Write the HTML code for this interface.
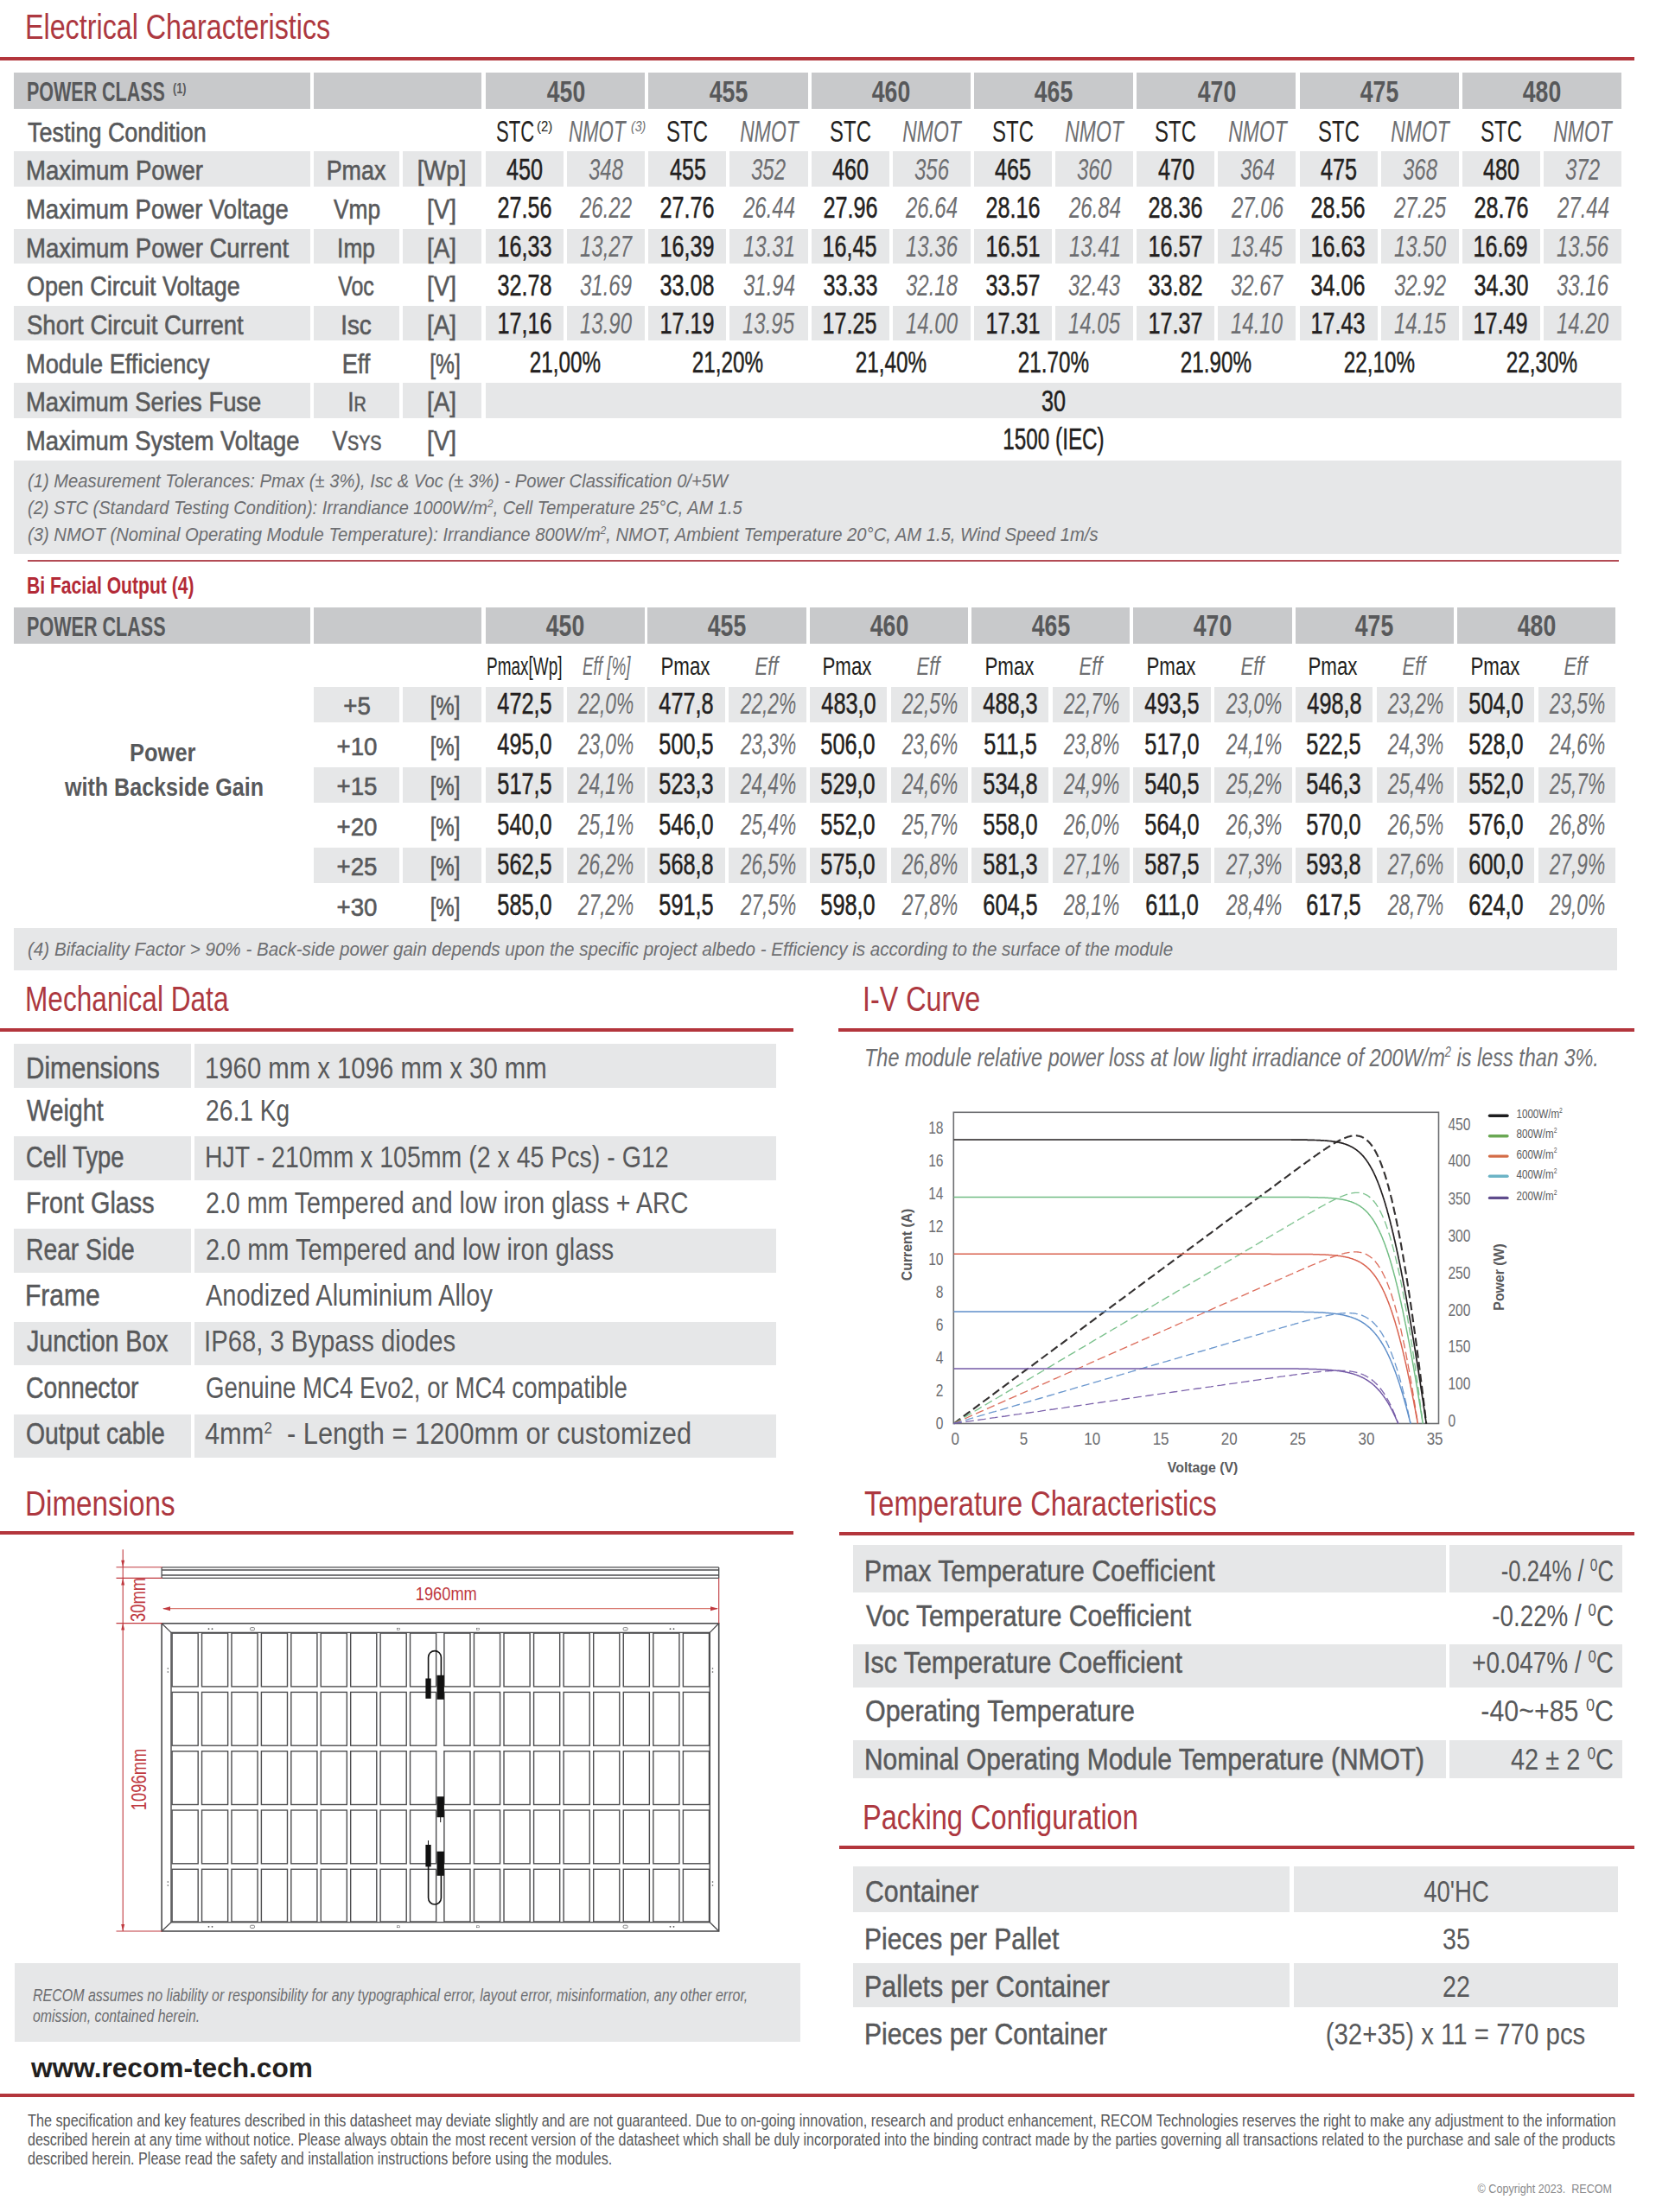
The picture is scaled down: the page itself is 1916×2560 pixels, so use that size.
<!DOCTYPE html>
<html><head><meta charset="utf-8"><title>RECOM datasheet</title>
<style>
html,body{margin:0;padding:0;background:#fff}
body{width:1916px;height:2560px;position:relative;overflow:hidden;font-family:"Liberation Sans",Arial,sans-serif}
.b{position:absolute}
.t{position:absolute;white-space:nowrap;line-height:1;font-family:"Liberation Sans",Arial,sans-serif}
.t sup{line-height:0}
svg{position:absolute;left:0;top:0}
</style></head><body>
<div class="t" style="left:29.1px;top:11.7px;font-size:39.8px;color:#ad3840;transform:scaleX(0.8106);transform-origin:left 50%;">Electrical Characteristics</div>
<div class="b" style="left:0.0px;top:66.0px;width:1891.0px;height:4.0px;background:#b3353c"></div>
<div class="b" style="left:16.0px;top:84.0px;width:343.0px;height:42.0px;background:#c8c9cb"></div>
<div class="b" style="left:363.0px;top:84.0px;width:194.0px;height:42.0px;background:#c8c9cb"></div>
<div class="b" style="left:562.0px;top:84.0px;width:184.3px;height:42.0px;background:#c8c9cb"></div>
<div class="b" style="left:750.3px;top:84.0px;width:184.3px;height:42.0px;background:#c8c9cb"></div>
<div class="b" style="left:938.6px;top:84.0px;width:184.3px;height:42.0px;background:#c8c9cb"></div>
<div class="b" style="left:1126.9px;top:84.0px;width:184.3px;height:42.0px;background:#c8c9cb"></div>
<div class="b" style="left:1315.2px;top:84.0px;width:184.3px;height:42.0px;background:#c8c9cb"></div>
<div class="b" style="left:1503.5px;top:84.0px;width:184.3px;height:42.0px;background:#c8c9cb"></div>
<div class="b" style="left:1691.8px;top:84.0px;width:184.3px;height:42.0px;background:#c8c9cb"></div>
<div class="b" style="left:16.0px;top:175.2px;width:343.0px;height:40.5px;background:#e6e7e8"></div>
<div class="b" style="left:363.0px;top:175.2px;width:99.0px;height:40.5px;background:#e6e7e8"></div>
<div class="b" style="left:466.0px;top:175.2px;width:91.0px;height:40.5px;background:#e6e7e8"></div>
<div class="b" style="left:562.0px;top:175.2px;width:90.0px;height:40.5px;background:#e6e7e8"></div>
<div class="b" style="left:656.0px;top:175.2px;width:90.3px;height:40.5px;background:#e6e7e8"></div>
<div class="b" style="left:750.3px;top:175.2px;width:90.0px;height:40.5px;background:#e6e7e8"></div>
<div class="b" style="left:844.3px;top:175.2px;width:90.3px;height:40.5px;background:#e6e7e8"></div>
<div class="b" style="left:938.6px;top:175.2px;width:90.0px;height:40.5px;background:#e6e7e8"></div>
<div class="b" style="left:1032.6px;top:175.2px;width:90.3px;height:40.5px;background:#e6e7e8"></div>
<div class="b" style="left:1126.9px;top:175.2px;width:90.0px;height:40.5px;background:#e6e7e8"></div>
<div class="b" style="left:1220.9px;top:175.2px;width:90.3px;height:40.5px;background:#e6e7e8"></div>
<div class="b" style="left:1315.2px;top:175.2px;width:90.0px;height:40.5px;background:#e6e7e8"></div>
<div class="b" style="left:1409.2px;top:175.2px;width:90.3px;height:40.5px;background:#e6e7e8"></div>
<div class="b" style="left:1503.5px;top:175.2px;width:90.0px;height:40.5px;background:#e6e7e8"></div>
<div class="b" style="left:1597.5px;top:175.2px;width:90.3px;height:40.5px;background:#e6e7e8"></div>
<div class="b" style="left:1691.8px;top:175.2px;width:90.0px;height:40.5px;background:#e6e7e8"></div>
<div class="b" style="left:1785.8px;top:175.2px;width:90.3px;height:40.5px;background:#e6e7e8"></div>
<div class="b" style="left:16.0px;top:264.5px;width:343.0px;height:40.5px;background:#e6e7e8"></div>
<div class="b" style="left:363.0px;top:264.5px;width:99.0px;height:40.5px;background:#e6e7e8"></div>
<div class="b" style="left:466.0px;top:264.5px;width:91.0px;height:40.5px;background:#e6e7e8"></div>
<div class="b" style="left:562.0px;top:264.5px;width:90.0px;height:40.5px;background:#e6e7e8"></div>
<div class="b" style="left:656.0px;top:264.5px;width:90.3px;height:40.5px;background:#e6e7e8"></div>
<div class="b" style="left:750.3px;top:264.5px;width:90.0px;height:40.5px;background:#e6e7e8"></div>
<div class="b" style="left:844.3px;top:264.5px;width:90.3px;height:40.5px;background:#e6e7e8"></div>
<div class="b" style="left:938.6px;top:264.5px;width:90.0px;height:40.5px;background:#e6e7e8"></div>
<div class="b" style="left:1032.6px;top:264.5px;width:90.3px;height:40.5px;background:#e6e7e8"></div>
<div class="b" style="left:1126.9px;top:264.5px;width:90.0px;height:40.5px;background:#e6e7e8"></div>
<div class="b" style="left:1220.9px;top:264.5px;width:90.3px;height:40.5px;background:#e6e7e8"></div>
<div class="b" style="left:1315.2px;top:264.5px;width:90.0px;height:40.5px;background:#e6e7e8"></div>
<div class="b" style="left:1409.2px;top:264.5px;width:90.3px;height:40.5px;background:#e6e7e8"></div>
<div class="b" style="left:1503.5px;top:264.5px;width:90.0px;height:40.5px;background:#e6e7e8"></div>
<div class="b" style="left:1597.5px;top:264.5px;width:90.3px;height:40.5px;background:#e6e7e8"></div>
<div class="b" style="left:1691.8px;top:264.5px;width:90.0px;height:40.5px;background:#e6e7e8"></div>
<div class="b" style="left:1785.8px;top:264.5px;width:90.3px;height:40.5px;background:#e6e7e8"></div>
<div class="b" style="left:16.0px;top:353.9px;width:343.0px;height:40.5px;background:#e6e7e8"></div>
<div class="b" style="left:363.0px;top:353.9px;width:99.0px;height:40.5px;background:#e6e7e8"></div>
<div class="b" style="left:466.0px;top:353.9px;width:91.0px;height:40.5px;background:#e6e7e8"></div>
<div class="b" style="left:562.0px;top:353.9px;width:90.0px;height:40.5px;background:#e6e7e8"></div>
<div class="b" style="left:656.0px;top:353.9px;width:90.3px;height:40.5px;background:#e6e7e8"></div>
<div class="b" style="left:750.3px;top:353.9px;width:90.0px;height:40.5px;background:#e6e7e8"></div>
<div class="b" style="left:844.3px;top:353.9px;width:90.3px;height:40.5px;background:#e6e7e8"></div>
<div class="b" style="left:938.6px;top:353.9px;width:90.0px;height:40.5px;background:#e6e7e8"></div>
<div class="b" style="left:1032.6px;top:353.9px;width:90.3px;height:40.5px;background:#e6e7e8"></div>
<div class="b" style="left:1126.9px;top:353.9px;width:90.0px;height:40.5px;background:#e6e7e8"></div>
<div class="b" style="left:1220.9px;top:353.9px;width:90.3px;height:40.5px;background:#e6e7e8"></div>
<div class="b" style="left:1315.2px;top:353.9px;width:90.0px;height:40.5px;background:#e6e7e8"></div>
<div class="b" style="left:1409.2px;top:353.9px;width:90.3px;height:40.5px;background:#e6e7e8"></div>
<div class="b" style="left:1503.5px;top:353.9px;width:90.0px;height:40.5px;background:#e6e7e8"></div>
<div class="b" style="left:1597.5px;top:353.9px;width:90.3px;height:40.5px;background:#e6e7e8"></div>
<div class="b" style="left:1691.8px;top:353.9px;width:90.0px;height:40.5px;background:#e6e7e8"></div>
<div class="b" style="left:1785.8px;top:353.9px;width:90.3px;height:40.5px;background:#e6e7e8"></div>
<div class="b" style="left:16.0px;top:443.2px;width:343.0px;height:40.5px;background:#e6e7e8"></div>
<div class="b" style="left:363.0px;top:443.2px;width:99.0px;height:40.5px;background:#e6e7e8"></div>
<div class="b" style="left:466.0px;top:443.2px;width:91.0px;height:40.5px;background:#e6e7e8"></div>
<div class="b" style="left:562.0px;top:443.2px;width:1314.0px;height:40.5px;background:#e6e7e8"></div>
<div class="b" style="left:16.0px;top:532.5px;width:1860.0px;height:108.5px;background:#e6e7e8"></div>
<div class="t" style="left:31.3px;top:91.0px;font-size:30.6px;color:#58595b;font-weight:700;transform:scaleX(0.702);transform-origin:left 50%;">POWER CLASS</div>
<div class="t" style="left:200.0px;top:94.4px;font-size:17px;color:#58595b;font-weight:700;transform:scaleX(0.7457);transform-origin:left 50%;">(1)</div>
<div class="t" style="left:654.6px;top:89.0px;font-size:34.3px;color:#58595b;font-weight:700;transform:translateX(-50%) scaleX(0.775);transform-origin:center 50%;">450</div>
<div class="t" style="left:842.5px;top:89.0px;font-size:34.3px;color:#58595b;font-weight:700;transform:translateX(-50%) scaleX(0.775);transform-origin:center 50%;">455</div>
<div class="t" style="left:1031.2px;top:89.0px;font-size:34.3px;color:#58595b;font-weight:700;transform:translateX(-50%) scaleX(0.775);transform-origin:center 50%;">460</div>
<div class="t" style="left:1219.1px;top:89.0px;font-size:34.3px;color:#58595b;font-weight:700;transform:translateX(-50%) scaleX(0.775);transform-origin:center 50%;">465</div>
<div class="t" style="left:1407.8px;top:89.0px;font-size:34.3px;color:#58595b;font-weight:700;transform:translateX(-50%) scaleX(0.775);transform-origin:center 50%;">470</div>
<div class="t" style="left:1595.7px;top:89.0px;font-size:34.3px;color:#58595b;font-weight:700;transform:translateX(-50%) scaleX(0.775);transform-origin:center 50%;">475</div>
<div class="t" style="left:1784.4px;top:89.0px;font-size:34.3px;color:#58595b;font-weight:700;transform:translateX(-50%) scaleX(0.775);transform-origin:center 50%;">480</div>
<div class="t" style="left:31.9px;top:137.7px;font-size:31.7px;color:#58595b;transform:scaleX(0.8506);transform-origin:left 50%;-webkit-text-stroke:0.6px #58595b;">Testing Condition</div>
<div class="t" style="left:30.2px;top:182.3px;font-size:31.7px;color:#58595b;transform:scaleX(0.8687);transform-origin:left 50%;-webkit-text-stroke:0.6px #58595b;">Maximum Power</div>
<div class="t" style="left:411.6px;top:182.3px;font-size:31.7px;color:#58595b;transform:translateX(-50%) scaleX(0.8477);transform-origin:center 50%;-webkit-text-stroke:0.6px #58595b;">Pmax</div>
<div class="t" style="left:511.4px;top:182.3px;font-size:31.7px;color:#58595b;transform:translateX(-50%) scaleX(0.8706);transform-origin:center 50%;-webkit-text-stroke:0.6px #58595b;">[Wp]</div>
<div class="t" style="left:30.2px;top:227.0px;font-size:31.7px;color:#58595b;transform:scaleX(0.8665);transform-origin:left 50%;-webkit-text-stroke:0.6px #58595b;">Maximum Power Voltage</div>
<div class="t" style="left:412.8px;top:227.0px;font-size:31.7px;color:#58595b;transform:translateX(-50%) scaleX(0.83);transform-origin:center 50%;-webkit-text-stroke:0.6px #58595b;">Vmp</div>
<div class="t" style="left:511.4px;top:227.0px;font-size:31.7px;color:#58595b;transform:translateX(-50%) scaleX(0.8815);transform-origin:center 50%;-webkit-text-stroke:0.6px #58595b;">[V]</div>
<div class="t" style="left:30.2px;top:271.7px;font-size:31.7px;color:#58595b;transform:scaleX(0.868);transform-origin:left 50%;-webkit-text-stroke:0.6px #58595b;">Maximum Power Current</div>
<div class="t" style="left:411.9px;top:271.7px;font-size:31.7px;color:#58595b;transform:translateX(-50%) scaleX(0.83);transform-origin:center 50%;-webkit-text-stroke:0.6px #58595b;">Imp</div>
<div class="t" style="left:511.4px;top:271.7px;font-size:31.7px;color:#58595b;transform:translateX(-50%) scaleX(0.8815);transform-origin:center 50%;-webkit-text-stroke:0.6px #58595b;">[A]</div>
<div class="t" style="left:31.1px;top:316.3px;font-size:31.7px;color:#58595b;transform:scaleX(0.8488);transform-origin:left 50%;-webkit-text-stroke:0.6px #58595b;">Open Circuit Voltage</div>
<div class="t" style="left:412.4px;top:316.3px;font-size:31.7px;color:#58595b;transform:translateX(-50%) scaleX(0.7867);transform-origin:center 50%;-webkit-text-stroke:0.6px #58595b;">Voc</div>
<div class="t" style="left:511.4px;top:316.3px;font-size:31.7px;color:#58595b;transform:translateX(-50%) scaleX(0.8815);transform-origin:center 50%;-webkit-text-stroke:0.6px #58595b;">[V]</div>
<div class="t" style="left:31.0px;top:361.0px;font-size:31.7px;color:#58595b;transform:scaleX(0.8681);transform-origin:left 50%;-webkit-text-stroke:0.6px #58595b;">Short Circuit Current</div>
<div class="t" style="left:411.6px;top:361.0px;font-size:31.7px;color:#58595b;transform:translateX(-50%) scaleX(0.8797);transform-origin:center 50%;-webkit-text-stroke:0.6px #58595b;">Isc</div>
<div class="t" style="left:511.4px;top:361.0px;font-size:31.7px;color:#58595b;transform:translateX(-50%) scaleX(0.8815);transform-origin:center 50%;-webkit-text-stroke:0.6px #58595b;">[A]</div>
<div class="t" style="left:30.2px;top:405.7px;font-size:31.7px;color:#58595b;transform:scaleX(0.8576);transform-origin:left 50%;-webkit-text-stroke:0.6px #58595b;">Module Efficiency</div>
<div class="t" style="left:411.6px;top:405.7px;font-size:31.7px;color:#58595b;transform:translateX(-50%) scaleX(0.8579);transform-origin:center 50%;-webkit-text-stroke:0.6px #58595b;">Eff</div>
<div class="t" style="left:514.9px;top:405.7px;font-size:31.7px;color:#58595b;transform:translateX(-50%) scaleX(0.7766);transform-origin:center 50%;-webkit-text-stroke:0.6px #58595b;">[%]</div>
<div class="t" style="left:30.2px;top:450.4px;font-size:31.7px;color:#58595b;transform:scaleX(0.8638);transform-origin:left 50%;-webkit-text-stroke:0.6px #58595b;">Maximum Series Fuse</div>
<div class="t" style="left:412.5px;top:450.4px;font-size:31.7px;color:#58595b;transform:translateX(-50%) scaleX(0.83);transform-origin:center 50%;-webkit-text-stroke:0.6px #58595b;">I<span style="font-size:0.75em">R</span></div>
<div class="t" style="left:511.4px;top:450.4px;font-size:31.7px;color:#58595b;transform:translateX(-50%) scaleX(0.8815);transform-origin:center 50%;-webkit-text-stroke:0.6px #58595b;">[A]</div>
<div class="t" style="left:30.2px;top:495.0px;font-size:31.7px;color:#58595b;transform:scaleX(0.8637);transform-origin:left 50%;-webkit-text-stroke:0.6px #58595b;">Maximum System Voltage</div>
<div class="t" style="left:412.5px;top:495.0px;font-size:31.7px;color:#58595b;transform:translateX(-50%) scaleX(0.83);transform-origin:center 50%;-webkit-text-stroke:0.6px #58595b;">V<span style="font-size:0.75em">SYS</span></div>
<div class="t" style="left:511.4px;top:495.0px;font-size:31.7px;color:#58595b;transform:translateX(-50%) scaleX(0.8815);transform-origin:center 50%;-webkit-text-stroke:0.6px #58595b;">[V]</div>
<div class="t" style="left:573.8px;top:135.1px;font-size:34.7px;color:#231f20;transform:scaleX(0.6357);transform-origin:left 50%;">STC</div>
<div class="t" style="left:620.6px;top:139.0px;font-size:16px;color:#231f20;transform:scaleX(0.9327);transform-origin:left 50%;">(2)</div>
<div class="t" style="left:658.2px;top:135.1px;font-size:34.7px;color:#6d6e71;font-style:italic;transform:scaleX(0.6418);transform-origin:left 50%;">NMOT</div>
<div class="t" style="left:729.5px;top:139.0px;font-size:16px;color:#6d6e71;font-style:italic;transform:scaleX(0.8842);transform-origin:left 50%;">(3)</div>
<div class="t" style="left:795.3px;top:135.1px;font-size:34.7px;color:#231f20;transform:translateX(-50%) scaleX(0.69);transform-origin:center 50%;">STC</div>
<div class="t" style="left:889.7px;top:135.1px;font-size:34.7px;color:#6d6e71;font-style:italic;transform:translateX(-50%) scaleX(0.66);transform-origin:center 50%;">NMOT</div>
<div class="t" style="left:983.6px;top:135.1px;font-size:34.7px;color:#231f20;transform:translateX(-50%) scaleX(0.69);transform-origin:center 50%;">STC</div>
<div class="t" style="left:1078.0px;top:135.1px;font-size:34.7px;color:#6d6e71;font-style:italic;transform:translateX(-50%) scaleX(0.66);transform-origin:center 50%;">NMOT</div>
<div class="t" style="left:1171.9px;top:135.1px;font-size:34.7px;color:#231f20;transform:translateX(-50%) scaleX(0.69);transform-origin:center 50%;">STC</div>
<div class="t" style="left:1266.3px;top:135.1px;font-size:34.7px;color:#6d6e71;font-style:italic;transform:translateX(-50%) scaleX(0.66);transform-origin:center 50%;">NMOT</div>
<div class="t" style="left:1360.2px;top:135.1px;font-size:34.7px;color:#231f20;transform:translateX(-50%) scaleX(0.69);transform-origin:center 50%;">STC</div>
<div class="t" style="left:1454.6px;top:135.1px;font-size:34.7px;color:#6d6e71;font-style:italic;transform:translateX(-50%) scaleX(0.66);transform-origin:center 50%;">NMOT</div>
<div class="t" style="left:1548.5px;top:135.1px;font-size:34.7px;color:#231f20;transform:translateX(-50%) scaleX(0.69);transform-origin:center 50%;">STC</div>
<div class="t" style="left:1642.9px;top:135.1px;font-size:34.7px;color:#6d6e71;font-style:italic;transform:translateX(-50%) scaleX(0.66);transform-origin:center 50%;">NMOT</div>
<div class="t" style="left:1736.8px;top:135.1px;font-size:34.7px;color:#231f20;transform:translateX(-50%) scaleX(0.69);transform-origin:center 50%;">STC</div>
<div class="t" style="left:1831.2px;top:135.1px;font-size:34.7px;color:#6d6e71;font-style:italic;transform:translateX(-50%) scaleX(0.66);transform-origin:center 50%;">NMOT</div>
<div class="t" style="left:607.3px;top:178.7px;font-size:35.7px;color:#231f20;transform:translateX(-50%) scaleX(0.706);transform-origin:center 50%;-webkit-text-stroke:0.5px #231f20;">450</div>
<div class="t" style="left:701.1px;top:178.7px;font-size:35.7px;color:#6d6e71;font-style:italic;transform:translateX(-50%) scaleX(0.672);transform-origin:center 50%;">348</div>
<div class="t" style="left:795.6px;top:178.7px;font-size:35.7px;color:#231f20;transform:translateX(-50%) scaleX(0.706);transform-origin:center 50%;-webkit-text-stroke:0.5px #231f20;">455</div>
<div class="t" style="left:889.4px;top:178.7px;font-size:35.7px;color:#6d6e71;font-style:italic;transform:translateX(-50%) scaleX(0.672);transform-origin:center 50%;">352</div>
<div class="t" style="left:983.9px;top:178.7px;font-size:35.7px;color:#231f20;transform:translateX(-50%) scaleX(0.706);transform-origin:center 50%;-webkit-text-stroke:0.5px #231f20;">460</div>
<div class="t" style="left:1077.7px;top:178.7px;font-size:35.7px;color:#6d6e71;font-style:italic;transform:translateX(-50%) scaleX(0.672);transform-origin:center 50%;">356</div>
<div class="t" style="left:1172.2px;top:178.7px;font-size:35.7px;color:#231f20;transform:translateX(-50%) scaleX(0.706);transform-origin:center 50%;-webkit-text-stroke:0.5px #231f20;">465</div>
<div class="t" style="left:1266.0px;top:178.7px;font-size:35.7px;color:#6d6e71;font-style:italic;transform:translateX(-50%) scaleX(0.672);transform-origin:center 50%;">360</div>
<div class="t" style="left:1360.5px;top:178.7px;font-size:35.7px;color:#231f20;transform:translateX(-50%) scaleX(0.706);transform-origin:center 50%;-webkit-text-stroke:0.5px #231f20;">470</div>
<div class="t" style="left:1454.6px;top:178.7px;font-size:35.7px;color:#6d6e71;font-style:italic;transform:translateX(-50%) scaleX(0.672);transform-origin:center 50%;">364</div>
<div class="t" style="left:1548.8px;top:178.7px;font-size:35.7px;color:#231f20;transform:translateX(-50%) scaleX(0.706);transform-origin:center 50%;-webkit-text-stroke:0.5px #231f20;">475</div>
<div class="t" style="left:1642.6px;top:178.7px;font-size:35.7px;color:#6d6e71;font-style:italic;transform:translateX(-50%) scaleX(0.672);transform-origin:center 50%;">368</div>
<div class="t" style="left:1737.1px;top:178.7px;font-size:35.7px;color:#231f20;transform:translateX(-50%) scaleX(0.706);transform-origin:center 50%;-webkit-text-stroke:0.5px #231f20;">480</div>
<div class="t" style="left:1830.9px;top:178.7px;font-size:35.7px;color:#6d6e71;font-style:italic;transform:translateX(-50%) scaleX(0.672);transform-origin:center 50%;">372</div>
<div class="t" style="left:606.9px;top:223.4px;font-size:35.7px;color:#231f20;transform:translateX(-50%) scaleX(0.706);transform-origin:center 50%;-webkit-text-stroke:0.5px #231f20;">27.56</div>
<div class="t" style="left:701.4px;top:223.4px;font-size:35.7px;color:#6d6e71;font-style:italic;transform:translateX(-50%) scaleX(0.672);transform-origin:center 50%;">26.22</div>
<div class="t" style="left:795.2px;top:223.4px;font-size:35.7px;color:#231f20;transform:translateX(-50%) scaleX(0.706);transform-origin:center 50%;-webkit-text-stroke:0.5px #231f20;">27.76</div>
<div class="t" style="left:890.1px;top:223.4px;font-size:35.7px;color:#6d6e71;font-style:italic;transform:translateX(-50%) scaleX(0.672);transform-origin:center 50%;">26.44</div>
<div class="t" style="left:983.5px;top:223.4px;font-size:35.7px;color:#231f20;transform:translateX(-50%) scaleX(0.706);transform-origin:center 50%;-webkit-text-stroke:0.5px #231f20;">27.96</div>
<div class="t" style="left:1078.4px;top:223.4px;font-size:35.7px;color:#6d6e71;font-style:italic;transform:translateX(-50%) scaleX(0.672);transform-origin:center 50%;">26.64</div>
<div class="t" style="left:1171.8px;top:223.4px;font-size:35.7px;color:#231f20;transform:translateX(-50%) scaleX(0.706);transform-origin:center 50%;-webkit-text-stroke:0.5px #231f20;">28.16</div>
<div class="t" style="left:1266.7px;top:223.4px;font-size:35.7px;color:#6d6e71;font-style:italic;transform:translateX(-50%) scaleX(0.672);transform-origin:center 50%;">26.84</div>
<div class="t" style="left:1360.1px;top:223.4px;font-size:35.7px;color:#231f20;transform:translateX(-50%) scaleX(0.706);transform-origin:center 50%;-webkit-text-stroke:0.5px #231f20;">28.36</div>
<div class="t" style="left:1454.6px;top:223.4px;font-size:35.7px;color:#6d6e71;font-style:italic;transform:translateX(-50%) scaleX(0.672);transform-origin:center 50%;">27.06</div>
<div class="t" style="left:1548.4px;top:223.4px;font-size:35.7px;color:#231f20;transform:translateX(-50%) scaleX(0.706);transform-origin:center 50%;-webkit-text-stroke:0.5px #231f20;">28.56</div>
<div class="t" style="left:1642.9px;top:223.4px;font-size:35.7px;color:#6d6e71;font-style:italic;transform:translateX(-50%) scaleX(0.672);transform-origin:center 50%;">27.25</div>
<div class="t" style="left:1736.7px;top:223.4px;font-size:35.7px;color:#231f20;transform:translateX(-50%) scaleX(0.706);transform-origin:center 50%;-webkit-text-stroke:0.5px #231f20;">28.76</div>
<div class="t" style="left:1831.6px;top:223.4px;font-size:35.7px;color:#6d6e71;font-style:italic;transform:translateX(-50%) scaleX(0.672);transform-origin:center 50%;">27.44</div>
<div class="t" style="left:606.6px;top:268.1px;font-size:35.7px;color:#231f20;transform:translateX(-50%) scaleX(0.706);transform-origin:center 50%;-webkit-text-stroke:0.5px #231f20;">16,33</div>
<div class="t" style="left:700.8px;top:268.1px;font-size:35.7px;color:#6d6e71;font-style:italic;transform:translateX(-50%) scaleX(0.672);transform-origin:center 50%;">13,27</div>
<div class="t" style="left:794.9px;top:268.1px;font-size:35.7px;color:#231f20;transform:translateX(-50%) scaleX(0.706);transform-origin:center 50%;-webkit-text-stroke:0.5px #231f20;">16,39</div>
<div class="t" style="left:890.4px;top:268.1px;font-size:35.7px;color:#6d6e71;font-style:italic;transform:translateX(-50%) scaleX(0.672);transform-origin:center 50%;">13.31</div>
<div class="t" style="left:983.2px;top:268.1px;font-size:35.7px;color:#231f20;transform:translateX(-50%) scaleX(0.706);transform-origin:center 50%;-webkit-text-stroke:0.5px #231f20;">16,45</div>
<div class="t" style="left:1077.7px;top:268.1px;font-size:35.7px;color:#6d6e71;font-style:italic;transform:translateX(-50%) scaleX(0.672);transform-origin:center 50%;">13.36</div>
<div class="t" style="left:1171.5px;top:268.1px;font-size:35.7px;color:#231f20;transform:translateX(-50%) scaleX(0.706);transform-origin:center 50%;-webkit-text-stroke:0.5px #231f20;">16.51</div>
<div class="t" style="left:1267.0px;top:268.1px;font-size:35.7px;color:#6d6e71;font-style:italic;transform:translateX(-50%) scaleX(0.672);transform-origin:center 50%;">13.41</div>
<div class="t" style="left:1359.8px;top:268.1px;font-size:35.7px;color:#231f20;transform:translateX(-50%) scaleX(0.706);transform-origin:center 50%;-webkit-text-stroke:0.5px #231f20;">16.57</div>
<div class="t" style="left:1454.3px;top:268.1px;font-size:35.7px;color:#6d6e71;font-style:italic;transform:translateX(-50%) scaleX(0.672);transform-origin:center 50%;">13.45</div>
<div class="t" style="left:1548.1px;top:268.1px;font-size:35.7px;color:#231f20;transform:translateX(-50%) scaleX(0.706);transform-origin:center 50%;-webkit-text-stroke:0.5px #231f20;">16.63</div>
<div class="t" style="left:1642.6px;top:268.1px;font-size:35.7px;color:#6d6e71;font-style:italic;transform:translateX(-50%) scaleX(0.672);transform-origin:center 50%;">13.50</div>
<div class="t" style="left:1736.4px;top:268.1px;font-size:35.7px;color:#231f20;transform:translateX(-50%) scaleX(0.706);transform-origin:center 50%;-webkit-text-stroke:0.5px #231f20;">16.69</div>
<div class="t" style="left:1830.9px;top:268.1px;font-size:35.7px;color:#6d6e71;font-style:italic;transform:translateX(-50%) scaleX(0.672);transform-origin:center 50%;">13.56</div>
<div class="t" style="left:606.9px;top:312.8px;font-size:35.7px;color:#231f20;transform:translateX(-50%) scaleX(0.706);transform-origin:center 50%;-webkit-text-stroke:0.5px #231f20;">32.78</div>
<div class="t" style="left:701.1px;top:312.8px;font-size:35.7px;color:#6d6e71;font-style:italic;transform:translateX(-50%) scaleX(0.672);transform-origin:center 50%;">31.69</div>
<div class="t" style="left:795.2px;top:312.8px;font-size:35.7px;color:#231f20;transform:translateX(-50%) scaleX(0.706);transform-origin:center 50%;-webkit-text-stroke:0.5px #231f20;">33.08</div>
<div class="t" style="left:889.7px;top:312.8px;font-size:35.7px;color:#6d6e71;font-style:italic;transform:translateX(-50%) scaleX(0.672);transform-origin:center 50%;">31.94</div>
<div class="t" style="left:983.5px;top:312.8px;font-size:35.7px;color:#231f20;transform:translateX(-50%) scaleX(0.706);transform-origin:center 50%;-webkit-text-stroke:0.5px #231f20;">33.33</div>
<div class="t" style="left:1077.7px;top:312.8px;font-size:35.7px;color:#6d6e71;font-style:italic;transform:translateX(-50%) scaleX(0.672);transform-origin:center 50%;">32.18</div>
<div class="t" style="left:1171.8px;top:312.8px;font-size:35.7px;color:#231f20;transform:translateX(-50%) scaleX(0.706);transform-origin:center 50%;-webkit-text-stroke:0.5px #231f20;">33.57</div>
<div class="t" style="left:1266.0px;top:312.8px;font-size:35.7px;color:#6d6e71;font-style:italic;transform:translateX(-50%) scaleX(0.672);transform-origin:center 50%;">32.43</div>
<div class="t" style="left:1360.1px;top:312.8px;font-size:35.7px;color:#231f20;transform:translateX(-50%) scaleX(0.706);transform-origin:center 50%;-webkit-text-stroke:0.5px #231f20;">33.82</div>
<div class="t" style="left:1454.0px;top:312.8px;font-size:35.7px;color:#6d6e71;font-style:italic;transform:translateX(-50%) scaleX(0.672);transform-origin:center 50%;">32.67</div>
<div class="t" style="left:1548.4px;top:312.8px;font-size:35.7px;color:#231f20;transform:translateX(-50%) scaleX(0.706);transform-origin:center 50%;-webkit-text-stroke:0.5px #231f20;">34.06</div>
<div class="t" style="left:1642.6px;top:312.8px;font-size:35.7px;color:#6d6e71;font-style:italic;transform:translateX(-50%) scaleX(0.672);transform-origin:center 50%;">32.92</div>
<div class="t" style="left:1736.7px;top:312.8px;font-size:35.7px;color:#231f20;transform:translateX(-50%) scaleX(0.706);transform-origin:center 50%;-webkit-text-stroke:0.5px #231f20;">34.30</div>
<div class="t" style="left:1830.9px;top:312.8px;font-size:35.7px;color:#6d6e71;font-style:italic;transform:translateX(-50%) scaleX(0.672);transform-origin:center 50%;">33.16</div>
<div class="t" style="left:606.6px;top:357.4px;font-size:35.7px;color:#231f20;transform:translateX(-50%) scaleX(0.706);transform-origin:center 50%;-webkit-text-stroke:0.5px #231f20;">17,16</div>
<div class="t" style="left:701.1px;top:357.4px;font-size:35.7px;color:#6d6e71;font-style:italic;transform:translateX(-50%) scaleX(0.672);transform-origin:center 50%;">13.90</div>
<div class="t" style="left:794.9px;top:357.4px;font-size:35.7px;color:#231f20;transform:translateX(-50%) scaleX(0.706);transform-origin:center 50%;-webkit-text-stroke:0.5px #231f20;">17.19</div>
<div class="t" style="left:889.4px;top:357.4px;font-size:35.7px;color:#6d6e71;font-style:italic;transform:translateX(-50%) scaleX(0.672);transform-origin:center 50%;">13.95</div>
<div class="t" style="left:983.2px;top:357.4px;font-size:35.7px;color:#231f20;transform:translateX(-50%) scaleX(0.706);transform-origin:center 50%;-webkit-text-stroke:0.5px #231f20;">17.25</div>
<div class="t" style="left:1077.7px;top:357.4px;font-size:35.7px;color:#6d6e71;font-style:italic;transform:translateX(-50%) scaleX(0.672);transform-origin:center 50%;">14.00</div>
<div class="t" style="left:1171.5px;top:357.4px;font-size:35.7px;color:#231f20;transform:translateX(-50%) scaleX(0.706);transform-origin:center 50%;-webkit-text-stroke:0.5px #231f20;">17.31</div>
<div class="t" style="left:1266.0px;top:357.4px;font-size:35.7px;color:#6d6e71;font-style:italic;transform:translateX(-50%) scaleX(0.672);transform-origin:center 50%;">14.05</div>
<div class="t" style="left:1359.8px;top:357.4px;font-size:35.7px;color:#231f20;transform:translateX(-50%) scaleX(0.706);transform-origin:center 50%;-webkit-text-stroke:0.5px #231f20;">17.37</div>
<div class="t" style="left:1454.3px;top:357.4px;font-size:35.7px;color:#6d6e71;font-style:italic;transform:translateX(-50%) scaleX(0.672);transform-origin:center 50%;">14.10</div>
<div class="t" style="left:1548.1px;top:357.4px;font-size:35.7px;color:#231f20;transform:translateX(-50%) scaleX(0.706);transform-origin:center 50%;-webkit-text-stroke:0.5px #231f20;">17.43</div>
<div class="t" style="left:1642.6px;top:357.4px;font-size:35.7px;color:#6d6e71;font-style:italic;transform:translateX(-50%) scaleX(0.672);transform-origin:center 50%;">14.15</div>
<div class="t" style="left:1736.4px;top:357.4px;font-size:35.7px;color:#231f20;transform:translateX(-50%) scaleX(0.706);transform-origin:center 50%;-webkit-text-stroke:0.5px #231f20;">17.49</div>
<div class="t" style="left:1830.9px;top:357.4px;font-size:35.7px;color:#6d6e71;font-style:italic;transform:translateX(-50%) scaleX(0.672);transform-origin:center 50%;">14.20</div>
<div class="t" style="left:654.1px;top:402.1px;font-size:35.7px;color:#231f20;transform:translateX(-50%) scaleX(0.68);transform-origin:center 50%;-webkit-text-stroke:0.5px #231f20;">21,00%</div>
<div class="t" style="left:842.4px;top:402.1px;font-size:35.7px;color:#231f20;transform:translateX(-50%) scaleX(0.68);transform-origin:center 50%;-webkit-text-stroke:0.5px #231f20;">21,20%</div>
<div class="t" style="left:1030.7px;top:402.1px;font-size:35.7px;color:#231f20;transform:translateX(-50%) scaleX(0.68);transform-origin:center 50%;-webkit-text-stroke:0.5px #231f20;">21,40%</div>
<div class="t" style="left:1219.0px;top:402.1px;font-size:35.7px;color:#231f20;transform:translateX(-50%) scaleX(0.68);transform-origin:center 50%;-webkit-text-stroke:0.5px #231f20;">21.70%</div>
<div class="t" style="left:1407.3px;top:402.1px;font-size:35.7px;color:#231f20;transform:translateX(-50%) scaleX(0.68);transform-origin:center 50%;-webkit-text-stroke:0.5px #231f20;">21.90%</div>
<div class="t" style="left:1595.6px;top:402.1px;font-size:35.7px;color:#231f20;transform:translateX(-50%) scaleX(0.68);transform-origin:center 50%;-webkit-text-stroke:0.5px #231f20;">22,10%</div>
<div class="t" style="left:1783.9px;top:402.1px;font-size:35.7px;color:#231f20;transform:translateX(-50%) scaleX(0.68);transform-origin:center 50%;-webkit-text-stroke:0.5px #231f20;">22,30%</div>
<div class="t" style="left:1218.9px;top:446.8px;font-size:35.7px;color:#231f20;transform:translateX(-50%) scaleX(0.706);transform-origin:center 50%;-webkit-text-stroke:0.5px #231f20;">30</div>
<div class="t" style="left:1219.0px;top:491.4px;font-size:35.7px;color:#231f20;transform:translateX(-50%) scaleX(0.68);transform-origin:center 50%;-webkit-text-stroke:0.5px #231f20;">1500 (IEC)</div>
<div class="t" style="left:32.1px;top:545.9px;font-size:21.8px;color:#6d6e71;font-style:italic;transform:scaleX(0.9263);transform-origin:left 50%;">(1) Measurement Tolerances: Pmax (± 3%), Isc &amp; Voc (±  3%)  - Power Classification 0/+5W</div>
<div class="t" style="left:32.2px;top:576.7px;font-size:21.8px;color:#6d6e71;font-style:italic;transform:scaleX(0.918);transform-origin:left 50%;">(2) STC (Standard Testing Condition): Irrandiance 1000W/m<sup style="font-size:0.6em">2</sup>, Cell Temperature 25°C, AM 1.5</div>
<div class="t" style="left:32.2px;top:607.5px;font-size:21.8px;color:#6d6e71;font-style:italic;transform:scaleX(0.928);transform-origin:left 50%;">(3) NMOT (Nominal Operating Module Temperature): Irrandiance 800W/m<sup style="font-size:0.6em">2</sup>, NMOT, Ambient Temperature 20°C, AM 1.5, Wind Speed 1m/s</div>
<div class="b" style="left:32.0px;top:647.6px;width:1841.0px;height:2.4px;background:#b34c55"></div>
<div class="t" style="left:31.1px;top:664.3px;font-size:28px;color:#b32a37;font-weight:700;transform:scaleX(0.7537);transform-origin:left 50%;">Bi Facial Output (4)</div>
<div class="b" style="left:16.0px;top:702.5px;width:343.0px;height:42.0px;background:#c8c9cb"></div>
<div class="b" style="left:363.0px;top:702.5px;width:194.0px;height:42.0px;background:#c8c9cb"></div>
<div class="b" style="left:562.0px;top:702.5px;width:183.5px;height:42.0px;background:#c8c9cb"></div>
<div class="b" style="left:749.3px;top:702.5px;width:183.5px;height:42.0px;background:#c8c9cb"></div>
<div class="b" style="left:936.6px;top:702.5px;width:183.5px;height:42.0px;background:#c8c9cb"></div>
<div class="b" style="left:1123.9px;top:702.5px;width:183.5px;height:42.0px;background:#c8c9cb"></div>
<div class="b" style="left:1311.2px;top:702.5px;width:183.5px;height:42.0px;background:#c8c9cb"></div>
<div class="b" style="left:1498.5px;top:702.5px;width:183.5px;height:42.0px;background:#c8c9cb"></div>
<div class="b" style="left:1685.8px;top:702.5px;width:183.5px;height:42.0px;background:#c8c9cb"></div>
<div class="b" style="left:363.0px;top:795.2px;width:99.0px;height:40.8px;background:#e6e7e8"></div>
<div class="b" style="left:466.0px;top:795.2px;width:91.0px;height:40.8px;background:#e6e7e8"></div>
<div class="b" style="left:562.0px;top:795.2px;width:89.5px;height:40.8px;background:#e6e7e8"></div>
<div class="b" style="left:656.0px;top:795.2px;width:89.5px;height:40.8px;background:#e6e7e8"></div>
<div class="b" style="left:749.3px;top:795.2px;width:89.5px;height:40.8px;background:#e6e7e8"></div>
<div class="b" style="left:843.3px;top:795.2px;width:89.5px;height:40.8px;background:#e6e7e8"></div>
<div class="b" style="left:936.6px;top:795.2px;width:89.5px;height:40.8px;background:#e6e7e8"></div>
<div class="b" style="left:1030.6px;top:795.2px;width:89.5px;height:40.8px;background:#e6e7e8"></div>
<div class="b" style="left:1123.9px;top:795.2px;width:89.5px;height:40.8px;background:#e6e7e8"></div>
<div class="b" style="left:1217.9px;top:795.2px;width:89.5px;height:40.8px;background:#e6e7e8"></div>
<div class="b" style="left:1311.2px;top:795.2px;width:89.5px;height:40.8px;background:#e6e7e8"></div>
<div class="b" style="left:1405.2px;top:795.2px;width:89.5px;height:40.8px;background:#e6e7e8"></div>
<div class="b" style="left:1498.5px;top:795.2px;width:89.5px;height:40.8px;background:#e6e7e8"></div>
<div class="b" style="left:1592.5px;top:795.2px;width:89.5px;height:40.8px;background:#e6e7e8"></div>
<div class="b" style="left:1685.8px;top:795.2px;width:89.5px;height:40.8px;background:#e6e7e8"></div>
<div class="b" style="left:1779.8px;top:795.2px;width:89.5px;height:40.8px;background:#e6e7e8"></div>
<div class="b" style="left:363.0px;top:888.2px;width:99.0px;height:40.8px;background:#e6e7e8"></div>
<div class="b" style="left:466.0px;top:888.2px;width:91.0px;height:40.8px;background:#e6e7e8"></div>
<div class="b" style="left:562.0px;top:888.2px;width:89.5px;height:40.8px;background:#e6e7e8"></div>
<div class="b" style="left:656.0px;top:888.2px;width:89.5px;height:40.8px;background:#e6e7e8"></div>
<div class="b" style="left:749.3px;top:888.2px;width:89.5px;height:40.8px;background:#e6e7e8"></div>
<div class="b" style="left:843.3px;top:888.2px;width:89.5px;height:40.8px;background:#e6e7e8"></div>
<div class="b" style="left:936.6px;top:888.2px;width:89.5px;height:40.8px;background:#e6e7e8"></div>
<div class="b" style="left:1030.6px;top:888.2px;width:89.5px;height:40.8px;background:#e6e7e8"></div>
<div class="b" style="left:1123.9px;top:888.2px;width:89.5px;height:40.8px;background:#e6e7e8"></div>
<div class="b" style="left:1217.9px;top:888.2px;width:89.5px;height:40.8px;background:#e6e7e8"></div>
<div class="b" style="left:1311.2px;top:888.2px;width:89.5px;height:40.8px;background:#e6e7e8"></div>
<div class="b" style="left:1405.2px;top:888.2px;width:89.5px;height:40.8px;background:#e6e7e8"></div>
<div class="b" style="left:1498.5px;top:888.2px;width:89.5px;height:40.8px;background:#e6e7e8"></div>
<div class="b" style="left:1592.5px;top:888.2px;width:89.5px;height:40.8px;background:#e6e7e8"></div>
<div class="b" style="left:1685.8px;top:888.2px;width:89.5px;height:40.8px;background:#e6e7e8"></div>
<div class="b" style="left:1779.8px;top:888.2px;width:89.5px;height:40.8px;background:#e6e7e8"></div>
<div class="b" style="left:363.0px;top:981.2px;width:99.0px;height:40.8px;background:#e6e7e8"></div>
<div class="b" style="left:466.0px;top:981.2px;width:91.0px;height:40.8px;background:#e6e7e8"></div>
<div class="b" style="left:562.0px;top:981.2px;width:89.5px;height:40.8px;background:#e6e7e8"></div>
<div class="b" style="left:656.0px;top:981.2px;width:89.5px;height:40.8px;background:#e6e7e8"></div>
<div class="b" style="left:749.3px;top:981.2px;width:89.5px;height:40.8px;background:#e6e7e8"></div>
<div class="b" style="left:843.3px;top:981.2px;width:89.5px;height:40.8px;background:#e6e7e8"></div>
<div class="b" style="left:936.6px;top:981.2px;width:89.5px;height:40.8px;background:#e6e7e8"></div>
<div class="b" style="left:1030.6px;top:981.2px;width:89.5px;height:40.8px;background:#e6e7e8"></div>
<div class="b" style="left:1123.9px;top:981.2px;width:89.5px;height:40.8px;background:#e6e7e8"></div>
<div class="b" style="left:1217.9px;top:981.2px;width:89.5px;height:40.8px;background:#e6e7e8"></div>
<div class="b" style="left:1311.2px;top:981.2px;width:89.5px;height:40.8px;background:#e6e7e8"></div>
<div class="b" style="left:1405.2px;top:981.2px;width:89.5px;height:40.8px;background:#e6e7e8"></div>
<div class="b" style="left:1498.5px;top:981.2px;width:89.5px;height:40.8px;background:#e6e7e8"></div>
<div class="b" style="left:1592.5px;top:981.2px;width:89.5px;height:40.8px;background:#e6e7e8"></div>
<div class="b" style="left:1685.8px;top:981.2px;width:89.5px;height:40.8px;background:#e6e7e8"></div>
<div class="b" style="left:1779.8px;top:981.2px;width:89.5px;height:40.8px;background:#e6e7e8"></div>
<div class="b" style="left:16.0px;top:1074.2px;width:1855.0px;height:48.8px;background:#e6e7e8"></div>
<div class="t" style="left:31.3px;top:709.7px;font-size:30.6px;color:#58595b;font-weight:700;transform:scaleX(0.7047);transform-origin:left 50%;">POWER CLASS</div>
<div class="t" style="left:654.2px;top:707.3px;font-size:34.3px;color:#58595b;font-weight:700;transform:translateX(-50%) scaleX(0.775);transform-origin:center 50%;">450</div>
<div class="t" style="left:841.1px;top:707.3px;font-size:34.3px;color:#58595b;font-weight:700;transform:translateX(-50%) scaleX(0.775);transform-origin:center 50%;">455</div>
<div class="t" style="left:1028.8px;top:707.3px;font-size:34.3px;color:#58595b;font-weight:700;transform:translateX(-50%) scaleX(0.775);transform-origin:center 50%;">460</div>
<div class="t" style="left:1215.7px;top:707.3px;font-size:34.3px;color:#58595b;font-weight:700;transform:translateX(-50%) scaleX(0.775);transform-origin:center 50%;">465</div>
<div class="t" style="left:1403.4px;top:707.3px;font-size:34.3px;color:#58595b;font-weight:700;transform:translateX(-50%) scaleX(0.775);transform-origin:center 50%;">470</div>
<div class="t" style="left:1590.3px;top:707.3px;font-size:34.3px;color:#58595b;font-weight:700;transform:translateX(-50%) scaleX(0.775);transform-origin:center 50%;">475</div>
<div class="t" style="left:1778.0px;top:707.3px;font-size:34.3px;color:#58595b;font-weight:700;transform:translateX(-50%) scaleX(0.775);transform-origin:center 50%;">480</div>
<div class="t" style="left:562.9px;top:756.9px;font-size:29px;color:#231f20;transform:scaleX(0.6554);transform-origin:left 50%;">Pmax[Wp]</div>
<div class="t" style="left:674.1px;top:756.9px;font-size:29px;color:#6d6e71;font-style:italic;transform:scaleX(0.6508);transform-origin:left 50%;">Eff [%]</div>
<div class="t" style="left:793.1px;top:756.9px;font-size:29px;color:#231f20;transform:translateX(-50%) scaleX(0.77);transform-origin:center 50%;">Pmax</div>
<div class="t" style="left:886.9px;top:756.9px;font-size:29px;color:#6d6e71;font-style:italic;transform:translateX(-50%) scaleX(0.76);transform-origin:center 50%;">Eff</div>
<div class="t" style="left:980.4px;top:756.9px;font-size:29px;color:#231f20;transform:translateX(-50%) scaleX(0.77);transform-origin:center 50%;">Pmax</div>
<div class="t" style="left:1074.2px;top:756.9px;font-size:29px;color:#6d6e71;font-style:italic;transform:translateX(-50%) scaleX(0.76);transform-origin:center 50%;">Eff</div>
<div class="t" style="left:1167.7px;top:756.9px;font-size:29px;color:#231f20;transform:translateX(-50%) scaleX(0.77);transform-origin:center 50%;">Pmax</div>
<div class="t" style="left:1261.5px;top:756.9px;font-size:29px;color:#6d6e71;font-style:italic;transform:translateX(-50%) scaleX(0.76);transform-origin:center 50%;">Eff</div>
<div class="t" style="left:1355.0px;top:756.9px;font-size:29px;color:#231f20;transform:translateX(-50%) scaleX(0.77);transform-origin:center 50%;">Pmax</div>
<div class="t" style="left:1448.8px;top:756.9px;font-size:29px;color:#6d6e71;font-style:italic;transform:translateX(-50%) scaleX(0.76);transform-origin:center 50%;">Eff</div>
<div class="t" style="left:1542.3px;top:756.9px;font-size:29px;color:#231f20;transform:translateX(-50%) scaleX(0.77);transform-origin:center 50%;">Pmax</div>
<div class="t" style="left:1636.1px;top:756.9px;font-size:29px;color:#6d6e71;font-style:italic;transform:translateX(-50%) scaleX(0.76);transform-origin:center 50%;">Eff</div>
<div class="t" style="left:1729.6px;top:756.9px;font-size:29px;color:#231f20;transform:translateX(-50%) scaleX(0.77);transform-origin:center 50%;">Pmax</div>
<div class="t" style="left:1823.4px;top:756.9px;font-size:29px;color:#6d6e71;font-style:italic;transform:translateX(-50%) scaleX(0.76);transform-origin:center 50%;">Eff</div>
<div class="t" style="left:412.5px;top:801.0px;font-size:30.4px;color:#58595b;transform:translateX(-50%) scaleX(0.91);transform-origin:center 50%;-webkit-text-stroke:0.6px #58595b;">+5</div>
<div class="t" style="left:515.3px;top:801.0px;font-size:30.4px;color:#58595b;transform:translateX(-50%) scaleX(0.79);transform-origin:center 50%;-webkit-text-stroke:0.6px #58595b;">[%]</div>
<div class="t" style="left:607.1px;top:797.0px;font-size:35.7px;color:#231f20;transform:translateX(-50%) scaleX(0.71);transform-origin:center 50%;-webkit-text-stroke:0.5px #231f20;">472,5</div>
<div class="t" style="left:701.3px;top:797.0px;font-size:35.7px;color:#6d6e71;font-style:italic;transform:translateX(-50%) scaleX(0.638);transform-origin:center 50%;">22,0%</div>
<div class="t" style="left:794.4px;top:797.0px;font-size:35.7px;color:#231f20;transform:translateX(-50%) scaleX(0.71);transform-origin:center 50%;-webkit-text-stroke:0.5px #231f20;">477,8</div>
<div class="t" style="left:888.6px;top:797.0px;font-size:35.7px;color:#6d6e71;font-style:italic;transform:translateX(-50%) scaleX(0.638);transform-origin:center 50%;">22,2%</div>
<div class="t" style="left:981.7px;top:797.0px;font-size:35.7px;color:#231f20;transform:translateX(-50%) scaleX(0.71);transform-origin:center 50%;-webkit-text-stroke:0.5px #231f20;">483,0</div>
<div class="t" style="left:1075.9px;top:797.0px;font-size:35.7px;color:#6d6e71;font-style:italic;transform:translateX(-50%) scaleX(0.638);transform-origin:center 50%;">22,5%</div>
<div class="t" style="left:1169.0px;top:797.0px;font-size:35.7px;color:#231f20;transform:translateX(-50%) scaleX(0.71);transform-origin:center 50%;-webkit-text-stroke:0.5px #231f20;">488,3</div>
<div class="t" style="left:1263.2px;top:797.0px;font-size:35.7px;color:#6d6e71;font-style:italic;transform:translateX(-50%) scaleX(0.638);transform-origin:center 50%;">22,7%</div>
<div class="t" style="left:1356.3px;top:797.0px;font-size:35.7px;color:#231f20;transform:translateX(-50%) scaleX(0.71);transform-origin:center 50%;-webkit-text-stroke:0.5px #231f20;">493,5</div>
<div class="t" style="left:1450.5px;top:797.0px;font-size:35.7px;color:#6d6e71;font-style:italic;transform:translateX(-50%) scaleX(0.638);transform-origin:center 50%;">23,0%</div>
<div class="t" style="left:1543.6px;top:797.0px;font-size:35.7px;color:#231f20;transform:translateX(-50%) scaleX(0.71);transform-origin:center 50%;-webkit-text-stroke:0.5px #231f20;">498,8</div>
<div class="t" style="left:1637.8px;top:797.0px;font-size:35.7px;color:#6d6e71;font-style:italic;transform:translateX(-50%) scaleX(0.638);transform-origin:center 50%;">23,2%</div>
<div class="t" style="left:1730.5px;top:797.0px;font-size:35.7px;color:#231f20;transform:translateX(-50%) scaleX(0.71);transform-origin:center 50%;-webkit-text-stroke:0.5px #231f20;">504,0</div>
<div class="t" style="left:1825.1px;top:797.0px;font-size:35.7px;color:#6d6e71;font-style:italic;transform:translateX(-50%) scaleX(0.638);transform-origin:center 50%;">23,5%</div>
<div class="t" style="left:412.5px;top:847.5px;font-size:30.4px;color:#58595b;transform:translateX(-50%) scaleX(0.91);transform-origin:center 50%;-webkit-text-stroke:0.6px #58595b;">+10</div>
<div class="t" style="left:515.3px;top:847.5px;font-size:30.4px;color:#58595b;transform:translateX(-50%) scaleX(0.79);transform-origin:center 50%;-webkit-text-stroke:0.6px #58595b;">[%]</div>
<div class="t" style="left:607.1px;top:843.5px;font-size:35.7px;color:#231f20;transform:translateX(-50%) scaleX(0.71);transform-origin:center 50%;-webkit-text-stroke:0.5px #231f20;">495,0</div>
<div class="t" style="left:701.3px;top:843.5px;font-size:35.7px;color:#6d6e71;font-style:italic;transform:translateX(-50%) scaleX(0.638);transform-origin:center 50%;">23,0%</div>
<div class="t" style="left:794.0px;top:843.5px;font-size:35.7px;color:#231f20;transform:translateX(-50%) scaleX(0.71);transform-origin:center 50%;-webkit-text-stroke:0.5px #231f20;">500,5</div>
<div class="t" style="left:888.6px;top:843.5px;font-size:35.7px;color:#6d6e71;font-style:italic;transform:translateX(-50%) scaleX(0.638);transform-origin:center 50%;">23,3%</div>
<div class="t" style="left:981.3px;top:843.5px;font-size:35.7px;color:#231f20;transform:translateX(-50%) scaleX(0.71);transform-origin:center 50%;-webkit-text-stroke:0.5px #231f20;">506,0</div>
<div class="t" style="left:1075.9px;top:843.5px;font-size:35.7px;color:#6d6e71;font-style:italic;transform:translateX(-50%) scaleX(0.638);transform-origin:center 50%;">23,6%</div>
<div class="t" style="left:1168.6px;top:843.5px;font-size:35.7px;color:#231f20;transform:translateX(-50%) scaleX(0.71);transform-origin:center 50%;-webkit-text-stroke:0.5px #231f20;">511,5</div>
<div class="t" style="left:1263.2px;top:843.5px;font-size:35.7px;color:#6d6e71;font-style:italic;transform:translateX(-50%) scaleX(0.638);transform-origin:center 50%;">23,8%</div>
<div class="t" style="left:1355.9px;top:843.5px;font-size:35.7px;color:#231f20;transform:translateX(-50%) scaleX(0.71);transform-origin:center 50%;-webkit-text-stroke:0.5px #231f20;">517,0</div>
<div class="t" style="left:1450.5px;top:843.5px;font-size:35.7px;color:#6d6e71;font-style:italic;transform:translateX(-50%) scaleX(0.638);transform-origin:center 50%;">24,1%</div>
<div class="t" style="left:1543.2px;top:843.5px;font-size:35.7px;color:#231f20;transform:translateX(-50%) scaleX(0.71);transform-origin:center 50%;-webkit-text-stroke:0.5px #231f20;">522,5</div>
<div class="t" style="left:1637.8px;top:843.5px;font-size:35.7px;color:#6d6e71;font-style:italic;transform:translateX(-50%) scaleX(0.638);transform-origin:center 50%;">24,3%</div>
<div class="t" style="left:1730.5px;top:843.5px;font-size:35.7px;color:#231f20;transform:translateX(-50%) scaleX(0.71);transform-origin:center 50%;-webkit-text-stroke:0.5px #231f20;">528,0</div>
<div class="t" style="left:1825.1px;top:843.5px;font-size:35.7px;color:#6d6e71;font-style:italic;transform:translateX(-50%) scaleX(0.638);transform-origin:center 50%;">24,6%</div>
<div class="t" style="left:412.5px;top:894.0px;font-size:30.4px;color:#58595b;transform:translateX(-50%) scaleX(0.91);transform-origin:center 50%;-webkit-text-stroke:0.6px #58595b;">+15</div>
<div class="t" style="left:515.3px;top:894.0px;font-size:30.4px;color:#58595b;transform:translateX(-50%) scaleX(0.79);transform-origin:center 50%;-webkit-text-stroke:0.6px #58595b;">[%]</div>
<div class="t" style="left:606.7px;top:890.0px;font-size:35.7px;color:#231f20;transform:translateX(-50%) scaleX(0.71);transform-origin:center 50%;-webkit-text-stroke:0.5px #231f20;">517,5</div>
<div class="t" style="left:701.3px;top:890.0px;font-size:35.7px;color:#6d6e71;font-style:italic;transform:translateX(-50%) scaleX(0.638);transform-origin:center 50%;">24,1%</div>
<div class="t" style="left:794.0px;top:890.0px;font-size:35.7px;color:#231f20;transform:translateX(-50%) scaleX(0.71);transform-origin:center 50%;-webkit-text-stroke:0.5px #231f20;">523,3</div>
<div class="t" style="left:888.6px;top:890.0px;font-size:35.7px;color:#6d6e71;font-style:italic;transform:translateX(-50%) scaleX(0.638);transform-origin:center 50%;">24,4%</div>
<div class="t" style="left:981.3px;top:890.0px;font-size:35.7px;color:#231f20;transform:translateX(-50%) scaleX(0.71);transform-origin:center 50%;-webkit-text-stroke:0.5px #231f20;">529,0</div>
<div class="t" style="left:1075.9px;top:890.0px;font-size:35.7px;color:#6d6e71;font-style:italic;transform:translateX(-50%) scaleX(0.638);transform-origin:center 50%;">24,6%</div>
<div class="t" style="left:1168.6px;top:890.0px;font-size:35.7px;color:#231f20;transform:translateX(-50%) scaleX(0.71);transform-origin:center 50%;-webkit-text-stroke:0.5px #231f20;">534,8</div>
<div class="t" style="left:1263.2px;top:890.0px;font-size:35.7px;color:#6d6e71;font-style:italic;transform:translateX(-50%) scaleX(0.638);transform-origin:center 50%;">24,9%</div>
<div class="t" style="left:1355.9px;top:890.0px;font-size:35.7px;color:#231f20;transform:translateX(-50%) scaleX(0.71);transform-origin:center 50%;-webkit-text-stroke:0.5px #231f20;">540,5</div>
<div class="t" style="left:1450.5px;top:890.0px;font-size:35.7px;color:#6d6e71;font-style:italic;transform:translateX(-50%) scaleX(0.638);transform-origin:center 50%;">25,2%</div>
<div class="t" style="left:1543.2px;top:890.0px;font-size:35.7px;color:#231f20;transform:translateX(-50%) scaleX(0.71);transform-origin:center 50%;-webkit-text-stroke:0.5px #231f20;">546,3</div>
<div class="t" style="left:1637.8px;top:890.0px;font-size:35.7px;color:#6d6e71;font-style:italic;transform:translateX(-50%) scaleX(0.638);transform-origin:center 50%;">25,4%</div>
<div class="t" style="left:1730.5px;top:890.0px;font-size:35.7px;color:#231f20;transform:translateX(-50%) scaleX(0.71);transform-origin:center 50%;-webkit-text-stroke:0.5px #231f20;">552,0</div>
<div class="t" style="left:1825.1px;top:890.0px;font-size:35.7px;color:#6d6e71;font-style:italic;transform:translateX(-50%) scaleX(0.638);transform-origin:center 50%;">25,7%</div>
<div class="t" style="left:412.5px;top:940.5px;font-size:30.4px;color:#58595b;transform:translateX(-50%) scaleX(0.91);transform-origin:center 50%;-webkit-text-stroke:0.6px #58595b;">+20</div>
<div class="t" style="left:515.3px;top:940.5px;font-size:30.4px;color:#58595b;transform:translateX(-50%) scaleX(0.79);transform-origin:center 50%;-webkit-text-stroke:0.6px #58595b;">[%]</div>
<div class="t" style="left:606.7px;top:936.5px;font-size:35.7px;color:#231f20;transform:translateX(-50%) scaleX(0.71);transform-origin:center 50%;-webkit-text-stroke:0.5px #231f20;">540,0</div>
<div class="t" style="left:701.3px;top:936.5px;font-size:35.7px;color:#6d6e71;font-style:italic;transform:translateX(-50%) scaleX(0.638);transform-origin:center 50%;">25,1%</div>
<div class="t" style="left:794.0px;top:936.5px;font-size:35.7px;color:#231f20;transform:translateX(-50%) scaleX(0.71);transform-origin:center 50%;-webkit-text-stroke:0.5px #231f20;">546,0</div>
<div class="t" style="left:888.6px;top:936.5px;font-size:35.7px;color:#6d6e71;font-style:italic;transform:translateX(-50%) scaleX(0.638);transform-origin:center 50%;">25,4%</div>
<div class="t" style="left:981.3px;top:936.5px;font-size:35.7px;color:#231f20;transform:translateX(-50%) scaleX(0.71);transform-origin:center 50%;-webkit-text-stroke:0.5px #231f20;">552,0</div>
<div class="t" style="left:1075.9px;top:936.5px;font-size:35.7px;color:#6d6e71;font-style:italic;transform:translateX(-50%) scaleX(0.638);transform-origin:center 50%;">25,7%</div>
<div class="t" style="left:1168.6px;top:936.5px;font-size:35.7px;color:#231f20;transform:translateX(-50%) scaleX(0.71);transform-origin:center 50%;-webkit-text-stroke:0.5px #231f20;">558,0</div>
<div class="t" style="left:1263.2px;top:936.5px;font-size:35.7px;color:#6d6e71;font-style:italic;transform:translateX(-50%) scaleX(0.638);transform-origin:center 50%;">26,0%</div>
<div class="t" style="left:1355.9px;top:936.5px;font-size:35.7px;color:#231f20;transform:translateX(-50%) scaleX(0.71);transform-origin:center 50%;-webkit-text-stroke:0.5px #231f20;">564,0</div>
<div class="t" style="left:1450.5px;top:936.5px;font-size:35.7px;color:#6d6e71;font-style:italic;transform:translateX(-50%) scaleX(0.638);transform-origin:center 50%;">26,3%</div>
<div class="t" style="left:1543.2px;top:936.5px;font-size:35.7px;color:#231f20;transform:translateX(-50%) scaleX(0.71);transform-origin:center 50%;-webkit-text-stroke:0.5px #231f20;">570,0</div>
<div class="t" style="left:1637.8px;top:936.5px;font-size:35.7px;color:#6d6e71;font-style:italic;transform:translateX(-50%) scaleX(0.638);transform-origin:center 50%;">26,5%</div>
<div class="t" style="left:1730.5px;top:936.5px;font-size:35.7px;color:#231f20;transform:translateX(-50%) scaleX(0.71);transform-origin:center 50%;-webkit-text-stroke:0.5px #231f20;">576,0</div>
<div class="t" style="left:1825.1px;top:936.5px;font-size:35.7px;color:#6d6e71;font-style:italic;transform:translateX(-50%) scaleX(0.638);transform-origin:center 50%;">26,8%</div>
<div class="t" style="left:412.5px;top:987.0px;font-size:30.4px;color:#58595b;transform:translateX(-50%) scaleX(0.91);transform-origin:center 50%;-webkit-text-stroke:0.6px #58595b;">+25</div>
<div class="t" style="left:515.3px;top:987.0px;font-size:30.4px;color:#58595b;transform:translateX(-50%) scaleX(0.79);transform-origin:center 50%;-webkit-text-stroke:0.6px #58595b;">[%]</div>
<div class="t" style="left:606.7px;top:983.0px;font-size:35.7px;color:#231f20;transform:translateX(-50%) scaleX(0.71);transform-origin:center 50%;-webkit-text-stroke:0.5px #231f20;">562,5</div>
<div class="t" style="left:701.3px;top:983.0px;font-size:35.7px;color:#6d6e71;font-style:italic;transform:translateX(-50%) scaleX(0.638);transform-origin:center 50%;">26,2%</div>
<div class="t" style="left:794.0px;top:983.0px;font-size:35.7px;color:#231f20;transform:translateX(-50%) scaleX(0.71);transform-origin:center 50%;-webkit-text-stroke:0.5px #231f20;">568,8</div>
<div class="t" style="left:888.6px;top:983.0px;font-size:35.7px;color:#6d6e71;font-style:italic;transform:translateX(-50%) scaleX(0.638);transform-origin:center 50%;">26,5%</div>
<div class="t" style="left:981.3px;top:983.0px;font-size:35.7px;color:#231f20;transform:translateX(-50%) scaleX(0.71);transform-origin:center 50%;-webkit-text-stroke:0.5px #231f20;">575,0</div>
<div class="t" style="left:1075.9px;top:983.0px;font-size:35.7px;color:#6d6e71;font-style:italic;transform:translateX(-50%) scaleX(0.638);transform-origin:center 50%;">26,8%</div>
<div class="t" style="left:1168.6px;top:983.0px;font-size:35.7px;color:#231f20;transform:translateX(-50%) scaleX(0.71);transform-origin:center 50%;-webkit-text-stroke:0.5px #231f20;">581,3</div>
<div class="t" style="left:1263.2px;top:983.0px;font-size:35.7px;color:#6d6e71;font-style:italic;transform:translateX(-50%) scaleX(0.638);transform-origin:center 50%;">27,1%</div>
<div class="t" style="left:1355.9px;top:983.0px;font-size:35.7px;color:#231f20;transform:translateX(-50%) scaleX(0.71);transform-origin:center 50%;-webkit-text-stroke:0.5px #231f20;">587,5</div>
<div class="t" style="left:1450.5px;top:983.0px;font-size:35.7px;color:#6d6e71;font-style:italic;transform:translateX(-50%) scaleX(0.638);transform-origin:center 50%;">27,3%</div>
<div class="t" style="left:1543.2px;top:983.0px;font-size:35.7px;color:#231f20;transform:translateX(-50%) scaleX(0.71);transform-origin:center 50%;-webkit-text-stroke:0.5px #231f20;">593,8</div>
<div class="t" style="left:1637.8px;top:983.0px;font-size:35.7px;color:#6d6e71;font-style:italic;transform:translateX(-50%) scaleX(0.638);transform-origin:center 50%;">27,6%</div>
<div class="t" style="left:1730.5px;top:983.0px;font-size:35.7px;color:#231f20;transform:translateX(-50%) scaleX(0.71);transform-origin:center 50%;-webkit-text-stroke:0.5px #231f20;">600,0</div>
<div class="t" style="left:1825.1px;top:983.0px;font-size:35.7px;color:#6d6e71;font-style:italic;transform:translateX(-50%) scaleX(0.638);transform-origin:center 50%;">27,9%</div>
<div class="t" style="left:412.5px;top:1033.5px;font-size:30.4px;color:#58595b;transform:translateX(-50%) scaleX(0.91);transform-origin:center 50%;-webkit-text-stroke:0.6px #58595b;">+30</div>
<div class="t" style="left:515.3px;top:1033.5px;font-size:30.4px;color:#58595b;transform:translateX(-50%) scaleX(0.79);transform-origin:center 50%;-webkit-text-stroke:0.6px #58595b;">[%]</div>
<div class="t" style="left:606.7px;top:1029.5px;font-size:35.7px;color:#231f20;transform:translateX(-50%) scaleX(0.71);transform-origin:center 50%;-webkit-text-stroke:0.5px #231f20;">585,0</div>
<div class="t" style="left:701.3px;top:1029.5px;font-size:35.7px;color:#6d6e71;font-style:italic;transform:translateX(-50%) scaleX(0.638);transform-origin:center 50%;">27,2%</div>
<div class="t" style="left:794.0px;top:1029.5px;font-size:35.7px;color:#231f20;transform:translateX(-50%) scaleX(0.71);transform-origin:center 50%;-webkit-text-stroke:0.5px #231f20;">591,5</div>
<div class="t" style="left:888.6px;top:1029.5px;font-size:35.7px;color:#6d6e71;font-style:italic;transform:translateX(-50%) scaleX(0.638);transform-origin:center 50%;">27,5%</div>
<div class="t" style="left:981.3px;top:1029.5px;font-size:35.7px;color:#231f20;transform:translateX(-50%) scaleX(0.71);transform-origin:center 50%;-webkit-text-stroke:0.5px #231f20;">598,0</div>
<div class="t" style="left:1075.9px;top:1029.5px;font-size:35.7px;color:#6d6e71;font-style:italic;transform:translateX(-50%) scaleX(0.638);transform-origin:center 50%;">27,8%</div>
<div class="t" style="left:1168.6px;top:1029.5px;font-size:35.7px;color:#231f20;transform:translateX(-50%) scaleX(0.71);transform-origin:center 50%;-webkit-text-stroke:0.5px #231f20;">604,5</div>
<div class="t" style="left:1263.2px;top:1029.5px;font-size:35.7px;color:#6d6e71;font-style:italic;transform:translateX(-50%) scaleX(0.638);transform-origin:center 50%;">28,1%</div>
<div class="t" style="left:1355.9px;top:1029.5px;font-size:35.7px;color:#231f20;transform:translateX(-50%) scaleX(0.71);transform-origin:center 50%;-webkit-text-stroke:0.5px #231f20;">611,0</div>
<div class="t" style="left:1450.5px;top:1029.5px;font-size:35.7px;color:#6d6e71;font-style:italic;transform:translateX(-50%) scaleX(0.638);transform-origin:center 50%;">28,4%</div>
<div class="t" style="left:1543.2px;top:1029.5px;font-size:35.7px;color:#231f20;transform:translateX(-50%) scaleX(0.71);transform-origin:center 50%;-webkit-text-stroke:0.5px #231f20;">617,5</div>
<div class="t" style="left:1637.8px;top:1029.5px;font-size:35.7px;color:#6d6e71;font-style:italic;transform:translateX(-50%) scaleX(0.638);transform-origin:center 50%;">28,7%</div>
<div class="t" style="left:1730.5px;top:1029.5px;font-size:35.7px;color:#231f20;transform:translateX(-50%) scaleX(0.71);transform-origin:center 50%;-webkit-text-stroke:0.5px #231f20;">624,0</div>
<div class="t" style="left:1825.1px;top:1029.5px;font-size:35.7px;color:#6d6e71;font-style:italic;transform:translateX(-50%) scaleX(0.638);transform-origin:center 50%;">29,0%</div>
<div class="t" style="left:149.8px;top:856.2px;font-size:30.2px;color:#58595b;font-weight:700;transform:scaleX(0.8442);transform-origin:left 50%;">Power</div>
<div class="t" style="left:74.5px;top:895.7px;font-size:30.2px;color:#58595b;font-weight:700;transform:scaleX(0.8308);transform-origin:left 50%;">with Backside Gain</div>
<div class="t" style="left:32.1px;top:1088.0px;font-size:21.8px;color:#6d6e71;font-style:italic;transform:scaleX(0.9449);transform-origin:left 50%;">(4) Bifaciality Factor &gt; 90% - Back-side power gain depends upon the specific project albedo - Efficiency is according to the surface of the module</div>
<div class="t" style="left:29.3px;top:1135.5px;font-size:40px;color:#ad3840;transform:scaleX(0.7904);transform-origin:left 50%;">Mechanical Data</div>
<div class="b" style="left:0.0px;top:1190.0px;width:918.0px;height:4.0px;background:#b3353c"></div>
<div class="b" style="left:16.0px;top:1208.0px;width:205.0px;height:50.5px;background:#e6e7e8"></div>
<div class="b" style="left:225.0px;top:1208.0px;width:673.0px;height:50.5px;background:#e6e7e8"></div>
<div class="t" style="left:29.5px;top:1218.9px;font-size:34.2px;color:#58595b;transform:scaleX(0.8666);transform-origin:left 50%;-webkit-text-stroke:0.5px #58595b;">Dimensions</div>
<div class="t" style="left:236.7px;top:1218.9px;font-size:34.2px;color:#58595b;transform:scaleX(0.857);transform-origin:left 50%;">1960 mm x 1096 mm x 30 mm</div>
<div class="t" style="left:31.2px;top:1268.4px;font-size:34.2px;color:#58595b;transform:scaleX(0.8383);transform-origin:left 50%;-webkit-text-stroke:0.5px #58595b;">Weight</div>
<div class="t" style="left:237.6px;top:1268.4px;font-size:34.2px;color:#58595b;transform:scaleX(0.8255);transform-origin:left 50%;">26.1 Kg</div>
<div class="b" style="left:16.0px;top:1315.2px;width:205.0px;height:50.5px;background:#e6e7e8"></div>
<div class="b" style="left:225.0px;top:1315.2px;width:673.0px;height:50.5px;background:#e6e7e8"></div>
<div class="t" style="left:30.4px;top:1321.8px;font-size:34.2px;color:#58595b;transform:scaleX(0.8);transform-origin:left 50%;-webkit-text-stroke:0.5px #58595b;">Cell Type</div>
<div class="t" style="left:236.7px;top:1321.8px;font-size:34.2px;color:#58595b;transform:scaleX(0.834);transform-origin:left 50%;">HJT - 210mm x 105mm (2 x 45 Pcs) - G12</div>
<div class="t" style="left:29.5px;top:1375.2px;font-size:34.2px;color:#58595b;transform:scaleX(0.8405);transform-origin:left 50%;-webkit-text-stroke:0.5px #58595b;">Front Glass</div>
<div class="t" style="left:237.6px;top:1375.2px;font-size:34.2px;color:#58595b;transform:scaleX(0.8367);transform-origin:left 50%;">2.0 mm Tempered and low iron glass + ARC</div>
<div class="b" style="left:16.0px;top:1422.4px;width:205.0px;height:50.5px;background:#e6e7e8"></div>
<div class="b" style="left:225.0px;top:1422.4px;width:673.0px;height:50.5px;background:#e6e7e8"></div>
<div class="t" style="left:29.5px;top:1428.6px;font-size:34.2px;color:#58595b;transform:scaleX(0.8268);transform-origin:left 50%;-webkit-text-stroke:0.5px #58595b;">Rear Side</div>
<div class="t" style="left:237.6px;top:1428.6px;font-size:34.2px;color:#58595b;transform:scaleX(0.8463);transform-origin:left 50%;">2.0 mm Tempered and low iron glass</div>
<div class="t" style="left:29.4px;top:1482.0px;font-size:34.2px;color:#58595b;transform:scaleX(0.8772);transform-origin:left 50%;-webkit-text-stroke:0.5px #58595b;">Frame</div>
<div class="t" style="left:238.4px;top:1482.0px;font-size:34.2px;color:#58595b;transform:scaleX(0.8479);transform-origin:left 50%;">Anodized Aluminium Alloy</div>
<div class="b" style="left:16.0px;top:1529.6px;width:205.0px;height:50.5px;background:#e6e7e8"></div>
<div class="b" style="left:225.0px;top:1529.6px;width:673.0px;height:50.5px;background:#e6e7e8"></div>
<div class="t" style="left:31.2px;top:1535.4px;font-size:34.2px;color:#58595b;transform:scaleX(0.8357);transform-origin:left 50%;-webkit-text-stroke:0.5px #58595b;">Junction Box</div>
<div class="t" style="left:235.8px;top:1535.4px;font-size:34.2px;color:#58595b;transform:scaleX(0.856);transform-origin:left 50%;">IP68, 3 Bypass diodes</div>
<div class="t" style="left:30.4px;top:1588.8px;font-size:34.2px;color:#58595b;transform:scaleX(0.8276);transform-origin:left 50%;-webkit-text-stroke:0.5px #58595b;">Connector</div>
<div class="t" style="left:237.6px;top:1588.8px;font-size:34.2px;color:#58595b;transform:scaleX(0.8073);transform-origin:left 50%;">Genuine MC4 Evo2, or MC4 compatible</div>
<div class="b" style="left:16.0px;top:1636.8px;width:205.0px;height:50.5px;background:#e6e7e8"></div>
<div class="b" style="left:225.0px;top:1636.8px;width:673.0px;height:50.5px;background:#e6e7e8"></div>
<div class="t" style="left:30.4px;top:1642.2px;font-size:34.2px;color:#58595b;transform:scaleX(0.8288);transform-origin:left 50%;-webkit-text-stroke:0.5px #58595b;">Output cable</div>
<div class="t" style="left:237.2px;top:1642.2px;font-size:34.2px;color:#58595b;transform:scaleX(0.9006);transform-origin:left 50%;">4mm<sup style="font-size:0.55em">2</sup>&nbsp; - Length = 1200mm or customized</div>
<div class="t" style="left:998.0px;top:1135.9px;font-size:40px;color:#ad3840;transform:scaleX(0.8064);transform-origin:left 50%;">I-V Curve</div>
<div class="b" style="left:970.4px;top:1190.0px;width:920.3px;height:4.0px;background:#b3353c"></div>
<div class="t" style="left:999.9px;top:1209.4px;font-size:29.9px;color:#6d6e71;font-style:italic;transform:scaleX(0.7852);transform-origin:left 50%;">The module relative power loss at low light irradiance of 200W/m<sup style="font-size:0.55em">2</sup> is less than 3%.</div>
<div class="t" style="left:28.7px;top:1719.7px;font-size:40px;color:#ad3840;transform:scaleX(0.8309);transform-origin:left 50%;">Dimensions</div>
<div class="b" style="left:0.0px;top:1772.3px;width:918.0px;height:4.0px;background:#b3353c"></div>
<div class="b" style="left:17.0px;top:2272.0px;width:909.0px;height:91.0px;background:#e6e7e8"></div>
<div class="t" style="left:38.0px;top:2298.9px;font-size:20px;color:#6d6e71;font-style:italic;transform:scaleX(0.7994);transform-origin:left 50%;">RECOM assumes no liability or responsibility for any typographical error, layout error, misinformation, any other error,</div>
<div class="t" style="left:38.0px;top:2322.7px;font-size:20px;color:#6d6e71;font-style:italic;transform:scaleX(0.7937);transform-origin:left 50%;">omission, contained herein.</div>
<div class="t" style="left:35.8px;top:2376.6px;font-size:32px;color:#231f20;font-weight:700;transform:scaleX(0.9887);transform-origin:left 50%;">www.recom-tech.com</div>
<div class="t" style="left:1000.4px;top:1719.7px;font-size:40px;color:#ad3840;transform:scaleX(0.8153);transform-origin:left 50%;">Temperature Characteristics</div>
<div class="b" style="left:971.0px;top:1773.0px;width:920.0px;height:4.0px;background:#b3353c"></div>
<div class="b" style="left:986.7px;top:1787.5px;width:686.3px;height:55.5px;background:#e6e7e8"></div>
<div class="b" style="left:1677.0px;top:1787.5px;width:200.0px;height:55.5px;background:#e6e7e8"></div>
<div class="b" style="left:986.7px;top:1902.8px;width:686.3px;height:50.7px;background:#e6e7e8"></div>
<div class="b" style="left:1677.0px;top:1902.8px;width:200.0px;height:50.7px;background:#e6e7e8"></div>
<div class="b" style="left:986.7px;top:2013.6px;width:686.3px;height:44.4px;background:#e6e7e8"></div>
<div class="b" style="left:1677.0px;top:2013.6px;width:200.0px;height:44.4px;background:#e6e7e8"></div>
<div class="t" style="left:999.8px;top:1800.5px;font-size:34.5px;color:#58595b;transform:scaleX(0.8763);transform-origin:left 50%;-webkit-text-stroke:0.5px #58595b;">Pmax Temperature Coefficient</div>
<div class="t" style="left:1866.5px;top:1800.5px;font-size:34.5px;color:#58595b;transform:translateX(-100%) scaleX(0.7464);transform-origin:right 50%;">-0.24% / <sup style="font-size:0.6em">0</sup>C</div>
<div class="t" style="left:1001.6px;top:1852.5px;font-size:34.5px;color:#58595b;transform:scaleX(0.8703);transform-origin:left 50%;-webkit-text-stroke:0.5px #58595b;">Voc Temperature Coefficient</div>
<div class="t" style="left:1866.5px;top:1852.5px;font-size:34.5px;color:#58595b;transform:translateX(-100%) scaleX(0.807);transform-origin:right 50%;">-0.22% / <sup style="font-size:0.6em">0</sup>C</div>
<div class="t" style="left:999.0px;top:1907.4px;font-size:34.5px;color:#58595b;transform:scaleX(0.8812);transform-origin:left 50%;-webkit-text-stroke:0.5px #58595b;">Isc Temperature Coefficient</div>
<div class="t" style="left:1866.5px;top:1907.4px;font-size:34.5px;color:#58595b;transform:translateX(-100%) scaleX(0.8101);transform-origin:right 50%;">+0.047% / <sup style="font-size:0.6em">0</sup>C</div>
<div class="t" style="left:1000.7px;top:1963.2px;font-size:34.5px;color:#58595b;transform:scaleX(0.8809);transform-origin:left 50%;-webkit-text-stroke:0.5px #58595b;">Operating Temperature</div>
<div class="t" style="left:1866.5px;top:1963.2px;font-size:34.5px;color:#58595b;transform:translateX(-100%) scaleX(0.8807);transform-origin:right 50%;">-40~+85 <sup style="font-size:0.6em">0</sup>C</div>
<div class="t" style="left:999.9px;top:2018.8px;font-size:34.5px;color:#58595b;transform:scaleX(0.8673);transform-origin:left 50%;-webkit-text-stroke:0.5px #58595b;">Nominal Operating Module Temperature (NMOT)</div>
<div class="t" style="left:1866.5px;top:2018.8px;font-size:34.5px;color:#58595b;transform:translateX(-100%) scaleX(0.8399);transform-origin:right 50%;">42 ± 2 <sup style="font-size:0.6em">0</sup>C</div>
<div class="t" style="left:998.0px;top:2083.4px;font-size:40px;color:#ad3840;transform:scaleX(0.8148);transform-origin:left 50%;">Packing Configuration</div>
<div class="b" style="left:971.0px;top:2136.0px;width:920.0px;height:4.0px;background:#b3353c"></div>
<div class="b" style="left:986.6px;top:2159.9px;width:505.7px;height:53.1px;background:#e6e7e8"></div>
<div class="b" style="left:1497.0px;top:2159.9px;width:375.2px;height:53.1px;background:#e6e7e8"></div>
<div class="b" style="left:986.6px;top:2271.9px;width:505.7px;height:50.8px;background:#e6e7e8"></div>
<div class="b" style="left:1497.0px;top:2271.9px;width:375.2px;height:50.8px;background:#e6e7e8"></div>
<div class="t" style="left:1000.7px;top:2172.3px;font-size:34.5px;color:#58595b;transform:scaleX(0.8771);transform-origin:left 50%;-webkit-text-stroke:0.5px #58595b;">Container</div>
<div class="t" style="left:1685.0px;top:2172.3px;font-size:34.5px;color:#58595b;transform:translateX(-50%) scaleX(0.7989);transform-origin:center 50%;">40'HC</div>
<div class="t" style="left:999.9px;top:2227.1px;font-size:34.5px;color:#58595b;transform:scaleX(0.8706);transform-origin:left 50%;-webkit-text-stroke:0.5px #58595b;">Pieces per Pallet</div>
<div class="t" style="left:1684.7px;top:2227.1px;font-size:34.5px;color:#58595b;transform:translateX(-50%) scaleX(0.829);transform-origin:center 50%;">35</div>
<div class="t" style="left:999.8px;top:2281.8px;font-size:34.5px;color:#58595b;transform:scaleX(0.8812);transform-origin:left 50%;-webkit-text-stroke:0.5px #58595b;">Pallets per Container</div>
<div class="t" style="left:1684.7px;top:2281.8px;font-size:34.5px;color:#58595b;transform:translateX(-50%) scaleX(0.829);transform-origin:center 50%;">22</div>
<div class="t" style="left:999.9px;top:2336.8px;font-size:34.5px;color:#58595b;transform:scaleX(0.8724);transform-origin:left 50%;-webkit-text-stroke:0.5px #58595b;">Pieces per Container</div>
<div class="t" style="left:1684.3px;top:2336.8px;font-size:34.5px;color:#58595b;transform:translateX(-50%) scaleX(0.8536);transform-origin:center 50%;">(32+35) x 11 = 770 pcs</div>
<div class="b" style="left:0.0px;top:2423.3px;width:1890.5px;height:4.2px;background:#b3353c"></div>
<div class="t" style="left:32.0px;top:2444.5px;font-size:19.5px;color:#58595b;transform:scaleX(0.8327);transform-origin:left 50%;">The specification and key features described in this datasheet may deviate slightly and are not guaranteed. Due to on-going innovation, research and product enhancement, RECOM Technologies reserves the right to make any adjustment to the information</div>
<div class="t" style="left:32.0px;top:2466.5px;font-size:19.5px;color:#58595b;transform:scaleX(0.8222);transform-origin:left 50%;">described herein at any time without notice. Please always obtain the most recent version of the datasheet which shall be duly incorporated into the binding contract made by the parties governing all transactions related to the purchase and sale of the products</div>
<div class="t" style="left:32.0px;top:2488.6px;font-size:19.5px;color:#58595b;transform:scaleX(0.8262);transform-origin:left 50%;">described herein. Please read the safety and installation instructions before using the modules.</div>
<div class="t" style="left:1865.4px;top:2525.3px;font-size:15px;color:#8a8b8d;transform:translateX(-100%) scaleX(0.8388);transform-origin:right 50%;">© Copyright 2023.&nbsp; RECOM</div>
<svg width="1916" height="2560" viewBox="0 0 1916 2560">
<rect x="1103.3" y="1287.3" width="561.2" height="360.2" fill="none" stroke="#6d6e71" stroke-width="1.6"/>
<path d="M1103.5,1319.0 L1107.5,1319.0 L1111.4,1319.0 L1115.4,1319.0 L1119.4,1319.0 L1123.3,1319.0 L1127.3,1319.0 L1131.3,1319.0 L1135.2,1319.0 L1139.2,1319.0 L1143.2,1319.0 L1147.1,1319.0 L1151.1,1319.0 L1155.1,1319.0 L1159.0,1319.0 L1163.0,1319.0 L1167.0,1319.0 L1170.9,1319.0 L1174.9,1319.0 L1178.9,1319.0 L1182.8,1319.0 L1186.8,1319.0 L1190.8,1319.0 L1194.8,1319.0 L1198.7,1319.0 L1202.7,1319.0 L1206.7,1319.0 L1210.6,1319.0 L1214.6,1319.0 L1218.6,1319.0 L1222.5,1319.0 L1226.5,1319.0 L1230.5,1319.0 L1234.4,1319.0 L1238.4,1319.0 L1242.4,1319.0 L1246.3,1319.0 L1250.3,1319.0 L1254.3,1319.0 L1258.2,1319.0 L1262.2,1319.0 L1266.2,1319.0 L1270.1,1319.0 L1274.1,1319.0 L1278.1,1319.0 L1282.0,1319.0 L1286.0,1319.0 L1290.0,1319.0 L1293.9,1319.0 L1297.9,1319.0 L1301.9,1319.0 L1305.8,1319.0 L1309.8,1319.0 L1313.8,1319.0 L1317.7,1319.0 L1321.7,1319.0 L1325.7,1319.0 L1329.6,1319.0 L1333.6,1319.0 L1337.6,1319.0 L1341.5,1319.0 L1345.5,1319.0 L1349.5,1319.0 L1353.5,1319.0 L1357.4,1319.0 L1361.4,1319.0 L1365.4,1319.0 L1369.3,1319.0 L1373.3,1319.0 L1377.3,1319.0 L1381.2,1319.0 L1385.2,1319.0 L1389.2,1319.0 L1393.1,1319.0 L1397.1,1319.0 L1401.1,1319.0 L1405.0,1319.0 L1409.0,1319.0 L1413.0,1319.0 L1416.9,1319.0 L1420.9,1319.0 L1424.9,1319.0 L1428.8,1319.0 L1432.8,1319.0 L1436.8,1319.0 L1440.7,1319.0 L1444.7,1319.0 L1448.7,1319.0 L1452.6,1319.0 L1456.6,1319.0 L1460.6,1319.0 L1464.5,1319.0 L1468.5,1319.0 L1472.5,1319.0 L1476.4,1319.0 L1480.4,1319.0 L1484.4,1319.0 L1485.0,1319.0 L1485.6,1319.0 L1486.3,1319.0 L1486.9,1319.0 L1487.6,1319.0 L1488.2,1319.0 L1488.8,1319.0 L1489.5,1319.0 L1490.1,1319.0 L1490.7,1319.0 L1491.4,1319.0 L1492.0,1319.0 L1492.6,1319.0 L1493.3,1319.0 L1493.9,1319.0 L1494.5,1319.1 L1495.2,1319.1 L1495.8,1319.1 L1496.4,1319.1 L1497.1,1319.1 L1497.7,1319.1 L1498.3,1319.1 L1499.0,1319.1 L1499.6,1319.1 L1500.2,1319.1 L1500.9,1319.1 L1501.5,1319.1 L1502.2,1319.1 L1502.8,1319.1 L1503.4,1319.1 L1504.1,1319.1 L1504.7,1319.1 L1505.3,1319.1 L1506.0,1319.1 L1506.6,1319.2 L1507.2,1319.2 L1507.9,1319.2 L1508.5,1319.2 L1509.1,1319.2 L1509.8,1319.2 L1510.4,1319.2 L1511.0,1319.2 L1511.7,1319.2 L1512.3,1319.2 L1512.9,1319.3 L1513.6,1319.3 L1514.2,1319.3 L1514.9,1319.3 L1515.5,1319.3 L1516.1,1319.3 L1516.8,1319.3 L1517.4,1319.3 L1518.0,1319.4 L1518.7,1319.4 L1519.3,1319.4 L1519.9,1319.4 L1520.6,1319.4 L1521.2,1319.5 L1521.8,1319.5 L1522.5,1319.5 L1523.1,1319.5 L1523.7,1319.6 L1524.4,1319.6 L1525.0,1319.6 L1525.6,1319.6 L1526.3,1319.7 L1526.9,1319.7 L1527.5,1319.7 L1528.2,1319.8 L1528.8,1319.8 L1529.5,1319.8 L1530.1,1319.9 L1530.7,1319.9 L1531.4,1319.9 L1532.0,1320.0 L1532.6,1320.0 L1533.3,1320.1 L1533.9,1320.1 L1534.5,1320.2 L1535.2,1320.2 L1535.8,1320.3 L1536.4,1320.3 L1537.1,1320.4 L1537.7,1320.5 L1538.3,1320.5 L1539.0,1320.6 L1539.6,1320.7 L1540.2,1320.7 L1540.9,1320.8 L1541.5,1320.9 L1542.1,1321.0 L1542.8,1321.1 L1543.4,1321.1 L1544.1,1321.2 L1544.7,1321.3 L1545.3,1321.4 L1546.0,1321.5 L1546.6,1321.7 L1547.2,1321.8 L1547.9,1321.9 L1548.5,1322.0 L1549.1,1322.1 L1549.8,1322.3 L1550.4,1322.4 L1551.0,1322.6 L1551.7,1322.7 L1552.3,1322.9 L1552.9,1323.1 L1553.6,1323.2 L1554.2,1323.4 L1554.8,1323.6 L1555.5,1323.8 L1556.1,1324.0 L1556.7,1324.2 L1557.4,1324.4 L1558.0,1324.7 L1558.7,1324.9 L1559.3,1325.2 L1559.9,1325.4 L1560.6,1325.7 L1561.2,1326.0 L1561.8,1326.3 L1562.5,1326.6 L1563.1,1326.9 L1563.7,1327.2 L1564.4,1327.6 L1565.0,1327.9 L1565.6,1328.3 L1566.3,1328.7 L1566.9,1329.1 L1567.5,1329.5 L1568.2,1329.9 L1568.8,1330.4 L1569.4,1330.8 L1570.1,1331.3 L1570.7,1331.8 L1571.3,1332.3 L1572.0,1332.9 L1572.6,1333.4 L1573.3,1334.0 L1573.9,1334.6 L1574.5,1335.2 L1575.2,1335.9 L1575.8,1336.5 L1576.4,1337.2 L1577.1,1337.9 L1577.7,1338.6 L1578.3,1339.4 L1579.0,1340.2 L1579.6,1341.0 L1580.2,1341.8 L1580.9,1342.7 L1581.5,1343.6 L1582.1,1344.5 L1582.8,1345.5 L1583.4,1346.4 L1584.0,1347.5 L1584.7,1348.5 L1585.3,1349.6 L1585.9,1350.7 L1586.6,1351.8 L1587.2,1353.0 L1587.9,1354.2 L1588.5,1355.4 L1589.1,1356.7 L1589.8,1358.0 L1590.4,1359.4 L1591.0,1360.7 L1591.7,1362.2 L1592.3,1363.6 L1592.9,1365.1 L1593.6,1366.6 L1594.2,1368.2 L1594.8,1369.8 L1595.5,1371.5 L1596.1,1373.1 L1596.7,1374.9 L1597.4,1376.6 L1598.0,1378.4 L1598.6,1380.3 L1599.3,1382.2 L1599.9,1384.1 L1600.5,1386.0 L1601.2,1388.0 L1601.8,1390.1 L1602.5,1392.2 L1603.1,1394.3 L1603.7,1396.4 L1604.4,1398.6 L1605.0,1400.9 L1605.6,1403.2 L1606.3,1405.5 L1606.9,1407.9 L1607.5,1410.3 L1608.2,1412.7 L1608.8,1415.2 L1609.4,1417.7 L1610.1,1420.3 L1610.7,1422.9 L1611.3,1425.5 L1612.0,1428.2 L1612.6,1430.9 L1613.2,1433.7 L1613.9,1436.5 L1614.5,1439.3 L1615.1,1442.1 L1615.8,1445.0 L1616.4,1448.0 L1617.1,1451.0 L1617.7,1454.0 L1618.3,1457.0 L1619.0,1460.1 L1619.6,1463.2 L1620.2,1466.4 L1620.9,1469.6 L1621.5,1472.8 L1622.1,1476.0 L1622.8,1479.3 L1623.4,1482.6 L1624.0,1486.0 L1624.7,1489.4 L1625.3,1492.8 L1625.9,1496.2 L1626.6,1499.7 L1627.2,1503.2 L1627.8,1506.7 L1628.5,1510.3 L1629.1,1513.9 L1629.7,1517.5 L1630.4,1521.1 L1631.0,1524.8 L1631.7,1528.5 L1632.3,1532.3 L1632.9,1536.0 L1633.6,1539.8 L1634.2,1543.6 L1634.8,1547.4 L1635.5,1551.3 L1636.1,1555.2 L1636.7,1559.1 L1637.4,1563.0 L1638.0,1567.0 L1638.6,1571.0 L1639.3,1575.0 L1639.9,1579.0 L1640.5,1583.1 L1641.2,1587.2 L1641.8,1591.3 L1642.4,1595.4 L1643.1,1599.5 L1643.7,1603.7 L1644.3,1607.9 L1645.0,1612.1 L1645.6,1616.3 L1646.3,1620.5 L1646.9,1624.8 L1647.5,1629.1 L1648.2,1633.4 L1648.8,1637.7 L1649.4,1642.0 L1650.1,1646.4 L1650.2,1647.5" fill="none" stroke="#231f20" stroke-width="1.7"/>
<path d="M1103.5,1647.5 L1107.5,1644.6 L1111.4,1641.6 L1115.4,1638.7 L1119.4,1635.7 L1123.3,1632.8 L1127.3,1629.8 L1131.3,1626.9 L1135.2,1624.0 L1139.2,1621.0 L1143.2,1618.1 L1147.1,1615.1 L1151.1,1612.2 L1155.1,1609.2 L1159.0,1606.3 L1163.0,1603.4 L1167.0,1600.4 L1170.9,1597.5 L1174.9,1594.5 L1178.9,1591.6 L1182.8,1588.6 L1186.8,1585.7 L1190.8,1582.8 L1194.8,1579.8 L1198.7,1576.9 L1202.7,1573.9 L1206.7,1571.0 L1210.6,1568.0 L1214.6,1565.1 L1218.6,1562.2 L1222.5,1559.2 L1226.5,1556.3 L1230.5,1553.3 L1234.4,1550.4 L1238.4,1547.4 L1242.4,1544.5 L1246.3,1541.6 L1250.3,1538.6 L1254.3,1535.7 L1258.2,1532.7 L1262.2,1529.8 L1266.2,1526.8 L1270.1,1523.9 L1274.1,1520.9 L1278.1,1518.0 L1282.0,1515.1 L1286.0,1512.1 L1290.0,1509.2 L1293.9,1506.2 L1297.9,1503.3 L1301.9,1500.3 L1305.8,1497.4 L1309.8,1494.5 L1313.8,1491.5 L1317.7,1488.6 L1321.7,1485.6 L1325.7,1482.7 L1329.6,1479.7 L1333.6,1476.8 L1337.6,1473.9 L1341.5,1470.9 L1345.5,1468.0 L1349.5,1465.0 L1353.5,1462.1 L1357.4,1459.1 L1361.4,1456.2 L1365.4,1453.3 L1369.3,1450.3 L1373.3,1447.4 L1377.3,1444.4 L1381.2,1441.5 L1385.2,1438.5 L1389.2,1435.6 L1393.1,1432.7 L1397.1,1429.7 L1401.1,1426.8 L1405.0,1423.8 L1409.0,1420.9 L1413.0,1417.9 L1416.9,1415.0 L1420.9,1412.1 L1424.9,1409.1 L1428.8,1406.2 L1432.8,1403.2 L1436.8,1400.3 L1440.7,1397.3 L1444.7,1394.4 L1448.7,1391.5 L1452.6,1388.5 L1456.6,1385.6 L1460.6,1382.6 L1464.5,1379.7 L1468.5,1376.8 L1472.5,1373.8 L1476.4,1370.9 L1480.4,1367.9 L1484.4,1365.0 L1485.0,1364.5 L1485.6,1364.1 L1486.3,1363.6 L1486.9,1363.1 L1487.6,1362.7 L1488.2,1362.2 L1488.8,1361.7 L1489.5,1361.3 L1490.1,1360.8 L1490.7,1360.3 L1491.4,1359.8 L1492.0,1359.4 L1492.6,1358.9 L1493.3,1358.4 L1493.9,1358.0 L1494.5,1357.5 L1495.2,1357.0 L1495.8,1356.6 L1496.4,1356.1 L1497.1,1355.6 L1497.7,1355.2 L1498.3,1354.7 L1499.0,1354.2 L1499.6,1353.8 L1500.2,1353.3 L1500.9,1352.8 L1501.5,1352.4 L1502.2,1351.9 L1502.8,1351.4 L1503.4,1351.0 L1504.1,1350.5 L1504.7,1350.0 L1505.3,1349.6 L1506.0,1349.1 L1506.6,1348.7 L1507.2,1348.2 L1507.9,1347.7 L1508.5,1347.3 L1509.1,1346.8 L1509.8,1346.3 L1510.4,1345.9 L1511.0,1345.4 L1511.7,1345.0 L1512.3,1344.5 L1512.9,1344.0 L1513.6,1343.6 L1514.2,1343.1 L1514.9,1342.7 L1515.5,1342.2 L1516.1,1341.7 L1516.8,1341.3 L1517.4,1340.8 L1518.0,1340.4 L1518.7,1339.9 L1519.3,1339.5 L1519.9,1339.0 L1520.6,1338.6 L1521.2,1338.1 L1521.8,1337.7 L1522.5,1337.2 L1523.1,1336.8 L1523.7,1336.3 L1524.4,1335.9 L1525.0,1335.4 L1525.6,1335.0 L1526.3,1334.5 L1526.9,1334.1 L1527.5,1333.7 L1528.2,1333.2 L1528.8,1332.8 L1529.5,1332.4 L1530.1,1331.9 L1530.7,1331.5 L1531.4,1331.1 L1532.0,1330.6 L1532.6,1330.2 L1533.3,1329.8 L1533.9,1329.4 L1534.5,1328.9 L1535.2,1328.5 L1535.8,1328.1 L1536.4,1327.7 L1537.1,1327.3 L1537.7,1326.9 L1538.3,1326.5 L1539.0,1326.1 L1539.6,1325.7 L1540.2,1325.3 L1540.9,1324.9 L1541.5,1324.5 L1542.1,1324.1 L1542.8,1323.7 L1543.4,1323.3 L1544.1,1323.0 L1544.7,1322.6 L1545.3,1322.2 L1546.0,1321.9 L1546.6,1321.5 L1547.2,1321.2 L1547.9,1320.8 L1548.5,1320.5 L1549.1,1320.1 L1549.8,1319.8 L1550.4,1319.5 L1551.0,1319.2 L1551.7,1318.9 L1552.3,1318.6 L1552.9,1318.3 L1553.6,1318.0 L1554.2,1317.7 L1554.8,1317.4 L1555.5,1317.2 L1556.1,1316.9 L1556.7,1316.7 L1557.4,1316.4 L1558.0,1316.2 L1558.7,1316.0 L1559.3,1315.8 L1559.9,1315.6 L1560.6,1315.4 L1561.2,1315.2 L1561.8,1315.1 L1562.5,1314.9 L1563.1,1314.8 L1563.7,1314.7 L1564.4,1314.6 L1565.0,1314.5 L1565.6,1314.4 L1566.3,1314.4 L1566.9,1314.3 L1567.5,1314.3 L1568.2,1314.3 L1568.8,1314.3 L1569.4,1314.3 L1570.1,1314.4 L1570.7,1314.5 L1571.3,1314.6 L1572.0,1314.7 L1572.6,1314.8 L1573.3,1315.0 L1573.9,1315.2 L1574.5,1315.4 L1575.2,1315.6 L1575.8,1315.9 L1576.4,1316.2 L1577.1,1316.5 L1577.7,1316.8 L1578.3,1317.2 L1579.0,1317.6 L1579.6,1318.0 L1580.2,1318.5 L1580.9,1319.0 L1581.5,1319.5 L1582.1,1320.1 L1582.8,1320.7 L1583.4,1321.3 L1584.0,1321.9 L1584.7,1322.7 L1585.3,1323.4 L1585.9,1324.2 L1586.6,1325.0 L1587.2,1325.8 L1587.9,1326.7 L1588.5,1327.7 L1589.1,1328.7 L1589.8,1329.7 L1590.4,1330.7 L1591.0,1331.8 L1591.7,1333.0 L1592.3,1334.2 L1592.9,1335.4 L1593.6,1336.7 L1594.2,1338.1 L1594.8,1339.4 L1595.5,1340.9 L1596.1,1342.3 L1596.7,1343.9 L1597.4,1345.4 L1598.0,1347.1 L1598.6,1348.7 L1599.3,1350.5 L1599.9,1352.2 L1600.5,1354.1 L1601.2,1355.9 L1601.8,1357.9 L1602.5,1359.8 L1603.1,1361.9 L1603.7,1363.9 L1604.4,1366.1 L1605.0,1368.3 L1605.6,1370.5 L1606.3,1372.8 L1606.9,1375.1 L1607.5,1377.5 L1608.2,1380.0 L1608.8,1382.5 L1609.4,1385.0 L1610.1,1387.6 L1610.7,1390.3 L1611.3,1393.0 L1612.0,1395.7 L1612.6,1398.5 L1613.2,1401.4 L1613.9,1404.3 L1614.5,1407.3 L1615.1,1410.3 L1615.8,1413.3 L1616.4,1416.4 L1617.1,1419.6 L1617.7,1422.8 L1618.3,1426.1 L1619.0,1429.4 L1619.6,1432.8 L1620.2,1436.2 L1620.9,1439.6 L1621.5,1443.1 L1622.1,1446.7 L1622.8,1450.3 L1623.4,1454.0 L1624.0,1457.6 L1624.7,1461.4 L1625.3,1465.2 L1625.9,1469.0 L1626.6,1472.9 L1627.2,1476.8 L1627.8,1480.8 L1628.5,1484.8 L1629.1,1488.9 L1629.7,1493.0 L1630.4,1497.2 L1631.0,1501.4 L1631.7,1505.6 L1632.3,1509.9 L1632.9,1514.2 L1633.6,1518.6 L1634.2,1523.0 L1634.8,1527.5 L1635.5,1532.0 L1636.1,1536.5 L1636.7,1541.1 L1637.4,1545.7 L1638.0,1550.4 L1638.6,1555.1 L1639.3,1559.8 L1639.9,1564.6 L1640.5,1569.4 L1641.2,1574.2 L1641.8,1579.1 L1642.4,1584.1 L1643.1,1589.0 L1643.7,1594.1 L1644.3,1599.1 L1645.0,1604.2 L1645.6,1609.3 L1646.3,1614.5 L1646.9,1619.7 L1647.5,1624.9 L1648.2,1630.1 L1648.8,1635.4 L1649.4,1640.8 L1650.1,1646.2 L1650.2,1647.5" fill="none" stroke="#231f20" stroke-width="2.12" stroke-dasharray="9.5,4.5" opacity="0.92"/>
<path d="M1103.5,1385.4 L1107.5,1385.4 L1111.4,1385.4 L1115.4,1385.4 L1119.4,1385.4 L1123.3,1385.4 L1127.3,1385.4 L1131.3,1385.4 L1135.2,1385.4 L1139.2,1385.4 L1143.2,1385.4 L1147.1,1385.4 L1151.1,1385.4 L1155.1,1385.4 L1159.0,1385.4 L1163.0,1385.4 L1167.0,1385.4 L1170.9,1385.4 L1174.9,1385.4 L1178.9,1385.4 L1182.8,1385.4 L1186.8,1385.4 L1190.8,1385.4 L1194.8,1385.4 L1198.7,1385.4 L1202.7,1385.4 L1206.7,1385.4 L1210.6,1385.4 L1214.6,1385.4 L1218.6,1385.4 L1222.5,1385.4 L1226.5,1385.4 L1230.5,1385.4 L1234.4,1385.4 L1238.4,1385.4 L1242.4,1385.4 L1246.3,1385.4 L1250.3,1385.4 L1254.3,1385.4 L1258.2,1385.4 L1262.2,1385.4 L1266.2,1385.4 L1270.1,1385.4 L1274.1,1385.4 L1278.1,1385.4 L1282.0,1385.4 L1286.0,1385.4 L1290.0,1385.4 L1293.9,1385.4 L1297.9,1385.4 L1301.9,1385.4 L1305.8,1385.4 L1309.8,1385.4 L1313.8,1385.4 L1317.7,1385.4 L1321.7,1385.4 L1325.7,1385.4 L1329.6,1385.4 L1333.6,1385.4 L1337.6,1385.4 L1341.5,1385.4 L1345.5,1385.4 L1349.5,1385.4 L1353.5,1385.4 L1357.4,1385.4 L1361.4,1385.4 L1365.4,1385.4 L1369.3,1385.4 L1373.3,1385.4 L1377.3,1385.4 L1381.2,1385.4 L1385.2,1385.4 L1389.2,1385.4 L1393.1,1385.4 L1397.1,1385.4 L1401.1,1385.4 L1405.0,1385.4 L1409.0,1385.4 L1413.0,1385.4 L1416.9,1385.4 L1420.9,1385.4 L1424.9,1385.4 L1428.8,1385.4 L1432.8,1385.4 L1436.8,1385.4 L1440.7,1385.4 L1444.7,1385.4 L1448.7,1385.4 L1452.6,1385.4 L1456.6,1385.4 L1460.6,1385.4 L1464.5,1385.4 L1468.5,1385.4 L1472.5,1385.4 L1476.4,1385.5 L1480.4,1385.5 L1484.4,1385.5 L1485.0,1385.5 L1485.6,1385.5 L1486.3,1385.5 L1486.9,1385.5 L1487.6,1385.5 L1488.2,1385.5 L1488.8,1385.5 L1489.5,1385.5 L1490.1,1385.5 L1490.7,1385.5 L1491.4,1385.5 L1492.0,1385.5 L1492.6,1385.5 L1493.3,1385.5 L1493.9,1385.5 L1494.5,1385.5 L1495.2,1385.5 L1495.8,1385.5 L1496.4,1385.5 L1497.1,1385.5 L1497.7,1385.5 L1498.3,1385.5 L1499.0,1385.5 L1499.6,1385.5 L1500.2,1385.5 L1500.9,1385.5 L1501.5,1385.5 L1502.2,1385.5 L1502.8,1385.5 L1503.4,1385.5 L1504.1,1385.5 L1504.7,1385.5 L1505.3,1385.5 L1506.0,1385.6 L1506.6,1385.6 L1507.2,1385.6 L1507.9,1385.6 L1508.5,1385.6 L1509.1,1385.6 L1509.8,1385.6 L1510.4,1385.6 L1511.0,1385.6 L1511.7,1385.6 L1512.3,1385.6 L1512.9,1385.6 L1513.6,1385.6 L1514.2,1385.6 L1514.9,1385.6 L1515.5,1385.7 L1516.1,1385.7 L1516.8,1385.7 L1517.4,1385.7 L1518.0,1385.7 L1518.7,1385.7 L1519.3,1385.7 L1519.9,1385.7 L1520.6,1385.7 L1521.2,1385.8 L1521.8,1385.8 L1522.5,1385.8 L1523.1,1385.8 L1523.7,1385.8 L1524.4,1385.8 L1525.0,1385.9 L1525.6,1385.9 L1526.3,1385.9 L1526.9,1385.9 L1527.5,1385.9 L1528.2,1386.0 L1528.8,1386.0 L1529.5,1386.0 L1530.1,1386.0 L1530.7,1386.1 L1531.4,1386.1 L1532.0,1386.1 L1532.6,1386.1 L1533.3,1386.2 L1533.9,1386.2 L1534.5,1386.2 L1535.2,1386.3 L1535.8,1386.3 L1536.4,1386.3 L1537.1,1386.4 L1537.7,1386.4 L1538.3,1386.5 L1539.0,1386.5 L1539.6,1386.6 L1540.2,1386.6 L1540.9,1386.7 L1541.5,1386.7 L1542.1,1386.8 L1542.8,1386.8 L1543.4,1386.9 L1544.1,1387.0 L1544.7,1387.0 L1545.3,1387.1 L1546.0,1387.2 L1546.6,1387.2 L1547.2,1387.3 L1547.9,1387.4 L1548.5,1387.5 L1549.1,1387.6 L1549.8,1387.7 L1550.4,1387.8 L1551.0,1387.9 L1551.7,1388.0 L1552.3,1388.1 L1552.9,1388.2 L1553.6,1388.3 L1554.2,1388.4 L1554.8,1388.5 L1555.5,1388.7 L1556.1,1388.8 L1556.7,1389.0 L1557.4,1389.1 L1558.0,1389.3 L1558.7,1389.4 L1559.3,1389.6 L1559.9,1389.8 L1560.6,1390.0 L1561.2,1390.2 L1561.8,1390.4 L1562.5,1390.6 L1563.1,1390.8 L1563.7,1391.0 L1564.4,1391.3 L1565.0,1391.5 L1565.6,1391.8 L1566.3,1392.0 L1566.9,1392.3 L1567.5,1392.6 L1568.2,1392.9 L1568.8,1393.2 L1569.4,1393.5 L1570.1,1393.9 L1570.7,1394.2 L1571.3,1394.6 L1572.0,1394.9 L1572.6,1395.3 L1573.3,1395.7 L1573.9,1396.2 L1574.5,1396.6 L1575.2,1397.1 L1575.8,1397.5 L1576.4,1398.0 L1577.1,1398.5 L1577.7,1399.1 L1578.3,1399.6 L1579.0,1400.2 L1579.6,1400.8 L1580.2,1401.4 L1580.9,1402.0 L1581.5,1402.6 L1582.1,1403.3 L1582.8,1404.0 L1583.4,1404.7 L1584.0,1405.5 L1584.7,1406.3 L1585.3,1407.1 L1585.9,1407.9 L1586.6,1408.7 L1587.2,1409.6 L1587.9,1410.5 L1588.5,1411.4 L1589.1,1412.4 L1589.8,1413.4 L1590.4,1414.4 L1591.0,1415.5 L1591.7,1416.6 L1592.3,1417.7 L1592.9,1418.9 L1593.6,1420.0 L1594.2,1421.3 L1594.8,1422.5 L1595.5,1423.8 L1596.1,1425.1 L1596.7,1426.5 L1597.4,1427.9 L1598.0,1429.3 L1598.6,1430.8 L1599.3,1432.3 L1599.9,1433.9 L1600.5,1435.5 L1601.2,1437.1 L1601.8,1438.8 L1602.5,1440.5 L1603.1,1442.2 L1603.7,1444.0 L1604.4,1445.8 L1605.0,1447.7 L1605.6,1449.6 L1606.3,1451.5 L1606.9,1453.5 L1607.5,1455.5 L1608.2,1457.6 L1608.8,1459.7 L1609.4,1461.8 L1610.1,1464.0 L1610.7,1466.2 L1611.3,1468.5 L1612.0,1470.8 L1612.6,1473.1 L1613.2,1475.5 L1613.9,1477.9 L1614.5,1480.4 L1615.1,1482.9 L1615.8,1485.4 L1616.4,1488.0 L1617.1,1490.6 L1617.7,1493.3 L1618.3,1496.0 L1619.0,1498.7 L1619.6,1501.5 L1620.2,1504.3 L1620.9,1507.2 L1621.5,1510.0 L1622.1,1513.0 L1622.8,1515.9 L1623.4,1518.9 L1624.0,1521.9 L1624.7,1525.0 L1625.3,1528.1 L1625.9,1531.2 L1626.6,1534.4 L1627.2,1537.6 L1627.8,1540.8 L1628.5,1544.1 L1629.1,1547.4 L1629.7,1550.7 L1630.4,1554.1 L1631.0,1557.5 L1631.7,1560.9 L1632.3,1564.4 L1632.9,1567.9 L1633.6,1571.4 L1634.2,1574.9 L1634.8,1578.5 L1635.5,1582.1 L1636.1,1585.8 L1636.7,1589.4 L1637.4,1593.1 L1638.0,1596.8 L1638.6,1600.6 L1639.3,1604.3 L1639.9,1608.1 L1640.5,1612.0 L1641.2,1615.8 L1641.8,1619.7 L1642.4,1623.6 L1643.1,1627.5 L1643.7,1631.5 L1644.3,1635.4 L1645.0,1639.4 L1645.6,1643.5 L1646.3,1647.5 L1646.3,1647.5" fill="none" stroke="#72bd84" stroke-width="1.5"/>
<path d="M1103.5,1647.5 L1107.5,1645.2 L1111.4,1642.8 L1115.4,1640.5 L1119.4,1638.1 L1123.3,1635.8 L1127.3,1633.4 L1131.3,1631.1 L1135.2,1628.7 L1139.2,1626.4 L1143.2,1624.0 L1147.1,1621.7 L1151.1,1619.3 L1155.1,1617.0 L1159.0,1614.6 L1163.0,1612.3 L1167.0,1609.9 L1170.9,1607.6 L1174.9,1605.2 L1178.9,1602.9 L1182.8,1600.5 L1186.8,1598.2 L1190.8,1595.9 L1194.8,1593.5 L1198.7,1591.2 L1202.7,1588.8 L1206.7,1586.5 L1210.6,1584.1 L1214.6,1581.8 L1218.6,1579.4 L1222.5,1577.1 L1226.5,1574.7 L1230.5,1572.4 L1234.4,1570.0 L1238.4,1567.7 L1242.4,1565.3 L1246.3,1563.0 L1250.3,1560.6 L1254.3,1558.3 L1258.2,1555.9 L1262.2,1553.6 L1266.2,1551.2 L1270.1,1548.9 L1274.1,1546.6 L1278.1,1544.2 L1282.0,1541.9 L1286.0,1539.5 L1290.0,1537.2 L1293.9,1534.8 L1297.9,1532.5 L1301.9,1530.1 L1305.8,1527.8 L1309.8,1525.4 L1313.8,1523.1 L1317.7,1520.7 L1321.7,1518.4 L1325.7,1516.0 L1329.6,1513.7 L1333.6,1511.3 L1337.6,1509.0 L1341.5,1506.6 L1345.5,1504.3 L1349.5,1501.9 L1353.5,1499.6 L1357.4,1497.3 L1361.4,1494.9 L1365.4,1492.6 L1369.3,1490.2 L1373.3,1487.9 L1377.3,1485.5 L1381.2,1483.2 L1385.2,1480.8 L1389.2,1478.5 L1393.1,1476.1 L1397.1,1473.8 L1401.1,1471.4 L1405.0,1469.1 L1409.0,1466.7 L1413.0,1464.4 L1416.9,1462.0 L1420.9,1459.7 L1424.9,1457.3 L1428.8,1455.0 L1432.8,1452.6 L1436.8,1450.3 L1440.7,1448.0 L1444.7,1445.6 L1448.7,1443.3 L1452.6,1440.9 L1456.6,1438.6 L1460.6,1436.2 L1464.5,1433.9 L1468.5,1431.5 L1472.5,1429.2 L1476.4,1426.8 L1480.4,1424.5 L1484.4,1422.2 L1485.0,1421.8 L1485.6,1421.4 L1486.3,1421.0 L1486.9,1420.7 L1487.6,1420.3 L1488.2,1419.9 L1488.8,1419.5 L1489.5,1419.2 L1490.1,1418.8 L1490.7,1418.4 L1491.4,1418.0 L1492.0,1417.7 L1492.6,1417.3 L1493.3,1416.9 L1493.9,1416.5 L1494.5,1416.2 L1495.2,1415.8 L1495.8,1415.4 L1496.4,1415.0 L1497.1,1414.7 L1497.7,1414.3 L1498.3,1413.9 L1499.0,1413.6 L1499.6,1413.2 L1500.2,1412.8 L1500.9,1412.4 L1501.5,1412.1 L1502.2,1411.7 L1502.8,1411.3 L1503.4,1410.9 L1504.1,1410.6 L1504.7,1410.2 L1505.3,1409.8 L1506.0,1409.5 L1506.6,1409.1 L1507.2,1408.7 L1507.9,1408.4 L1508.5,1408.0 L1509.1,1407.6 L1509.8,1407.2 L1510.4,1406.9 L1511.0,1406.5 L1511.7,1406.1 L1512.3,1405.8 L1512.9,1405.4 L1513.6,1405.0 L1514.2,1404.7 L1514.9,1404.3 L1515.5,1403.9 L1516.1,1403.6 L1516.8,1403.2 L1517.4,1402.8 L1518.0,1402.5 L1518.7,1402.1 L1519.3,1401.7 L1519.9,1401.4 L1520.6,1401.0 L1521.2,1400.6 L1521.8,1400.3 L1522.5,1399.9 L1523.1,1399.6 L1523.7,1399.2 L1524.4,1398.8 L1525.0,1398.5 L1525.6,1398.1 L1526.3,1397.8 L1526.9,1397.4 L1527.5,1397.1 L1528.2,1396.7 L1528.8,1396.4 L1529.5,1396.0 L1530.1,1395.7 L1530.7,1395.3 L1531.4,1395.0 L1532.0,1394.6 L1532.6,1394.3 L1533.3,1393.9 L1533.9,1393.6 L1534.5,1393.2 L1535.2,1392.9 L1535.8,1392.6 L1536.4,1392.2 L1537.1,1391.9 L1537.7,1391.5 L1538.3,1391.2 L1539.0,1390.9 L1539.6,1390.6 L1540.2,1390.2 L1540.9,1389.9 L1541.5,1389.6 L1542.1,1389.3 L1542.8,1388.9 L1543.4,1388.6 L1544.1,1388.3 L1544.7,1388.0 L1545.3,1387.7 L1546.0,1387.4 L1546.6,1387.1 L1547.2,1386.8 L1547.9,1386.5 L1548.5,1386.2 L1549.1,1386.0 L1549.8,1385.7 L1550.4,1385.4 L1551.0,1385.1 L1551.7,1384.9 L1552.3,1384.6 L1552.9,1384.3 L1553.6,1384.1 L1554.2,1383.8 L1554.8,1383.6 L1555.5,1383.4 L1556.1,1383.1 L1556.7,1382.9 L1557.4,1382.7 L1558.0,1382.5 L1558.7,1382.3 L1559.3,1382.1 L1559.9,1381.9 L1560.6,1381.7 L1561.2,1381.6 L1561.8,1381.4 L1562.5,1381.3 L1563.1,1381.1 L1563.7,1381.0 L1564.4,1380.9 L1565.0,1380.7 L1565.6,1380.6 L1566.3,1380.6 L1566.9,1380.5 L1567.5,1380.4 L1568.2,1380.4 L1568.8,1380.3 L1569.4,1380.3 L1570.1,1380.3 L1570.7,1380.3 L1571.3,1380.3 L1572.0,1380.4 L1572.6,1380.4 L1573.3,1380.5 L1573.9,1380.6 L1574.5,1380.7 L1575.2,1380.8 L1575.8,1380.9 L1576.4,1381.1 L1577.1,1381.3 L1577.7,1381.5 L1578.3,1381.7 L1579.0,1382.0 L1579.6,1382.3 L1580.2,1382.6 L1580.9,1382.9 L1581.5,1383.2 L1582.1,1383.6 L1582.8,1384.0 L1583.4,1384.4 L1584.0,1384.9 L1584.7,1385.4 L1585.3,1385.9 L1585.9,1386.5 L1586.6,1387.1 L1587.2,1387.7 L1587.9,1388.3 L1588.5,1389.0 L1589.1,1389.7 L1589.8,1390.5 L1590.4,1391.3 L1591.0,1392.1 L1591.7,1393.0 L1592.3,1393.9 L1592.9,1394.8 L1593.6,1395.8 L1594.2,1396.8 L1594.8,1397.9 L1595.5,1399.0 L1596.1,1400.2 L1596.7,1401.4 L1597.4,1402.6 L1598.0,1403.9 L1598.6,1405.3 L1599.3,1406.6 L1599.9,1408.1 L1600.5,1409.5 L1601.2,1411.1 L1601.8,1412.6 L1602.5,1414.2 L1603.1,1415.9 L1603.7,1417.6 L1604.4,1419.4 L1605.0,1421.2 L1605.6,1423.1 L1606.3,1425.0 L1606.9,1427.0 L1607.5,1429.0 L1608.2,1431.1 L1608.8,1433.2 L1609.4,1435.4 L1610.1,1437.6 L1610.7,1439.9 L1611.3,1442.2 L1612.0,1444.6 L1612.6,1447.1 L1613.2,1449.5 L1613.9,1452.1 L1614.5,1454.7 L1615.1,1457.3 L1615.8,1460.0 L1616.4,1462.8 L1617.1,1465.6 L1617.7,1468.5 L1618.3,1471.4 L1619.0,1474.4 L1619.6,1477.4 L1620.2,1480.4 L1620.9,1483.6 L1621.5,1486.7 L1622.1,1490.0 L1622.8,1493.2 L1623.4,1496.6 L1624.0,1499.9 L1624.7,1503.4 L1625.3,1506.8 L1625.9,1510.4 L1626.6,1513.9 L1627.2,1517.5 L1627.8,1521.2 L1628.5,1524.9 L1629.1,1528.7 L1629.7,1532.5 L1630.4,1536.4 L1631.0,1540.3 L1631.7,1544.3 L1632.3,1548.3 L1632.9,1552.3 L1633.6,1556.4 L1634.2,1560.6 L1634.8,1564.7 L1635.5,1569.0 L1636.1,1573.3 L1636.7,1577.6 L1637.4,1581.9 L1638.0,1586.4 L1638.6,1590.8 L1639.3,1595.3 L1639.9,1599.8 L1640.5,1604.4 L1641.2,1609.0 L1641.8,1613.7 L1642.4,1618.4 L1643.1,1623.2 L1643.7,1627.9 L1644.3,1632.8 L1645.0,1637.6 L1645.6,1642.6 L1646.3,1647.5 L1646.3,1647.5" fill="none" stroke="#72bd84" stroke-width="1.35" stroke-dasharray="9.5,4.5" opacity="0.92"/>
<path d="M1103.5,1451.3 L1107.5,1451.3 L1111.4,1451.3 L1115.4,1451.3 L1119.4,1451.3 L1123.3,1451.3 L1127.3,1451.3 L1131.3,1451.3 L1135.2,1451.3 L1139.2,1451.3 L1143.2,1451.3 L1147.1,1451.3 L1151.1,1451.3 L1155.1,1451.3 L1159.0,1451.3 L1163.0,1451.3 L1167.0,1451.3 L1170.9,1451.3 L1174.9,1451.3 L1178.9,1451.3 L1182.8,1451.3 L1186.8,1451.3 L1190.8,1451.3 L1194.8,1451.3 L1198.7,1451.3 L1202.7,1451.3 L1206.7,1451.3 L1210.6,1451.3 L1214.6,1451.3 L1218.6,1451.3 L1222.5,1451.3 L1226.5,1451.3 L1230.5,1451.3 L1234.4,1451.3 L1238.4,1451.3 L1242.4,1451.3 L1246.3,1451.3 L1250.3,1451.3 L1254.3,1451.3 L1258.2,1451.3 L1262.2,1451.3 L1266.2,1451.3 L1270.1,1451.3 L1274.1,1451.3 L1278.1,1451.3 L1282.0,1451.3 L1286.0,1451.3 L1290.0,1451.3 L1293.9,1451.3 L1297.9,1451.3 L1301.9,1451.3 L1305.8,1451.3 L1309.8,1451.3 L1313.8,1451.3 L1317.7,1451.3 L1321.7,1451.3 L1325.7,1451.3 L1329.6,1451.3 L1333.6,1451.3 L1337.6,1451.3 L1341.5,1451.3 L1345.5,1451.3 L1349.5,1451.3 L1353.5,1451.3 L1357.4,1451.3 L1361.4,1451.3 L1365.4,1451.3 L1369.3,1451.3 L1373.3,1451.3 L1377.3,1451.3 L1381.2,1451.3 L1385.2,1451.3 L1389.2,1451.3 L1393.1,1451.3 L1397.1,1451.3 L1401.1,1451.3 L1405.0,1451.3 L1409.0,1451.3 L1413.0,1451.3 L1416.9,1451.3 L1420.9,1451.3 L1424.9,1451.3 L1428.8,1451.3 L1432.8,1451.3 L1436.8,1451.3 L1440.7,1451.3 L1444.7,1451.3 L1448.7,1451.3 L1452.6,1451.3 L1456.6,1451.3 L1460.6,1451.3 L1464.5,1451.3 L1468.5,1451.3 L1472.5,1451.4 L1476.4,1451.4 L1480.4,1451.4 L1484.4,1451.4 L1485.0,1451.4 L1485.6,1451.4 L1486.3,1451.4 L1486.9,1451.4 L1487.6,1451.4 L1488.2,1451.4 L1488.8,1451.4 L1489.5,1451.4 L1490.1,1451.4 L1490.7,1451.4 L1491.4,1451.4 L1492.0,1451.4 L1492.6,1451.4 L1493.3,1451.4 L1493.9,1451.4 L1494.5,1451.4 L1495.2,1451.4 L1495.8,1451.4 L1496.4,1451.4 L1497.1,1451.4 L1497.7,1451.4 L1498.3,1451.4 L1499.0,1451.4 L1499.6,1451.4 L1500.2,1451.4 L1500.9,1451.4 L1501.5,1451.4 L1502.2,1451.4 L1502.8,1451.4 L1503.4,1451.5 L1504.1,1451.5 L1504.7,1451.5 L1505.3,1451.5 L1506.0,1451.5 L1506.6,1451.5 L1507.2,1451.5 L1507.9,1451.5 L1508.5,1451.5 L1509.1,1451.5 L1509.8,1451.5 L1510.4,1451.5 L1511.0,1451.5 L1511.7,1451.5 L1512.3,1451.5 L1512.9,1451.6 L1513.6,1451.6 L1514.2,1451.6 L1514.9,1451.6 L1515.5,1451.6 L1516.1,1451.6 L1516.8,1451.6 L1517.4,1451.6 L1518.0,1451.6 L1518.7,1451.6 L1519.3,1451.7 L1519.9,1451.7 L1520.6,1451.7 L1521.2,1451.7 L1521.8,1451.7 L1522.5,1451.7 L1523.1,1451.8 L1523.7,1451.8 L1524.4,1451.8 L1525.0,1451.8 L1525.6,1451.8 L1526.3,1451.8 L1526.9,1451.9 L1527.5,1451.9 L1528.2,1451.9 L1528.8,1451.9 L1529.5,1452.0 L1530.1,1452.0 L1530.7,1452.0 L1531.4,1452.0 L1532.0,1452.1 L1532.6,1452.1 L1533.3,1452.1 L1533.9,1452.2 L1534.5,1452.2 L1535.2,1452.2 L1535.8,1452.3 L1536.4,1452.3 L1537.1,1452.3 L1537.7,1452.4 L1538.3,1452.4 L1539.0,1452.5 L1539.6,1452.5 L1540.2,1452.6 L1540.9,1452.6 L1541.5,1452.7 L1542.1,1452.7 L1542.8,1452.8 L1543.4,1452.8 L1544.1,1452.9 L1544.7,1452.9 L1545.3,1453.0 L1546.0,1453.1 L1546.6,1453.2 L1547.2,1453.2 L1547.9,1453.3 L1548.5,1453.4 L1549.1,1453.5 L1549.8,1453.5 L1550.4,1453.6 L1551.0,1453.7 L1551.7,1453.8 L1552.3,1453.9 L1552.9,1454.0 L1553.6,1454.1 L1554.2,1454.2 L1554.8,1454.4 L1555.5,1454.5 L1556.1,1454.6 L1556.7,1454.7 L1557.4,1454.9 L1558.0,1455.0 L1558.7,1455.2 L1559.3,1455.3 L1559.9,1455.5 L1560.6,1455.6 L1561.2,1455.8 L1561.8,1456.0 L1562.5,1456.2 L1563.1,1456.4 L1563.7,1456.6 L1564.4,1456.8 L1565.0,1457.0 L1565.6,1457.2 L1566.3,1457.4 L1566.9,1457.7 L1567.5,1457.9 L1568.2,1458.2 L1568.8,1458.5 L1569.4,1458.7 L1570.1,1459.0 L1570.7,1459.3 L1571.3,1459.6 L1572.0,1460.0 L1572.6,1460.3 L1573.3,1460.6 L1573.9,1461.0 L1574.5,1461.4 L1575.2,1461.7 L1575.8,1462.1 L1576.4,1462.6 L1577.1,1463.0 L1577.7,1463.4 L1578.3,1463.9 L1579.0,1464.4 L1579.6,1464.8 L1580.2,1465.3 L1580.9,1465.9 L1581.5,1466.4 L1582.1,1467.0 L1582.8,1467.6 L1583.4,1468.1 L1584.0,1468.8 L1584.7,1469.4 L1585.3,1470.1 L1585.9,1470.7 L1586.6,1471.4 L1587.2,1472.2 L1587.9,1472.9 L1588.5,1473.7 L1589.1,1474.5 L1589.8,1475.3 L1590.4,1476.2 L1591.0,1477.0 L1591.7,1477.9 L1592.3,1478.8 L1592.9,1479.8 L1593.6,1480.8 L1594.2,1481.8 L1594.8,1482.8 L1595.5,1483.9 L1596.1,1485.0 L1596.7,1486.1 L1597.4,1487.3 L1598.0,1488.4 L1598.6,1489.7 L1599.3,1490.9 L1599.9,1492.2 L1600.5,1493.5 L1601.2,1494.9 L1601.8,1496.2 L1602.5,1497.7 L1603.1,1499.1 L1603.7,1500.6 L1604.4,1502.1 L1605.0,1503.7 L1605.6,1505.3 L1606.3,1506.9 L1606.9,1508.6 L1607.5,1510.3 L1608.2,1512.0 L1608.8,1513.8 L1609.4,1515.6 L1610.1,1517.4 L1610.7,1519.3 L1611.3,1521.2 L1612.0,1523.2 L1612.6,1525.2 L1613.2,1527.2 L1613.9,1529.3 L1614.5,1531.4 L1615.1,1533.5 L1615.8,1535.7 L1616.4,1537.9 L1617.1,1540.2 L1617.7,1542.5 L1618.3,1544.8 L1619.0,1547.2 L1619.6,1549.6 L1620.2,1552.0 L1620.9,1554.5 L1621.5,1557.0 L1622.1,1559.6 L1622.8,1562.2 L1623.4,1564.8 L1624.0,1567.5 L1624.7,1570.2 L1625.3,1572.9 L1625.9,1575.7 L1626.6,1578.5 L1627.2,1581.3 L1627.8,1584.2 L1628.5,1587.1 L1629.1,1590.0 L1629.7,1593.0 L1630.4,1596.0 L1631.0,1599.0 L1631.7,1602.1 L1632.3,1605.2 L1632.9,1608.4 L1633.6,1611.5 L1634.2,1614.7 L1634.8,1617.9 L1635.5,1621.2 L1636.1,1624.5 L1636.7,1627.8 L1637.4,1631.2 L1638.0,1634.6 L1638.6,1638.0 L1639.3,1641.4 L1639.9,1644.9 L1640.4,1647.5" fill="none" stroke="#d9624f" stroke-width="1.5"/>
<path d="M1103.5,1647.5 L1107.5,1645.7 L1111.4,1644.0 L1115.4,1642.2 L1119.4,1640.5 L1123.3,1638.7 L1127.3,1637.0 L1131.3,1635.2 L1135.2,1633.4 L1139.2,1631.7 L1143.2,1629.9 L1147.1,1628.2 L1151.1,1626.4 L1155.1,1624.7 L1159.0,1622.9 L1163.0,1621.1 L1167.0,1619.4 L1170.9,1617.6 L1174.9,1615.9 L1178.9,1614.1 L1182.8,1612.4 L1186.8,1610.6 L1190.8,1608.8 L1194.8,1607.1 L1198.7,1605.3 L1202.7,1603.6 L1206.7,1601.8 L1210.6,1600.1 L1214.6,1598.3 L1218.6,1596.5 L1222.5,1594.8 L1226.5,1593.0 L1230.5,1591.3 L1234.4,1589.5 L1238.4,1587.8 L1242.4,1586.0 L1246.3,1584.2 L1250.3,1582.5 L1254.3,1580.7 L1258.2,1579.0 L1262.2,1577.2 L1266.2,1575.5 L1270.1,1573.7 L1274.1,1571.9 L1278.1,1570.2 L1282.0,1568.4 L1286.0,1566.7 L1290.0,1564.9 L1293.9,1563.1 L1297.9,1561.4 L1301.9,1559.6 L1305.8,1557.9 L1309.8,1556.1 L1313.8,1554.4 L1317.7,1552.6 L1321.7,1550.8 L1325.7,1549.1 L1329.6,1547.3 L1333.6,1545.6 L1337.6,1543.8 L1341.5,1542.1 L1345.5,1540.3 L1349.5,1538.5 L1353.5,1536.8 L1357.4,1535.0 L1361.4,1533.3 L1365.4,1531.5 L1369.3,1529.8 L1373.3,1528.0 L1377.3,1526.2 L1381.2,1524.5 L1385.2,1522.7 L1389.2,1521.0 L1393.1,1519.2 L1397.1,1517.5 L1401.1,1515.7 L1405.0,1513.9 L1409.0,1512.2 L1413.0,1510.4 L1416.9,1508.7 L1420.9,1506.9 L1424.9,1505.2 L1428.8,1503.4 L1432.8,1501.6 L1436.8,1499.9 L1440.7,1498.1 L1444.7,1496.4 L1448.7,1494.6 L1452.6,1492.9 L1456.6,1491.1 L1460.6,1489.3 L1464.5,1487.6 L1468.5,1485.8 L1472.5,1484.1 L1476.4,1482.3 L1480.4,1480.6 L1484.4,1478.8 L1485.0,1478.5 L1485.6,1478.3 L1486.3,1478.0 L1486.9,1477.7 L1487.6,1477.4 L1488.2,1477.2 L1488.8,1476.9 L1489.5,1476.6 L1490.1,1476.3 L1490.7,1476.0 L1491.4,1475.8 L1492.0,1475.5 L1492.6,1475.2 L1493.3,1474.9 L1493.9,1474.6 L1494.5,1474.4 L1495.2,1474.1 L1495.8,1473.8 L1496.4,1473.5 L1497.1,1473.2 L1497.7,1473.0 L1498.3,1472.7 L1499.0,1472.4 L1499.6,1472.1 L1500.2,1471.9 L1500.9,1471.6 L1501.5,1471.3 L1502.2,1471.0 L1502.8,1470.7 L1503.4,1470.5 L1504.1,1470.2 L1504.7,1469.9 L1505.3,1469.6 L1506.0,1469.4 L1506.6,1469.1 L1507.2,1468.8 L1507.9,1468.5 L1508.5,1468.3 L1509.1,1468.0 L1509.8,1467.7 L1510.4,1467.4 L1511.0,1467.2 L1511.7,1466.9 L1512.3,1466.6 L1512.9,1466.3 L1513.6,1466.1 L1514.2,1465.8 L1514.9,1465.5 L1515.5,1465.3 L1516.1,1465.0 L1516.8,1464.7 L1517.4,1464.4 L1518.0,1464.2 L1518.7,1463.9 L1519.3,1463.6 L1519.9,1463.4 L1520.6,1463.1 L1521.2,1462.8 L1521.8,1462.6 L1522.5,1462.3 L1523.1,1462.0 L1523.7,1461.8 L1524.4,1461.5 L1525.0,1461.3 L1525.6,1461.0 L1526.3,1460.7 L1526.9,1460.5 L1527.5,1460.2 L1528.2,1459.9 L1528.8,1459.7 L1529.5,1459.4 L1530.1,1459.2 L1530.7,1458.9 L1531.4,1458.7 L1532.0,1458.4 L1532.6,1458.2 L1533.3,1457.9 L1533.9,1457.7 L1534.5,1457.4 L1535.2,1457.2 L1535.8,1456.9 L1536.4,1456.7 L1537.1,1456.4 L1537.7,1456.2 L1538.3,1456.0 L1539.0,1455.7 L1539.6,1455.5 L1540.2,1455.3 L1540.9,1455.0 L1541.5,1454.8 L1542.1,1454.6 L1542.8,1454.4 L1543.4,1454.1 L1544.1,1453.9 L1544.7,1453.7 L1545.3,1453.5 L1546.0,1453.3 L1546.6,1453.1 L1547.2,1452.9 L1547.9,1452.7 L1548.5,1452.5 L1549.1,1452.3 L1549.8,1452.1 L1550.4,1451.9 L1551.0,1451.7 L1551.7,1451.5 L1552.3,1451.3 L1552.9,1451.2 L1553.6,1451.0 L1554.2,1450.8 L1554.8,1450.7 L1555.5,1450.5 L1556.1,1450.4 L1556.7,1450.2 L1557.4,1450.1 L1558.0,1450.0 L1558.7,1449.8 L1559.3,1449.7 L1559.9,1449.6 L1560.6,1449.5 L1561.2,1449.4 L1561.8,1449.3 L1562.5,1449.2 L1563.1,1449.2 L1563.7,1449.1 L1564.4,1449.0 L1565.0,1449.0 L1565.6,1448.9 L1566.3,1448.9 L1566.9,1448.9 L1567.5,1448.9 L1568.2,1448.9 L1568.8,1448.9 L1569.4,1448.9 L1570.1,1448.9 L1570.7,1449.0 L1571.3,1449.0 L1572.0,1449.1 L1572.6,1449.2 L1573.3,1449.3 L1573.9,1449.4 L1574.5,1449.5 L1575.2,1449.7 L1575.8,1449.8 L1576.4,1450.0 L1577.1,1450.2 L1577.7,1450.4 L1578.3,1450.6 L1579.0,1450.9 L1579.6,1451.1 L1580.2,1451.4 L1580.9,1451.7 L1581.5,1452.1 L1582.1,1452.4 L1582.8,1452.8 L1583.4,1453.2 L1584.0,1453.6 L1584.7,1454.0 L1585.3,1454.5 L1585.9,1455.0 L1586.6,1455.5 L1587.2,1456.0 L1587.9,1456.6 L1588.5,1457.2 L1589.1,1457.8 L1589.8,1458.4 L1590.4,1459.1 L1591.0,1459.8 L1591.7,1460.6 L1592.3,1461.4 L1592.9,1462.2 L1593.6,1463.0 L1594.2,1463.9 L1594.8,1464.8 L1595.5,1465.8 L1596.1,1466.7 L1596.7,1467.8 L1597.4,1468.8 L1598.0,1469.9 L1598.6,1471.0 L1599.3,1472.2 L1599.9,1473.4 L1600.5,1474.7 L1601.2,1476.0 L1601.8,1477.3 L1602.5,1478.7 L1603.1,1480.1 L1603.7,1481.6 L1604.4,1483.1 L1605.0,1484.6 L1605.6,1486.2 L1606.3,1487.9 L1606.9,1489.6 L1607.5,1491.3 L1608.2,1493.1 L1608.8,1494.9 L1609.4,1496.8 L1610.1,1498.7 L1610.7,1500.7 L1611.3,1502.7 L1612.0,1504.8 L1612.6,1506.9 L1613.2,1509.0 L1613.9,1511.3 L1614.5,1513.5 L1615.1,1515.8 L1615.8,1518.2 L1616.4,1520.6 L1617.1,1523.1 L1617.7,1525.6 L1618.3,1528.1 L1619.0,1530.8 L1619.6,1533.4 L1620.2,1536.1 L1620.9,1538.9 L1621.5,1541.7 L1622.1,1544.6 L1622.8,1547.5 L1623.4,1550.4 L1624.0,1553.4 L1624.7,1556.5 L1625.3,1559.6 L1625.9,1562.8 L1626.6,1566.0 L1627.2,1569.2 L1627.8,1572.5 L1628.5,1575.9 L1629.1,1579.3 L1629.7,1582.7 L1630.4,1586.2 L1631.0,1589.8 L1631.7,1593.4 L1632.3,1597.0 L1632.9,1600.7 L1633.6,1604.4 L1634.2,1608.2 L1634.8,1612.0 L1635.5,1615.9 L1636.1,1619.8 L1636.7,1623.8 L1637.4,1627.8 L1638.0,1631.9 L1638.6,1636.0 L1639.3,1640.1 L1639.9,1644.3 L1640.4,1647.5" fill="none" stroke="#d9624f" stroke-width="1.35" stroke-dasharray="9.5,4.5" opacity="0.92"/>
<path d="M1103.5,1518.0 L1107.5,1518.0 L1111.4,1518.0 L1115.4,1518.0 L1119.4,1518.0 L1123.3,1518.0 L1127.3,1518.0 L1131.3,1518.0 L1135.2,1518.0 L1139.2,1518.0 L1143.2,1518.0 L1147.1,1518.0 L1151.1,1518.0 L1155.1,1518.0 L1159.0,1518.0 L1163.0,1518.0 L1167.0,1518.0 L1170.9,1518.0 L1174.9,1518.0 L1178.9,1518.0 L1182.8,1518.0 L1186.8,1518.0 L1190.8,1518.0 L1194.8,1518.0 L1198.7,1518.0 L1202.7,1518.0 L1206.7,1518.0 L1210.6,1518.0 L1214.6,1518.0 L1218.6,1518.0 L1222.5,1518.0 L1226.5,1518.0 L1230.5,1518.0 L1234.4,1518.0 L1238.4,1518.0 L1242.4,1518.0 L1246.3,1518.0 L1250.3,1518.0 L1254.3,1518.0 L1258.2,1518.0 L1262.2,1518.0 L1266.2,1518.0 L1270.1,1518.0 L1274.1,1518.0 L1278.1,1518.0 L1282.0,1518.0 L1286.0,1518.0 L1290.0,1518.0 L1293.9,1518.0 L1297.9,1518.0 L1301.9,1518.0 L1305.8,1518.0 L1309.8,1518.0 L1313.8,1518.0 L1317.7,1518.0 L1321.7,1518.0 L1325.7,1518.0 L1329.6,1518.0 L1333.6,1518.0 L1337.6,1518.0 L1341.5,1518.0 L1345.5,1518.0 L1349.5,1518.0 L1353.5,1518.0 L1357.4,1518.0 L1361.4,1518.0 L1365.4,1518.0 L1369.3,1518.0 L1373.3,1518.0 L1377.3,1518.0 L1381.2,1518.0 L1385.2,1518.0 L1389.2,1518.0 L1393.1,1518.0 L1397.1,1518.0 L1401.1,1518.0 L1405.0,1518.0 L1409.0,1518.0 L1413.0,1518.0 L1416.9,1518.0 L1420.9,1518.0 L1424.9,1518.0 L1428.8,1518.0 L1432.8,1518.0 L1436.8,1518.0 L1440.7,1518.0 L1444.7,1518.0 L1448.7,1518.0 L1452.6,1518.0 L1456.6,1518.0 L1460.6,1518.0 L1464.5,1518.0 L1468.5,1518.0 L1472.5,1518.0 L1476.4,1518.1 L1480.4,1518.1 L1484.4,1518.1 L1485.0,1518.1 L1485.6,1518.1 L1486.3,1518.1 L1486.9,1518.1 L1487.6,1518.1 L1488.2,1518.1 L1488.8,1518.1 L1489.5,1518.1 L1490.1,1518.1 L1490.7,1518.1 L1491.4,1518.1 L1492.0,1518.1 L1492.6,1518.1 L1493.3,1518.1 L1493.9,1518.2 L1494.5,1518.2 L1495.2,1518.2 L1495.8,1518.2 L1496.4,1518.2 L1497.1,1518.2 L1497.7,1518.2 L1498.3,1518.2 L1499.0,1518.2 L1499.6,1518.2 L1500.2,1518.2 L1500.9,1518.2 L1501.5,1518.2 L1502.2,1518.2 L1502.8,1518.2 L1503.4,1518.3 L1504.1,1518.3 L1504.7,1518.3 L1505.3,1518.3 L1506.0,1518.3 L1506.6,1518.3 L1507.2,1518.3 L1507.9,1518.3 L1508.5,1518.3 L1509.1,1518.4 L1509.8,1518.4 L1510.4,1518.4 L1511.0,1518.4 L1511.7,1518.4 L1512.3,1518.4 L1512.9,1518.4 L1513.6,1518.5 L1514.2,1518.5 L1514.9,1518.5 L1515.5,1518.5 L1516.1,1518.5 L1516.8,1518.5 L1517.4,1518.6 L1518.0,1518.6 L1518.7,1518.6 L1519.3,1518.6 L1519.9,1518.6 L1520.6,1518.7 L1521.2,1518.7 L1521.8,1518.7 L1522.5,1518.7 L1523.1,1518.8 L1523.7,1518.8 L1524.4,1518.8 L1525.0,1518.8 L1525.6,1518.9 L1526.3,1518.9 L1526.9,1518.9 L1527.5,1519.0 L1528.2,1519.0 L1528.8,1519.0 L1529.5,1519.1 L1530.1,1519.1 L1530.7,1519.1 L1531.4,1519.2 L1532.0,1519.2 L1532.6,1519.3 L1533.3,1519.3 L1533.9,1519.4 L1534.5,1519.4 L1535.2,1519.5 L1535.8,1519.5 L1536.4,1519.6 L1537.1,1519.6 L1537.7,1519.7 L1538.3,1519.7 L1539.0,1519.8 L1539.6,1519.8 L1540.2,1519.9 L1540.9,1520.0 L1541.5,1520.0 L1542.1,1520.1 L1542.8,1520.2 L1543.4,1520.3 L1544.1,1520.3 L1544.7,1520.4 L1545.3,1520.5 L1546.0,1520.6 L1546.6,1520.7 L1547.2,1520.8 L1547.9,1520.8 L1548.5,1520.9 L1549.1,1521.0 L1549.8,1521.1 L1550.4,1521.3 L1551.0,1521.4 L1551.7,1521.5 L1552.3,1521.6 L1552.9,1521.7 L1553.6,1521.8 L1554.2,1522.0 L1554.8,1522.1 L1555.5,1522.3 L1556.1,1522.4 L1556.7,1522.5 L1557.4,1522.7 L1558.0,1522.9 L1558.7,1523.0 L1559.3,1523.2 L1559.9,1523.4 L1560.6,1523.5 L1561.2,1523.7 L1561.8,1523.9 L1562.5,1524.1 L1563.1,1524.3 L1563.7,1524.5 L1564.4,1524.7 L1565.0,1525.0 L1565.6,1525.2 L1566.3,1525.4 L1566.9,1525.7 L1567.5,1525.9 L1568.2,1526.2 L1568.8,1526.5 L1569.4,1526.8 L1570.1,1527.0 L1570.7,1527.3 L1571.3,1527.7 L1572.0,1528.0 L1572.6,1528.3 L1573.3,1528.6 L1573.9,1529.0 L1574.5,1529.3 L1575.2,1529.7 L1575.8,1530.1 L1576.4,1530.5 L1577.1,1530.9 L1577.7,1531.3 L1578.3,1531.7 L1579.0,1532.2 L1579.6,1532.6 L1580.2,1533.1 L1580.9,1533.6 L1581.5,1534.0 L1582.1,1534.6 L1582.8,1535.1 L1583.4,1535.6 L1584.0,1536.2 L1584.7,1536.7 L1585.3,1537.3 L1585.9,1537.9 L1586.6,1538.6 L1587.2,1539.2 L1587.9,1539.8 L1588.5,1540.5 L1589.1,1541.2 L1589.8,1541.9 L1590.4,1542.6 L1591.0,1543.4 L1591.7,1544.2 L1592.3,1544.9 L1592.9,1545.8 L1593.6,1546.6 L1594.2,1547.4 L1594.8,1548.3 L1595.5,1549.2 L1596.1,1550.1 L1596.7,1551.1 L1597.4,1552.0 L1598.0,1553.0 L1598.6,1554.0 L1599.3,1555.1 L1599.9,1556.1 L1600.5,1557.2 L1601.2,1558.3 L1601.8,1559.5 L1602.5,1560.6 L1603.1,1561.8 L1603.7,1563.0 L1604.4,1564.3 L1605.0,1565.5 L1605.6,1566.8 L1606.3,1568.2 L1606.9,1569.5 L1607.5,1570.9 L1608.2,1572.3 L1608.8,1573.8 L1609.4,1575.2 L1610.1,1576.7 L1610.7,1578.3 L1611.3,1579.8 L1612.0,1581.4 L1612.6,1583.0 L1613.2,1584.7 L1613.9,1586.4 L1614.5,1588.1 L1615.1,1589.8 L1615.8,1591.6 L1616.4,1593.4 L1617.1,1595.2 L1617.7,1597.1 L1618.3,1599.0 L1619.0,1600.9 L1619.6,1602.9 L1620.2,1604.9 L1620.9,1606.9 L1621.5,1609.0 L1622.1,1611.1 L1622.8,1613.2 L1623.4,1615.3 L1624.0,1617.5 L1624.7,1619.7 L1625.3,1622.0 L1625.9,1624.3 L1626.6,1626.6 L1627.2,1628.9 L1627.8,1631.3 L1628.5,1633.7 L1629.1,1636.1 L1629.7,1638.6 L1630.4,1641.1 L1631.0,1643.6 L1631.7,1646.2 L1632.0,1647.5" fill="none" stroke="#5f8fca" stroke-width="1.5"/>
<path d="M1103.5,1647.5 L1107.5,1646.3 L1111.4,1645.2 L1115.4,1644.0 L1119.4,1642.9 L1123.3,1641.7 L1127.3,1640.5 L1131.3,1639.4 L1135.2,1638.2 L1139.2,1637.1 L1143.2,1635.9 L1147.1,1634.7 L1151.1,1633.6 L1155.1,1632.4 L1159.0,1631.3 L1163.0,1630.1 L1167.0,1628.9 L1170.9,1627.8 L1174.9,1626.6 L1178.9,1625.5 L1182.8,1624.3 L1186.8,1623.1 L1190.8,1622.0 L1194.8,1620.8 L1198.7,1619.7 L1202.7,1618.5 L1206.7,1617.3 L1210.6,1616.2 L1214.6,1615.0 L1218.6,1613.9 L1222.5,1612.7 L1226.5,1611.5 L1230.5,1610.4 L1234.4,1609.2 L1238.4,1608.1 L1242.4,1606.9 L1246.3,1605.7 L1250.3,1604.6 L1254.3,1603.4 L1258.2,1602.3 L1262.2,1601.1 L1266.2,1599.9 L1270.1,1598.8 L1274.1,1597.6 L1278.1,1596.5 L1282.0,1595.3 L1286.0,1594.1 L1290.0,1593.0 L1293.9,1591.8 L1297.9,1590.7 L1301.9,1589.5 L1305.8,1588.3 L1309.8,1587.2 L1313.8,1586.0 L1317.7,1584.8 L1321.7,1583.7 L1325.7,1582.5 L1329.6,1581.4 L1333.6,1580.2 L1337.6,1579.0 L1341.5,1577.9 L1345.5,1576.7 L1349.5,1575.6 L1353.5,1574.4 L1357.4,1573.2 L1361.4,1572.1 L1365.4,1570.9 L1369.3,1569.8 L1373.3,1568.6 L1377.3,1567.4 L1381.2,1566.3 L1385.2,1565.1 L1389.2,1564.0 L1393.1,1562.8 L1397.1,1561.6 L1401.1,1560.5 L1405.0,1559.3 L1409.0,1558.2 L1413.0,1557.0 L1416.9,1555.8 L1420.9,1554.7 L1424.9,1553.5 L1428.8,1552.4 L1432.8,1551.2 L1436.8,1550.0 L1440.7,1548.9 L1444.7,1547.7 L1448.7,1546.6 L1452.6,1545.4 L1456.6,1544.3 L1460.6,1543.1 L1464.5,1541.9 L1468.5,1540.8 L1472.5,1539.6 L1476.4,1538.5 L1480.4,1537.3 L1484.4,1536.2 L1485.0,1536.0 L1485.6,1535.8 L1486.3,1535.7 L1486.9,1535.5 L1487.6,1535.3 L1488.2,1535.1 L1488.8,1534.9 L1489.5,1534.7 L1490.1,1534.6 L1490.7,1534.4 L1491.4,1534.2 L1492.0,1534.0 L1492.6,1533.8 L1493.3,1533.7 L1493.9,1533.5 L1494.5,1533.3 L1495.2,1533.1 L1495.8,1532.9 L1496.4,1532.8 L1497.1,1532.6 L1497.7,1532.4 L1498.3,1532.2 L1499.0,1532.0 L1499.6,1531.9 L1500.2,1531.7 L1500.9,1531.5 L1501.5,1531.3 L1502.2,1531.2 L1502.8,1531.0 L1503.4,1530.8 L1504.1,1530.6 L1504.7,1530.4 L1505.3,1530.3 L1506.0,1530.1 L1506.6,1529.9 L1507.2,1529.7 L1507.9,1529.6 L1508.5,1529.4 L1509.1,1529.2 L1509.8,1529.0 L1510.4,1528.9 L1511.0,1528.7 L1511.7,1528.5 L1512.3,1528.4 L1512.9,1528.2 L1513.6,1528.0 L1514.2,1527.8 L1514.9,1527.7 L1515.5,1527.5 L1516.1,1527.3 L1516.8,1527.2 L1517.4,1527.0 L1518.0,1526.8 L1518.7,1526.7 L1519.3,1526.5 L1519.9,1526.3 L1520.6,1526.2 L1521.2,1526.0 L1521.8,1525.8 L1522.5,1525.7 L1523.1,1525.5 L1523.7,1525.4 L1524.4,1525.2 L1525.0,1525.1 L1525.6,1524.9 L1526.3,1524.7 L1526.9,1524.6 L1527.5,1524.4 L1528.2,1524.3 L1528.8,1524.1 L1529.5,1524.0 L1530.1,1523.8 L1530.7,1523.7 L1531.4,1523.5 L1532.0,1523.4 L1532.6,1523.3 L1533.3,1523.1 L1533.9,1523.0 L1534.5,1522.8 L1535.2,1522.7 L1535.8,1522.6 L1536.4,1522.4 L1537.1,1522.3 L1537.7,1522.2 L1538.3,1522.0 L1539.0,1521.9 L1539.6,1521.8 L1540.2,1521.7 L1540.9,1521.6 L1541.5,1521.4 L1542.1,1521.3 L1542.8,1521.2 L1543.4,1521.1 L1544.1,1521.0 L1544.7,1520.9 L1545.3,1520.8 L1546.0,1520.7 L1546.6,1520.6 L1547.2,1520.5 L1547.9,1520.4 L1548.5,1520.3 L1549.1,1520.3 L1549.8,1520.2 L1550.4,1520.1 L1551.0,1520.0 L1551.7,1520.0 L1552.3,1519.9 L1552.9,1519.9 L1553.6,1519.8 L1554.2,1519.8 L1554.8,1519.7 L1555.5,1519.7 L1556.1,1519.6 L1556.7,1519.6 L1557.4,1519.6 L1558.0,1519.6 L1558.7,1519.6 L1559.3,1519.6 L1559.9,1519.6 L1560.6,1519.6 L1561.2,1519.6 L1561.8,1519.6 L1562.5,1519.6 L1563.1,1519.7 L1563.7,1519.7 L1564.4,1519.8 L1565.0,1519.8 L1565.6,1519.9 L1566.3,1520.0 L1566.9,1520.0 L1567.5,1520.1 L1568.2,1520.2 L1568.8,1520.4 L1569.4,1520.5 L1570.1,1520.6 L1570.7,1520.7 L1571.3,1520.9 L1572.0,1521.1 L1572.6,1521.2 L1573.3,1521.4 L1573.9,1521.6 L1574.5,1521.8 L1575.2,1522.0 L1575.8,1522.3 L1576.4,1522.5 L1577.1,1522.8 L1577.7,1523.1 L1578.3,1523.4 L1579.0,1523.7 L1579.6,1524.0 L1580.2,1524.3 L1580.9,1524.7 L1581.5,1525.1 L1582.1,1525.4 L1582.8,1525.8 L1583.4,1526.3 L1584.0,1526.7 L1584.7,1527.2 L1585.3,1527.6 L1585.9,1528.1 L1586.6,1528.7 L1587.2,1529.2 L1587.9,1529.8 L1588.5,1530.3 L1589.1,1530.9 L1589.8,1531.6 L1590.4,1532.2 L1591.0,1532.9 L1591.7,1533.6 L1592.3,1534.3 L1592.9,1535.1 L1593.6,1535.8 L1594.2,1536.6 L1594.8,1537.5 L1595.5,1538.3 L1596.1,1539.2 L1596.7,1540.1 L1597.4,1541.0 L1598.0,1542.0 L1598.6,1543.0 L1599.3,1544.0 L1599.9,1545.1 L1600.5,1546.2 L1601.2,1547.3 L1601.8,1548.4 L1602.5,1549.6 L1603.1,1550.8 L1603.7,1552.1 L1604.4,1553.4 L1605.0,1554.7 L1605.6,1556.1 L1606.3,1557.4 L1606.9,1558.9 L1607.5,1560.3 L1608.2,1561.8 L1608.8,1563.4 L1609.4,1564.9 L1610.1,1566.6 L1610.7,1568.2 L1611.3,1569.9 L1612.0,1571.6 L1612.6,1573.4 L1613.2,1575.2 L1613.9,1577.0 L1614.5,1578.9 L1615.1,1580.9 L1615.8,1582.8 L1616.4,1584.8 L1617.1,1586.9 L1617.7,1589.0 L1618.3,1591.1 L1619.0,1593.3 L1619.6,1595.5 L1620.2,1597.8 L1620.9,1600.1 L1621.5,1602.4 L1622.1,1604.8 L1622.8,1607.3 L1623.4,1609.8 L1624.0,1612.3 L1624.7,1614.8 L1625.3,1617.4 L1625.9,1620.1 L1626.6,1622.8 L1627.2,1625.5 L1627.8,1628.3 L1628.5,1631.2 L1629.1,1634.0 L1629.7,1636.9 L1630.4,1639.9 L1631.0,1642.9 L1631.7,1646.0 L1632.0,1647.5" fill="none" stroke="#5f8fca" stroke-width="1.35" stroke-dasharray="9.5,4.5" opacity="0.92"/>
<path d="M1103.5,1583.9 L1107.5,1583.9 L1111.4,1583.9 L1115.4,1583.9 L1119.4,1583.9 L1123.3,1583.9 L1127.3,1583.9 L1131.3,1583.9 L1135.2,1583.9 L1139.2,1583.9 L1143.2,1583.9 L1147.1,1583.9 L1151.1,1583.9 L1155.1,1583.9 L1159.0,1583.9 L1163.0,1583.9 L1167.0,1583.9 L1170.9,1583.9 L1174.9,1583.9 L1178.9,1583.9 L1182.8,1583.9 L1186.8,1583.9 L1190.8,1583.9 L1194.8,1583.9 L1198.7,1583.9 L1202.7,1583.9 L1206.7,1583.9 L1210.6,1583.9 L1214.6,1583.9 L1218.6,1583.9 L1222.5,1583.9 L1226.5,1583.9 L1230.5,1583.9 L1234.4,1583.9 L1238.4,1583.9 L1242.4,1583.9 L1246.3,1583.9 L1250.3,1583.9 L1254.3,1583.9 L1258.2,1583.9 L1262.2,1583.9 L1266.2,1583.9 L1270.1,1583.9 L1274.1,1583.9 L1278.1,1583.9 L1282.0,1583.9 L1286.0,1583.9 L1290.0,1583.9 L1293.9,1583.9 L1297.9,1583.9 L1301.9,1583.9 L1305.8,1583.9 L1309.8,1583.9 L1313.8,1583.9 L1317.7,1583.9 L1321.7,1583.9 L1325.7,1583.9 L1329.6,1583.9 L1333.6,1583.9 L1337.6,1583.9 L1341.5,1583.9 L1345.5,1583.9 L1349.5,1583.9 L1353.5,1583.9 L1357.4,1583.9 L1361.4,1583.9 L1365.4,1583.9 L1369.3,1583.9 L1373.3,1583.9 L1377.3,1583.9 L1381.2,1583.9 L1385.2,1583.9 L1389.2,1583.9 L1393.1,1583.9 L1397.1,1583.9 L1401.1,1583.9 L1405.0,1583.9 L1409.0,1583.9 L1413.0,1583.9 L1416.9,1583.9 L1420.9,1583.9 L1424.9,1583.9 L1428.8,1583.9 L1432.8,1583.9 L1436.8,1583.9 L1440.7,1583.9 L1444.7,1583.9 L1448.7,1583.9 L1452.6,1583.9 L1456.6,1583.9 L1460.6,1583.9 L1464.5,1583.9 L1468.5,1583.9 L1472.5,1583.9 L1476.4,1584.0 L1480.4,1584.0 L1484.4,1584.0 L1485.0,1584.0 L1485.6,1584.0 L1486.3,1584.0 L1486.9,1584.0 L1487.6,1584.0 L1488.2,1584.0 L1488.8,1584.0 L1489.5,1584.0 L1490.1,1584.0 L1490.7,1584.0 L1491.4,1584.0 L1492.0,1584.0 L1492.6,1584.0 L1493.3,1584.0 L1493.9,1584.1 L1494.5,1584.1 L1495.2,1584.1 L1495.8,1584.1 L1496.4,1584.1 L1497.1,1584.1 L1497.7,1584.1 L1498.3,1584.1 L1499.0,1584.1 L1499.6,1584.1 L1500.2,1584.1 L1500.9,1584.1 L1501.5,1584.1 L1502.2,1584.1 L1502.8,1584.2 L1503.4,1584.2 L1504.1,1584.2 L1504.7,1584.2 L1505.3,1584.2 L1506.0,1584.2 L1506.6,1584.2 L1507.2,1584.2 L1507.9,1584.2 L1508.5,1584.2 L1509.1,1584.3 L1509.8,1584.3 L1510.4,1584.3 L1511.0,1584.3 L1511.7,1584.3 L1512.3,1584.3 L1512.9,1584.3 L1513.6,1584.3 L1514.2,1584.4 L1514.9,1584.4 L1515.5,1584.4 L1516.1,1584.4 L1516.8,1584.4 L1517.4,1584.4 L1518.0,1584.5 L1518.7,1584.5 L1519.3,1584.5 L1519.9,1584.5 L1520.6,1584.5 L1521.2,1584.6 L1521.8,1584.6 L1522.5,1584.6 L1523.1,1584.6 L1523.7,1584.7 L1524.4,1584.7 L1525.0,1584.7 L1525.6,1584.7 L1526.3,1584.8 L1526.9,1584.8 L1527.5,1584.8 L1528.2,1584.8 L1528.8,1584.9 L1529.5,1584.9 L1530.1,1584.9 L1530.7,1585.0 L1531.4,1585.0 L1532.0,1585.0 L1532.6,1585.1 L1533.3,1585.1 L1533.9,1585.2 L1534.5,1585.2 L1535.2,1585.2 L1535.8,1585.3 L1536.4,1585.3 L1537.1,1585.4 L1537.7,1585.4 L1538.3,1585.5 L1539.0,1585.5 L1539.6,1585.6 L1540.2,1585.6 L1540.9,1585.7 L1541.5,1585.8 L1542.1,1585.8 L1542.8,1585.9 L1543.4,1585.9 L1544.1,1586.0 L1544.7,1586.1 L1545.3,1586.1 L1546.0,1586.2 L1546.6,1586.3 L1547.2,1586.4 L1547.9,1586.4 L1548.5,1586.5 L1549.1,1586.6 L1549.8,1586.7 L1550.4,1586.8 L1551.0,1586.9 L1551.7,1587.0 L1552.3,1587.1 L1552.9,1587.2 L1553.6,1587.3 L1554.2,1587.4 L1554.8,1587.5 L1555.5,1587.6 L1556.1,1587.7 L1556.7,1587.9 L1557.4,1588.0 L1558.0,1588.1 L1558.7,1588.3 L1559.3,1588.4 L1559.9,1588.5 L1560.6,1588.7 L1561.2,1588.8 L1561.8,1589.0 L1562.5,1589.2 L1563.1,1589.3 L1563.7,1589.5 L1564.4,1589.7 L1565.0,1589.9 L1565.6,1590.1 L1566.3,1590.2 L1566.9,1590.4 L1567.5,1590.7 L1568.2,1590.9 L1568.8,1591.1 L1569.4,1591.3 L1570.1,1591.5 L1570.7,1591.8 L1571.3,1592.0 L1572.0,1592.3 L1572.6,1592.5 L1573.3,1592.8 L1573.9,1593.1 L1574.5,1593.4 L1575.2,1593.7 L1575.8,1594.0 L1576.4,1594.3 L1577.1,1594.6 L1577.7,1594.9 L1578.3,1595.3 L1579.0,1595.6 L1579.6,1596.0 L1580.2,1596.4 L1580.9,1596.7 L1581.5,1597.1 L1582.1,1597.5 L1582.8,1597.9 L1583.4,1598.4 L1584.0,1598.8 L1584.7,1599.3 L1585.3,1599.7 L1585.9,1600.2 L1586.6,1600.7 L1587.2,1601.2 L1587.9,1601.7 L1588.5,1602.2 L1589.1,1602.8 L1589.8,1603.3 L1590.4,1603.9 L1591.0,1604.5 L1591.7,1605.1 L1592.3,1605.7 L1592.9,1606.4 L1593.6,1607.0 L1594.2,1607.7 L1594.8,1608.4 L1595.5,1609.1 L1596.1,1609.8 L1596.7,1610.6 L1597.4,1611.3 L1598.0,1612.1 L1598.6,1612.9 L1599.3,1613.7 L1599.9,1614.6 L1600.5,1615.4 L1601.2,1616.3 L1601.8,1617.2 L1602.5,1618.1 L1603.1,1619.1 L1603.7,1620.0 L1604.4,1621.0 L1605.0,1622.0 L1605.6,1623.1 L1606.3,1624.1 L1606.9,1625.2 L1607.5,1626.3 L1608.2,1627.4 L1608.8,1628.6 L1609.4,1629.8 L1610.1,1631.0 L1610.7,1632.2 L1611.3,1633.5 L1612.0,1634.8 L1612.6,1636.1 L1613.2,1637.4 L1613.9,1638.8 L1614.5,1640.1 L1615.1,1641.6 L1615.8,1643.0 L1616.4,1644.5 L1617.1,1646.0 L1617.7,1647.5 L1617.7,1647.5" fill="none" stroke="#7459a6" stroke-width="1.5"/>
<path d="M1103.5,1647.5 L1107.5,1646.9 L1111.4,1646.4 L1115.4,1645.8 L1119.4,1645.2 L1123.3,1644.7 L1127.3,1644.1 L1131.3,1643.5 L1135.2,1642.9 L1139.2,1642.4 L1143.2,1641.8 L1147.1,1641.2 L1151.1,1640.7 L1155.1,1640.1 L1159.0,1639.5 L1163.0,1639.0 L1167.0,1638.4 L1170.9,1637.8 L1174.9,1637.2 L1178.9,1636.7 L1182.8,1636.1 L1186.8,1635.5 L1190.8,1635.0 L1194.8,1634.4 L1198.7,1633.8 L1202.7,1633.3 L1206.7,1632.7 L1210.6,1632.1 L1214.6,1631.5 L1218.6,1631.0 L1222.5,1630.4 L1226.5,1629.8 L1230.5,1629.3 L1234.4,1628.7 L1238.4,1628.1 L1242.4,1627.6 L1246.3,1627.0 L1250.3,1626.4 L1254.3,1625.8 L1258.2,1625.3 L1262.2,1624.7 L1266.2,1624.1 L1270.1,1623.6 L1274.1,1623.0 L1278.1,1622.4 L1282.0,1621.9 L1286.0,1621.3 L1290.0,1620.7 L1293.9,1620.1 L1297.9,1619.6 L1301.9,1619.0 L1305.8,1618.4 L1309.8,1617.9 L1313.8,1617.3 L1317.7,1616.7 L1321.7,1616.2 L1325.7,1615.6 L1329.6,1615.0 L1333.6,1614.4 L1337.6,1613.9 L1341.5,1613.3 L1345.5,1612.7 L1349.5,1612.2 L1353.5,1611.6 L1357.4,1611.0 L1361.4,1610.5 L1365.4,1609.9 L1369.3,1609.3 L1373.3,1608.7 L1377.3,1608.2 L1381.2,1607.6 L1385.2,1607.0 L1389.2,1606.5 L1393.1,1605.9 L1397.1,1605.3 L1401.1,1604.8 L1405.0,1604.2 L1409.0,1603.6 L1413.0,1603.1 L1416.9,1602.5 L1420.9,1601.9 L1424.9,1601.3 L1428.8,1600.8 L1432.8,1600.2 L1436.8,1599.6 L1440.7,1599.1 L1444.7,1598.5 L1448.7,1597.9 L1452.6,1597.4 L1456.6,1596.8 L1460.6,1596.2 L1464.5,1595.7 L1468.5,1595.1 L1472.5,1594.5 L1476.4,1594.0 L1480.4,1593.4 L1484.4,1592.9 L1485.0,1592.8 L1485.6,1592.7 L1486.3,1592.6 L1486.9,1592.5 L1487.6,1592.4 L1488.2,1592.4 L1488.8,1592.3 L1489.5,1592.2 L1490.1,1592.1 L1490.7,1592.0 L1491.4,1591.9 L1492.0,1591.8 L1492.6,1591.7 L1493.3,1591.7 L1493.9,1591.6 L1494.5,1591.5 L1495.2,1591.4 L1495.8,1591.3 L1496.4,1591.2 L1497.1,1591.1 L1497.7,1591.1 L1498.3,1591.0 L1499.0,1590.9 L1499.6,1590.8 L1500.2,1590.7 L1500.9,1590.6 L1501.5,1590.6 L1502.2,1590.5 L1502.8,1590.4 L1503.4,1590.3 L1504.1,1590.2 L1504.7,1590.1 L1505.3,1590.1 L1506.0,1590.0 L1506.6,1589.9 L1507.2,1589.8 L1507.9,1589.7 L1508.5,1589.7 L1509.1,1589.6 L1509.8,1589.5 L1510.4,1589.4 L1511.0,1589.3 L1511.7,1589.3 L1512.3,1589.2 L1512.9,1589.1 L1513.6,1589.0 L1514.2,1588.9 L1514.9,1588.9 L1515.5,1588.8 L1516.1,1588.7 L1516.8,1588.6 L1517.4,1588.6 L1518.0,1588.5 L1518.7,1588.4 L1519.3,1588.4 L1519.9,1588.3 L1520.6,1588.2 L1521.2,1588.1 L1521.8,1588.1 L1522.5,1588.0 L1523.1,1587.9 L1523.7,1587.9 L1524.4,1587.8 L1525.0,1587.7 L1525.6,1587.7 L1526.3,1587.6 L1526.9,1587.5 L1527.5,1587.5 L1528.2,1587.4 L1528.8,1587.4 L1529.5,1587.3 L1530.1,1587.2 L1530.7,1587.2 L1531.4,1587.1 L1532.0,1587.1 L1532.6,1587.0 L1533.3,1587.0 L1533.9,1586.9 L1534.5,1586.9 L1535.2,1586.8 L1535.8,1586.8 L1536.4,1586.7 L1537.1,1586.7 L1537.7,1586.6 L1538.3,1586.6 L1539.0,1586.6 L1539.6,1586.5 L1540.2,1586.5 L1540.9,1586.5 L1541.5,1586.4 L1542.1,1586.4 L1542.8,1586.4 L1543.4,1586.4 L1544.1,1586.3 L1544.7,1586.3 L1545.3,1586.3 L1546.0,1586.3 L1546.6,1586.3 L1547.2,1586.3 L1547.9,1586.2 L1548.5,1586.2 L1549.1,1586.2 L1549.8,1586.2 L1550.4,1586.2 L1551.0,1586.2 L1551.7,1586.3 L1552.3,1586.3 L1552.9,1586.3 L1553.6,1586.3 L1554.2,1586.3 L1554.8,1586.4 L1555.5,1586.4 L1556.1,1586.4 L1556.7,1586.5 L1557.4,1586.5 L1558.0,1586.6 L1558.7,1586.6 L1559.3,1586.7 L1559.9,1586.7 L1560.6,1586.8 L1561.2,1586.9 L1561.8,1587.0 L1562.5,1587.0 L1563.1,1587.1 L1563.7,1587.2 L1564.4,1587.3 L1565.0,1587.4 L1565.6,1587.6 L1566.3,1587.7 L1566.9,1587.8 L1567.5,1587.9 L1568.2,1588.1 L1568.8,1588.2 L1569.4,1588.4 L1570.1,1588.5 L1570.7,1588.7 L1571.3,1588.9 L1572.0,1589.1 L1572.6,1589.3 L1573.3,1589.5 L1573.9,1589.7 L1574.5,1589.9 L1575.2,1590.2 L1575.8,1590.4 L1576.4,1590.7 L1577.1,1590.9 L1577.7,1591.2 L1578.3,1591.5 L1579.0,1591.8 L1579.6,1592.1 L1580.2,1592.4 L1580.9,1592.8 L1581.5,1593.1 L1582.1,1593.5 L1582.8,1593.9 L1583.4,1594.3 L1584.0,1594.7 L1584.7,1595.1 L1585.3,1595.5 L1585.9,1596.0 L1586.6,1596.4 L1587.2,1596.9 L1587.9,1597.4 L1588.5,1597.9 L1589.1,1598.5 L1589.8,1599.0 L1590.4,1599.6 L1591.0,1600.2 L1591.7,1600.8 L1592.3,1601.4 L1592.9,1602.0 L1593.6,1602.7 L1594.2,1603.4 L1594.8,1604.1 L1595.5,1604.8 L1596.1,1605.6 L1596.7,1606.4 L1597.4,1607.2 L1598.0,1608.0 L1598.6,1608.8 L1599.3,1609.7 L1599.9,1610.6 L1600.5,1611.5 L1601.2,1612.4 L1601.8,1613.4 L1602.5,1614.4 L1603.1,1615.4 L1603.7,1616.5 L1604.4,1617.6 L1605.0,1618.7 L1605.6,1619.8 L1606.3,1621.0 L1606.9,1622.2 L1607.5,1623.4 L1608.2,1624.7 L1608.8,1625.9 L1609.4,1627.3 L1610.1,1628.6 L1610.7,1630.0 L1611.3,1631.4 L1612.0,1632.9 L1612.6,1634.4 L1613.2,1635.9 L1613.9,1637.4 L1614.5,1639.0 L1615.1,1640.6 L1615.8,1642.3 L1616.4,1644.0 L1617.1,1645.7 L1617.7,1647.5 L1617.7,1647.5" fill="none" stroke="#7459a6" stroke-width="1.35" stroke-dasharray="9.5,4.5" opacity="0.92"/>
<text x="1091.5" y="1653.6" text-anchor="end" font-size="20" fill="#6d6e71" font-family="Liberation Sans, sans-serif" transform="translate(1091.5,0) scale(0.78,1) translate(-1091.5,0)">0</text>
<text x="1091.5" y="1615.6" text-anchor="end" font-size="20" fill="#6d6e71" font-family="Liberation Sans, sans-serif" transform="translate(1091.5,0) scale(0.78,1) translate(-1091.5,0)">2</text>
<text x="1091.5" y="1577.6" text-anchor="end" font-size="20" fill="#6d6e71" font-family="Liberation Sans, sans-serif" transform="translate(1091.5,0) scale(0.78,1) translate(-1091.5,0)">4</text>
<text x="1091.5" y="1539.7" text-anchor="end" font-size="20" fill="#6d6e71" font-family="Liberation Sans, sans-serif" transform="translate(1091.5,0) scale(0.78,1) translate(-1091.5,0)">6</text>
<text x="1091.5" y="1501.7" text-anchor="end" font-size="20" fill="#6d6e71" font-family="Liberation Sans, sans-serif" transform="translate(1091.5,0) scale(0.78,1) translate(-1091.5,0)">8</text>
<text x="1091.5" y="1463.7" text-anchor="end" font-size="20" fill="#6d6e71" font-family="Liberation Sans, sans-serif" transform="translate(1091.5,0) scale(0.78,1) translate(-1091.5,0)">10</text>
<text x="1091.5" y="1425.7" text-anchor="end" font-size="20" fill="#6d6e71" font-family="Liberation Sans, sans-serif" transform="translate(1091.5,0) scale(0.78,1) translate(-1091.5,0)">12</text>
<text x="1091.5" y="1387.7" text-anchor="end" font-size="20" fill="#6d6e71" font-family="Liberation Sans, sans-serif" transform="translate(1091.5,0) scale(0.78,1) translate(-1091.5,0)">14</text>
<text x="1091.5" y="1349.8" text-anchor="end" font-size="20" fill="#6d6e71" font-family="Liberation Sans, sans-serif" transform="translate(1091.5,0) scale(0.78,1) translate(-1091.5,0)">16</text>
<text x="1091.5" y="1311.8" text-anchor="end" font-size="20" fill="#6d6e71" font-family="Liberation Sans, sans-serif" transform="translate(1091.5,0) scale(0.78,1) translate(-1091.5,0)">18</text>
<text x="1105.3" y="1672" text-anchor="middle" font-size="20" fill="#6d6e71" font-family="Liberation Sans, sans-serif" transform="translate(1105.3,0) scale(0.85,1) translate(-1105.3,0)">0</text>
<text x="1184.6" y="1672" text-anchor="middle" font-size="20" fill="#6d6e71" font-family="Liberation Sans, sans-serif" transform="translate(1184.6,0) scale(0.85,1) translate(-1184.6,0)">5</text>
<text x="1263.8" y="1672" text-anchor="middle" font-size="20" fill="#6d6e71" font-family="Liberation Sans, sans-serif" transform="translate(1263.8,0) scale(0.85,1) translate(-1263.8,0)">10</text>
<text x="1343.1" y="1672" text-anchor="middle" font-size="20" fill="#6d6e71" font-family="Liberation Sans, sans-serif" transform="translate(1343.1,0) scale(0.85,1) translate(-1343.1,0)">15</text>
<text x="1422.3" y="1672" text-anchor="middle" font-size="20" fill="#6d6e71" font-family="Liberation Sans, sans-serif" transform="translate(1422.3,0) scale(0.85,1) translate(-1422.3,0)">20</text>
<text x="1501.6" y="1672" text-anchor="middle" font-size="20" fill="#6d6e71" font-family="Liberation Sans, sans-serif" transform="translate(1501.6,0) scale(0.85,1) translate(-1501.6,0)">25</text>
<text x="1580.9" y="1672" text-anchor="middle" font-size="20" fill="#6d6e71" font-family="Liberation Sans, sans-serif" transform="translate(1580.9,0) scale(0.85,1) translate(-1580.9,0)">30</text>
<text x="1660.1" y="1672" text-anchor="middle" font-size="20" fill="#6d6e71" font-family="Liberation Sans, sans-serif" transform="translate(1660.1,0) scale(0.85,1) translate(-1660.1,0)">35</text>
<text x="1675.4" y="1307.9" font-size="20" fill="#6d6e71" font-family="Liberation Sans, sans-serif" transform="translate(1675.4,0) scale(0.78,1) translate(-1675.4,0)">450</text>
<text x="1675.4" y="1350.4" font-size="20" fill="#6d6e71" font-family="Liberation Sans, sans-serif" transform="translate(1675.4,0) scale(0.78,1) translate(-1675.4,0)">400</text>
<text x="1675.4" y="1393.9" font-size="20" fill="#6d6e71" font-family="Liberation Sans, sans-serif" transform="translate(1675.4,0) scale(0.78,1) translate(-1675.4,0)">350</text>
<text x="1675.4" y="1436.6" font-size="20" fill="#6d6e71" font-family="Liberation Sans, sans-serif" transform="translate(1675.4,0) scale(0.78,1) translate(-1675.4,0)">300</text>
<text x="1675.4" y="1479.6" font-size="20" fill="#6d6e71" font-family="Liberation Sans, sans-serif" transform="translate(1675.4,0) scale(0.78,1) translate(-1675.4,0)">250</text>
<text x="1675.4" y="1522.8" font-size="20" fill="#6d6e71" font-family="Liberation Sans, sans-serif" transform="translate(1675.4,0) scale(0.78,1) translate(-1675.4,0)">200</text>
<text x="1675.4" y="1565.4" font-size="20" fill="#6d6e71" font-family="Liberation Sans, sans-serif" transform="translate(1675.4,0) scale(0.78,1) translate(-1675.4,0)">150</text>
<text x="1675.4" y="1608.1" font-size="20" fill="#6d6e71" font-family="Liberation Sans, sans-serif" transform="translate(1675.4,0) scale(0.78,1) translate(-1675.4,0)">100</text>
<text x="1675.4" y="1651.1" font-size="20" fill="#6d6e71" font-family="Liberation Sans, sans-serif" transform="translate(1675.4,0) scale(0.78,1) translate(-1675.4,0)">0</text>
<text x="0" y="0" font-size="16.5" font-weight="700" fill="#58595b" text-anchor="middle" font-family="Liberation Sans, sans-serif" transform="translate(1055,1440.4) rotate(-90) scale(0.96,1)">Current (A)</text>
<text x="0" y="0" font-size="16.5" font-weight="700" fill="#58595b" text-anchor="middle" font-family="Liberation Sans, sans-serif" transform="translate(1740,1478) rotate(-90) scale(0.96,1)">Power (W)</text>
<text x="1391.6" y="1704" font-size="16.5" font-weight="700" fill="#58595b" text-anchor="middle" font-family="Liberation Sans, sans-serif" transform="translate(1391.6,0) scale(0.96,1) translate(-1391.6,0)">Voltage (V)</text>
<line x1="1723.5" y1="1291.3" x2="1744" y2="1291.3" stroke="#1d1d1f" stroke-width="3.4" stroke-linecap="round"/>
<text x="1754.5" y="1294.1" font-size="14.5" fill="#58595b" font-family="Liberation Sans, sans-serif" transform="translate(1754.5,0) scale(0.8,1) translate(-1754.5,0)">1000W/m<tspan font-size="8.5" dy="-6.5">2</tspan></text>
<line x1="1723.5" y1="1314.7" x2="1744" y2="1314.7" stroke="#6aa854" stroke-width="3.4" stroke-linecap="round"/>
<text x="1754.5" y="1317.5" font-size="14.5" fill="#58595b" font-family="Liberation Sans, sans-serif" transform="translate(1754.5,0) scale(0.8,1) translate(-1754.5,0)">800W/m<tspan font-size="8.5" dy="-6.5">2</tspan></text>
<line x1="1723.5" y1="1338.1" x2="1744" y2="1338.1" stroke="#d46c47" stroke-width="3.4" stroke-linecap="round"/>
<text x="1754.5" y="1340.9" font-size="14.5" fill="#58595b" font-family="Liberation Sans, sans-serif" transform="translate(1754.5,0) scale(0.8,1) translate(-1754.5,0)">600W/m<tspan font-size="8.5" dy="-6.5">2</tspan></text>
<line x1="1723.5" y1="1361.3" x2="1744" y2="1361.3" stroke="#6cb4c6" stroke-width="3.4" stroke-linecap="round"/>
<text x="1754.5" y="1364.1" font-size="14.5" fill="#58595b" font-family="Liberation Sans, sans-serif" transform="translate(1754.5,0) scale(0.8,1) translate(-1754.5,0)">400W/m<tspan font-size="8.5" dy="-6.5">2</tspan></text>
<line x1="1723.5" y1="1386.4" x2="1744" y2="1386.4" stroke="#5f4c8c" stroke-width="3.4" stroke-linecap="round"/>
<text x="1754.5" y="1389.2" font-size="14.5" fill="#58595b" font-family="Liberation Sans, sans-serif" transform="translate(1754.5,0) scale(0.8,1) translate(-1754.5,0)">200W/m<tspan font-size="8.5" dy="-6.5">2</tspan></text>
<line x1="187.1" y1="1813.9" x2="831.7" y2="1813.9" stroke="#4d4d4f" stroke-width="1.3"/>
<line x1="187.1" y1="1817.0" x2="831.7" y2="1817.0" stroke="#4d4d4f" stroke-width="1.3"/>
<line x1="187.1" y1="1823.0" x2="831.7" y2="1823.0" stroke="#4d4d4f" stroke-width="1.3"/>
<line x1="187.1" y1="1826.4" x2="831.7" y2="1826.4" stroke="#4d4d4f" stroke-width="1.3"/>
<line x1="187.1" y1="1813.9" x2="187.1" y2="1826.4" stroke="#4d4d4f" stroke-width="1.3"/>
<line x1="831.7" y1="1813.9" x2="831.7" y2="1826.4" stroke="#4d4d4f" stroke-width="1.3"/>
<rect x="187.1" y="1878.8" width="644.6" height="356.2" fill="none" stroke="#4d4d4f" stroke-width="1.6"/>
<rect x="198" y="1889.4" width="623.3" height="335.3" fill="none" stroke="#4d4d4f" stroke-width="1.4"/>
<line x1="187.1" y1="1878.8" x2="198" y2="1889.4" stroke="#4d4d4f" stroke-width="1.3"/>
<line x1="831.7" y1="1878.8" x2="821.3" y2="1889.4" stroke="#4d4d4f" stroke-width="1.3"/>
<line x1="187.1" y1="2235" x2="198" y2="2224.7" stroke="#4d4d4f" stroke-width="1.3"/>
<line x1="831.7" y1="2235" x2="821.3" y2="2224.7" stroke="#4d4d4f" stroke-width="1.3"/>
<rect x="199.10" y="1890.10" width="30.1" height="61.80" fill="none" stroke="#4d4d4f" stroke-width="1.4"/>
<rect x="233.53" y="1890.10" width="30.1" height="61.80" fill="none" stroke="#4d4d4f" stroke-width="1.4"/>
<rect x="267.96" y="1890.10" width="30.1" height="61.80" fill="none" stroke="#4d4d4f" stroke-width="1.4"/>
<rect x="302.39" y="1890.10" width="30.1" height="61.80" fill="none" stroke="#4d4d4f" stroke-width="1.4"/>
<rect x="336.82" y="1890.10" width="30.1" height="61.80" fill="none" stroke="#4d4d4f" stroke-width="1.4"/>
<rect x="371.25" y="1890.10" width="30.1" height="61.80" fill="none" stroke="#4d4d4f" stroke-width="1.4"/>
<rect x="405.68" y="1890.10" width="30.1" height="61.80" fill="none" stroke="#4d4d4f" stroke-width="1.4"/>
<rect x="440.11" y="1890.10" width="30.1" height="61.80" fill="none" stroke="#4d4d4f" stroke-width="1.4"/>
<rect x="474.54" y="1890.10" width="30.1" height="61.80" fill="none" stroke="#4d4d4f" stroke-width="1.4"/>
<rect x="513.90" y="1890.10" width="30.1" height="61.80" fill="none" stroke="#4d4d4f" stroke-width="1.4"/>
<rect x="548.46" y="1890.10" width="30.1" height="61.80" fill="none" stroke="#4d4d4f" stroke-width="1.4"/>
<rect x="583.02" y="1890.10" width="30.1" height="61.80" fill="none" stroke="#4d4d4f" stroke-width="1.4"/>
<rect x="617.58" y="1890.10" width="30.1" height="61.80" fill="none" stroke="#4d4d4f" stroke-width="1.4"/>
<rect x="652.14" y="1890.10" width="30.1" height="61.80" fill="none" stroke="#4d4d4f" stroke-width="1.4"/>
<rect x="686.70" y="1890.10" width="30.1" height="61.80" fill="none" stroke="#4d4d4f" stroke-width="1.4"/>
<rect x="721.26" y="1890.10" width="30.1" height="61.80" fill="none" stroke="#4d4d4f" stroke-width="1.4"/>
<rect x="755.82" y="1890.10" width="30.1" height="61.80" fill="none" stroke="#4d4d4f" stroke-width="1.4"/>
<rect x="790.38" y="1890.10" width="30.1" height="61.80" fill="none" stroke="#4d4d4f" stroke-width="1.4"/>
<rect x="199.10" y="1958.40" width="30.1" height="61.80" fill="none" stroke="#4d4d4f" stroke-width="1.4"/>
<rect x="233.53" y="1958.40" width="30.1" height="61.80" fill="none" stroke="#4d4d4f" stroke-width="1.4"/>
<rect x="267.96" y="1958.40" width="30.1" height="61.80" fill="none" stroke="#4d4d4f" stroke-width="1.4"/>
<rect x="302.39" y="1958.40" width="30.1" height="61.80" fill="none" stroke="#4d4d4f" stroke-width="1.4"/>
<rect x="336.82" y="1958.40" width="30.1" height="61.80" fill="none" stroke="#4d4d4f" stroke-width="1.4"/>
<rect x="371.25" y="1958.40" width="30.1" height="61.80" fill="none" stroke="#4d4d4f" stroke-width="1.4"/>
<rect x="405.68" y="1958.40" width="30.1" height="61.80" fill="none" stroke="#4d4d4f" stroke-width="1.4"/>
<rect x="440.11" y="1958.40" width="30.1" height="61.80" fill="none" stroke="#4d4d4f" stroke-width="1.4"/>
<rect x="474.54" y="1958.40" width="30.1" height="61.80" fill="none" stroke="#4d4d4f" stroke-width="1.4"/>
<rect x="513.90" y="1958.40" width="30.1" height="61.80" fill="none" stroke="#4d4d4f" stroke-width="1.4"/>
<rect x="548.46" y="1958.40" width="30.1" height="61.80" fill="none" stroke="#4d4d4f" stroke-width="1.4"/>
<rect x="583.02" y="1958.40" width="30.1" height="61.80" fill="none" stroke="#4d4d4f" stroke-width="1.4"/>
<rect x="617.58" y="1958.40" width="30.1" height="61.80" fill="none" stroke="#4d4d4f" stroke-width="1.4"/>
<rect x="652.14" y="1958.40" width="30.1" height="61.80" fill="none" stroke="#4d4d4f" stroke-width="1.4"/>
<rect x="686.70" y="1958.40" width="30.1" height="61.80" fill="none" stroke="#4d4d4f" stroke-width="1.4"/>
<rect x="721.26" y="1958.40" width="30.1" height="61.80" fill="none" stroke="#4d4d4f" stroke-width="1.4"/>
<rect x="755.82" y="1958.40" width="30.1" height="61.80" fill="none" stroke="#4d4d4f" stroke-width="1.4"/>
<rect x="790.38" y="1958.40" width="30.1" height="61.80" fill="none" stroke="#4d4d4f" stroke-width="1.4"/>
<rect x="199.10" y="2026.70" width="30.1" height="61.80" fill="none" stroke="#4d4d4f" stroke-width="1.4"/>
<rect x="233.53" y="2026.70" width="30.1" height="61.80" fill="none" stroke="#4d4d4f" stroke-width="1.4"/>
<rect x="267.96" y="2026.70" width="30.1" height="61.80" fill="none" stroke="#4d4d4f" stroke-width="1.4"/>
<rect x="302.39" y="2026.70" width="30.1" height="61.80" fill="none" stroke="#4d4d4f" stroke-width="1.4"/>
<rect x="336.82" y="2026.70" width="30.1" height="61.80" fill="none" stroke="#4d4d4f" stroke-width="1.4"/>
<rect x="371.25" y="2026.70" width="30.1" height="61.80" fill="none" stroke="#4d4d4f" stroke-width="1.4"/>
<rect x="405.68" y="2026.70" width="30.1" height="61.80" fill="none" stroke="#4d4d4f" stroke-width="1.4"/>
<rect x="440.11" y="2026.70" width="30.1" height="61.80" fill="none" stroke="#4d4d4f" stroke-width="1.4"/>
<rect x="474.54" y="2026.70" width="30.1" height="61.80" fill="none" stroke="#4d4d4f" stroke-width="1.4"/>
<rect x="513.90" y="2026.70" width="30.1" height="61.80" fill="none" stroke="#4d4d4f" stroke-width="1.4"/>
<rect x="548.46" y="2026.70" width="30.1" height="61.80" fill="none" stroke="#4d4d4f" stroke-width="1.4"/>
<rect x="583.02" y="2026.70" width="30.1" height="61.80" fill="none" stroke="#4d4d4f" stroke-width="1.4"/>
<rect x="617.58" y="2026.70" width="30.1" height="61.80" fill="none" stroke="#4d4d4f" stroke-width="1.4"/>
<rect x="652.14" y="2026.70" width="30.1" height="61.80" fill="none" stroke="#4d4d4f" stroke-width="1.4"/>
<rect x="686.70" y="2026.70" width="30.1" height="61.80" fill="none" stroke="#4d4d4f" stroke-width="1.4"/>
<rect x="721.26" y="2026.70" width="30.1" height="61.80" fill="none" stroke="#4d4d4f" stroke-width="1.4"/>
<rect x="755.82" y="2026.70" width="30.1" height="61.80" fill="none" stroke="#4d4d4f" stroke-width="1.4"/>
<rect x="790.38" y="2026.70" width="30.1" height="61.80" fill="none" stroke="#4d4d4f" stroke-width="1.4"/>
<rect x="199.10" y="2095.00" width="30.1" height="61.80" fill="none" stroke="#4d4d4f" stroke-width="1.4"/>
<rect x="233.53" y="2095.00" width="30.1" height="61.80" fill="none" stroke="#4d4d4f" stroke-width="1.4"/>
<rect x="267.96" y="2095.00" width="30.1" height="61.80" fill="none" stroke="#4d4d4f" stroke-width="1.4"/>
<rect x="302.39" y="2095.00" width="30.1" height="61.80" fill="none" stroke="#4d4d4f" stroke-width="1.4"/>
<rect x="336.82" y="2095.00" width="30.1" height="61.80" fill="none" stroke="#4d4d4f" stroke-width="1.4"/>
<rect x="371.25" y="2095.00" width="30.1" height="61.80" fill="none" stroke="#4d4d4f" stroke-width="1.4"/>
<rect x="405.68" y="2095.00" width="30.1" height="61.80" fill="none" stroke="#4d4d4f" stroke-width="1.4"/>
<rect x="440.11" y="2095.00" width="30.1" height="61.80" fill="none" stroke="#4d4d4f" stroke-width="1.4"/>
<rect x="474.54" y="2095.00" width="30.1" height="61.80" fill="none" stroke="#4d4d4f" stroke-width="1.4"/>
<rect x="513.90" y="2095.00" width="30.1" height="61.80" fill="none" stroke="#4d4d4f" stroke-width="1.4"/>
<rect x="548.46" y="2095.00" width="30.1" height="61.80" fill="none" stroke="#4d4d4f" stroke-width="1.4"/>
<rect x="583.02" y="2095.00" width="30.1" height="61.80" fill="none" stroke="#4d4d4f" stroke-width="1.4"/>
<rect x="617.58" y="2095.00" width="30.1" height="61.80" fill="none" stroke="#4d4d4f" stroke-width="1.4"/>
<rect x="652.14" y="2095.00" width="30.1" height="61.80" fill="none" stroke="#4d4d4f" stroke-width="1.4"/>
<rect x="686.70" y="2095.00" width="30.1" height="61.80" fill="none" stroke="#4d4d4f" stroke-width="1.4"/>
<rect x="721.26" y="2095.00" width="30.1" height="61.80" fill="none" stroke="#4d4d4f" stroke-width="1.4"/>
<rect x="755.82" y="2095.00" width="30.1" height="61.80" fill="none" stroke="#4d4d4f" stroke-width="1.4"/>
<rect x="790.38" y="2095.00" width="30.1" height="61.80" fill="none" stroke="#4d4d4f" stroke-width="1.4"/>
<rect x="199.10" y="2163.30" width="30.1" height="60.70" fill="none" stroke="#4d4d4f" stroke-width="1.4"/>
<rect x="233.53" y="2163.30" width="30.1" height="60.70" fill="none" stroke="#4d4d4f" stroke-width="1.4"/>
<rect x="267.96" y="2163.30" width="30.1" height="60.70" fill="none" stroke="#4d4d4f" stroke-width="1.4"/>
<rect x="302.39" y="2163.30" width="30.1" height="60.70" fill="none" stroke="#4d4d4f" stroke-width="1.4"/>
<rect x="336.82" y="2163.30" width="30.1" height="60.70" fill="none" stroke="#4d4d4f" stroke-width="1.4"/>
<rect x="371.25" y="2163.30" width="30.1" height="60.70" fill="none" stroke="#4d4d4f" stroke-width="1.4"/>
<rect x="405.68" y="2163.30" width="30.1" height="60.70" fill="none" stroke="#4d4d4f" stroke-width="1.4"/>
<rect x="440.11" y="2163.30" width="30.1" height="60.70" fill="none" stroke="#4d4d4f" stroke-width="1.4"/>
<rect x="474.54" y="2163.30" width="30.1" height="60.70" fill="none" stroke="#4d4d4f" stroke-width="1.4"/>
<rect x="513.90" y="2163.30" width="30.1" height="60.70" fill="none" stroke="#4d4d4f" stroke-width="1.4"/>
<rect x="548.46" y="2163.30" width="30.1" height="60.70" fill="none" stroke="#4d4d4f" stroke-width="1.4"/>
<rect x="583.02" y="2163.30" width="30.1" height="60.70" fill="none" stroke="#4d4d4f" stroke-width="1.4"/>
<rect x="617.58" y="2163.30" width="30.1" height="60.70" fill="none" stroke="#4d4d4f" stroke-width="1.4"/>
<rect x="652.14" y="2163.30" width="30.1" height="60.70" fill="none" stroke="#4d4d4f" stroke-width="1.4"/>
<rect x="686.70" y="2163.30" width="30.1" height="60.70" fill="none" stroke="#4d4d4f" stroke-width="1.4"/>
<rect x="721.26" y="2163.30" width="30.1" height="60.70" fill="none" stroke="#4d4d4f" stroke-width="1.4"/>
<rect x="755.82" y="2163.30" width="30.1" height="60.70" fill="none" stroke="#4d4d4f" stroke-width="1.4"/>
<rect x="790.38" y="2163.30" width="30.1" height="60.70" fill="none" stroke="#4d4d4f" stroke-width="1.4"/>
<rect x="505.5" y="1938.8" width="8.4" height="28" fill="#111"/>
<rect x="492.4" y="1942.5" width="6.3" height="23.3" fill="#111"/>
<path d="M495.6,1943 V1918 A7.4,7.4 0 0 1 510.4,1918 V1939" fill="none" stroke="#111" stroke-width="1.6"/>
<rect x="505.5" y="2079.2" width="8.4" height="24" fill="#111"/>
<line x1="509.7" y1="2103" x2="509.7" y2="2109" stroke="#111" stroke-width="1"/>
<rect x="505.5" y="2142.7" width="8.4" height="28.1" fill="#111"/>
<rect x="492.4" y="2135" width="6.3" height="25.4" fill="#111"/>
<line x1="495.5" y1="2130" x2="495.5" y2="2136" stroke="#111" stroke-width="1"/>
<path d="M495.6,2160 V2196.6 A7.4,7.4 0 0 0 510.4,2196.6 V2170" fill="none" stroke="#111" stroke-width="1.6"/>
<circle cx="241.5" cy="1885.2" r="0.9" fill="#4d4d4f"/>
<circle cx="241.5" cy="2229.8" r="0.9" fill="#4d4d4f"/>
<circle cx="245.5" cy="1885.2" r="0.9" fill="#4d4d4f"/>
<circle cx="245.5" cy="2229.8" r="0.9" fill="#4d4d4f"/>
<circle cx="775.5" cy="1885.2" r="0.9" fill="#4d4d4f"/>
<circle cx="775.5" cy="2229.8" r="0.9" fill="#4d4d4f"/>
<circle cx="779.5" cy="1885.2" r="0.9" fill="#4d4d4f"/>
<circle cx="779.5" cy="2229.8" r="0.9" fill="#4d4d4f"/>
<rect x="289.5" y="1883.6000000000001" width="5" height="3.2" rx="1.2" fill="none" stroke="#4d4d4f" stroke-width="0.7"/>
<rect x="289.5" y="2228.2000000000003" width="5" height="3.2" rx="1.2" fill="none" stroke="#4d4d4f" stroke-width="0.7"/>
<rect x="721.1" y="1883.6000000000001" width="5" height="3.2" rx="1.2" fill="none" stroke="#4d4d4f" stroke-width="0.7"/>
<rect x="721.1" y="2228.2000000000003" width="5" height="3.2" rx="1.2" fill="none" stroke="#4d4d4f" stroke-width="0.7"/>
<rect x="459.5" y="1884.2" width="3" height="2" fill="none" stroke="#4d4d4f" stroke-width="0.5"/>
<rect x="459.5" y="2228.8" width="3" height="2" fill="none" stroke="#4d4d4f" stroke-width="0.5"/>
<rect x="551.5" y="1884.2" width="3" height="2" fill="none" stroke="#4d4d4f" stroke-width="0.5"/>
<rect x="551.5" y="2228.8" width="3" height="2" fill="none" stroke="#4d4d4f" stroke-width="0.5"/>
<circle cx="194.3" cy="1931" r="0.8" fill="#4d4d4f"/>
<circle cx="194.3" cy="1935" r="0.8" fill="#4d4d4f"/>
<circle cx="194.3" cy="2178" r="0.8" fill="#4d4d4f"/>
<circle cx="194.3" cy="2182" r="0.8" fill="#4d4d4f"/>
<circle cx="824.5" cy="1931" r="0.8" fill="#4d4d4f"/>
<circle cx="824.5" cy="1935" r="0.8" fill="#4d4d4f"/>
<circle cx="824.5" cy="2178" r="0.8" fill="#4d4d4f"/>
<circle cx="824.5" cy="2182" r="0.8" fill="#4d4d4f"/>
<line x1="142.2" y1="1793.3" x2="142.2" y2="2235" stroke="#c0393f" stroke-width="1.1"/>
<line x1="134.5" y1="1813.8" x2="187.6" y2="1813.8" stroke="#c0393f" stroke-width="1.1"/>
<line x1="134.5" y1="1826.4" x2="187.6" y2="1826.4" stroke="#c0393f" stroke-width="1.1"/>
<line x1="134.5" y1="1878.6" x2="187.6" y2="1878.6" stroke="#c0393f" stroke-width="1.1"/>
<line x1="134.5" y1="2235" x2="187.6" y2="2235" stroke="#c0393f" stroke-width="1.1"/>
<line x1="831.7" y1="1826.4" x2="831.7" y2="1878.8" stroke="#c0393f" stroke-width="1.1"/>
<line x1="189" y1="1861.7" x2="830" y2="1861.7" stroke="#d87a70" stroke-width="1.2"/>
<path d="M188,1861.7 l9,-2.5 v5 z" fill="#c0393f"/>
<path d="M831,1861.7 l-9,-2.5 v5 z" fill="#c0393f"/>
<path d="M142.2,1813.8 l-2,-8 h4 z" fill="#c0393f"/>
<path d="M142.2,1826.4 l-2,8 h4 z" fill="#c0393f"/>
<path d="M142.2,1878.6 l-2,8 h4 z" fill="#c0393f"/>
<path d="M142.2,2235 l-2,-8 h4 z" fill="#c0393f"/>
<text x="516.3" y="1852" font-size="22" fill="#c0393f" text-anchor="middle" font-family="Liberation Sans, sans-serif" transform="translate(516.3,0) scale(0.83,1) translate(-516.3,0)">1960mm</text>
<text x="0" y="0" font-size="23" fill="#c0393f" text-anchor="middle" font-family="Liberation Sans, sans-serif" transform="translate(168.3,1851.5) rotate(-90) scale(0.8,1)">30mm</text>
<text x="0" y="0" font-size="23" fill="#c0393f" text-anchor="middle" font-family="Liberation Sans, sans-serif" transform="translate(169.1,2059.5) rotate(-90) scale(0.8,1)">1096mm</text>
</svg>
</body></html>
